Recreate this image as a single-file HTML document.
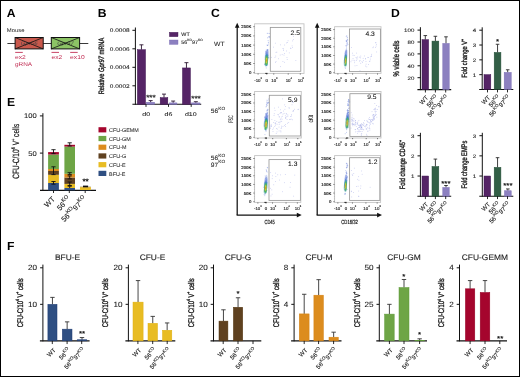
<!DOCTYPE html>
<html><head><meta charset="utf-8"><style>
html,body{margin:0;padding:0;background:#fff;overflow:hidden;}
svg{display:block;opacity:0.999;}
text{font-family:"Liberation Sans", sans-serif;text-rendering:geometricPrecision;}
</style></head><body>
<svg width="520" height="377" viewBox="0 0 520 377" font-family="Liberation Sans, sans-serif">
<rect x="0" y="0" width="520" height="377" fill="#fff"/>
<text transform="translate(6.70 16.70) scale(1.030 1)" font-size="11.8" fill="#000" font-weight="bold">A</text>
<text transform="translate(97.80 16.60) scale(1.030 1)" font-size="11.8" fill="#000" font-weight="bold">B</text>
<text transform="translate(211.00 16.80) scale(1.030 1)" font-size="11.8" fill="#000" font-weight="bold">C</text>
<text transform="translate(391.10 16.60) scale(1.030 1)" font-size="11.8" fill="#000" font-weight="bold">D</text>
<text transform="translate(6.90 105.90) scale(1.030 1)" font-size="11.8" fill="#000" font-weight="bold">E</text>
<text transform="translate(7.00 249.80) scale(1.030 1)" font-size="11.8" fill="#000" font-weight="bold">F</text>
<text transform="translate(6.80 32.30) scale(1.100 1)" font-size="5.4" fill="#222">Mouse</text>
<line x1="7.40" y1="43.50" x2="88.30" y2="43.50" stroke="#222" stroke-width="0.9"/>
<rect x="15.10" y="37.50" width="28.10" height="11.40" fill="#c9584c" stroke="#111" stroke-width="1.0"/>
<text transform="translate(29.15 45.40) scale(1.150 1)" font-size="5.2" fill="#444" text-anchor="middle" font-style="italic">Gpr56</text>
<line x1="15.10" y1="37.50" x2="43.20" y2="48.90" stroke="#111" stroke-width="0.8"/>
<line x1="15.10" y1="48.90" x2="43.20" y2="37.50" stroke="#111" stroke-width="0.8"/>
<rect x="51.30" y="37.50" width="28.30" height="11.40" fill="#8cc465" stroke="#111" stroke-width="1.0"/>
<text transform="translate(65.45 45.40) scale(1.150 1)" font-size="5.2" fill="#444" text-anchor="middle" font-style="italic">Gpr97</text>
<line x1="51.30" y1="37.50" x2="79.60" y2="48.90" stroke="#111" stroke-width="0.8"/>
<line x1="51.30" y1="48.90" x2="79.60" y2="37.50" stroke="#111" stroke-width="0.8"/>
<line x1="15.20" y1="52.40" x2="22.80" y2="52.40" stroke="#c22f55" stroke-width="0.9"/>
<line x1="51.50" y1="52.40" x2="59.00" y2="52.40" stroke="#c22f55" stroke-width="0.9"/>
<line x1="70.20" y1="52.40" x2="77.70" y2="52.40" stroke="#c22f55" stroke-width="0.9"/>
<text transform="translate(15.00 58.50) scale(1.200 1)" font-size="5.6" fill="#c22f55">ex2</text>
<text transform="translate(51.40 58.50) scale(1.200 1)" font-size="5.6" fill="#c22f55">ex2</text>
<text transform="translate(70.10 58.50) scale(1.200 1)" font-size="5.6" fill="#c22f55">ex10</text>
<text transform="translate(15.00 65.60) scale(1.150 1)" font-size="5.6" fill="#c22f55">gRNA</text>
<line x1="135.40" y1="104.80" x2="135.40" y2="27.50" stroke="#111" stroke-width="1.0"/>
<line x1="132.40" y1="85.80" x2="135.40" y2="85.80" stroke="#111" stroke-width="1.0"/>
<text transform="translate(129.60 87.71) scale(1.220 1)" font-size="5.3" fill="#1a1a1a" stroke="#1a1a1a" stroke-width="0.082" text-anchor="end">0.0002</text>
<line x1="132.40" y1="67.30" x2="135.40" y2="67.30" stroke="#111" stroke-width="1.0"/>
<text transform="translate(129.60 69.21) scale(1.220 1)" font-size="5.3" fill="#1a1a1a" stroke="#1a1a1a" stroke-width="0.082" text-anchor="end">0.0004</text>
<line x1="132.40" y1="48.80" x2="135.40" y2="48.80" stroke="#111" stroke-width="1.0"/>
<text transform="translate(129.60 50.71) scale(1.220 1)" font-size="5.3" fill="#1a1a1a" stroke="#1a1a1a" stroke-width="0.082" text-anchor="end">0.0006</text>
<line x1="132.40" y1="30.30" x2="135.40" y2="30.30" stroke="#111" stroke-width="1.0"/>
<text transform="translate(129.60 32.21) scale(1.220 1)" font-size="5.3" fill="#1a1a1a" stroke="#1a1a1a" stroke-width="0.082" text-anchor="end">0.0008</text>
<line x1="132.40" y1="104.30" x2="201.20" y2="104.30" stroke="#111" stroke-width="1.1"/>
<line x1="141.45" y1="49.72" x2="141.45" y2="44.82" stroke="#2a1530" stroke-width="0.9"/>
<line x1="139.45" y1="44.82" x2="143.45" y2="44.82" stroke="#2a1530" stroke-width="0.9"/>
<rect x="137.40" y="49.72" width="8.10" height="54.58" fill="#552466" stroke="#3e1450" stroke-width="0.5"/>
<line x1="150.65" y1="102.27" x2="150.65" y2="100.60" stroke="#2a1530" stroke-width="0.9"/>
<line x1="148.65" y1="100.60" x2="152.65" y2="100.60" stroke="#2a1530" stroke-width="0.9"/>
<rect x="146.70" y="102.27" width="7.90" height="2.03" fill="#8c80c0" stroke="#7a6cb4" stroke-width="0.5"/>
<line x1="164.00" y1="97.64" x2="164.00" y2="94.12" stroke="#2a1530" stroke-width="0.9"/>
<line x1="162.00" y1="94.12" x2="166.00" y2="94.12" stroke="#2a1530" stroke-width="0.9"/>
<rect x="160.20" y="97.64" width="7.60" height="6.66" fill="#552466" stroke="#3e1450" stroke-width="0.5"/>
<line x1="173.15" y1="102.91" x2="173.15" y2="101.06" stroke="#2a1530" stroke-width="0.9"/>
<line x1="171.15" y1="101.06" x2="175.15" y2="101.06" stroke="#2a1530" stroke-width="0.9"/>
<rect x="169.40" y="102.91" width="7.50" height="1.39" fill="#8c80c0" stroke="#7a6cb4" stroke-width="0.5"/>
<line x1="186.45" y1="67.95" x2="186.45" y2="62.67" stroke="#2a1530" stroke-width="0.9"/>
<line x1="184.45" y1="62.67" x2="188.45" y2="62.67" stroke="#2a1530" stroke-width="0.9"/>
<rect x="182.50" y="67.95" width="7.90" height="36.35" fill="#552466" stroke="#3e1450" stroke-width="0.5"/>
<line x1="195.85" y1="102.91" x2="195.85" y2="101.71" stroke="#2a1530" stroke-width="0.9"/>
<line x1="193.85" y1="101.71" x2="197.85" y2="101.71" stroke="#2a1530" stroke-width="0.9"/>
<rect x="191.70" y="102.91" width="8.30" height="1.39" fill="#8c80c0" stroke="#7a6cb4" stroke-width="0.5"/>
<line x1="146.00" y1="104.30" x2="146.00" y2="106.90" stroke="#111" stroke-width="0.9"/>
<line x1="168.50" y1="104.30" x2="168.50" y2="106.90" stroke="#111" stroke-width="0.9"/>
<line x1="191.20" y1="104.30" x2="191.20" y2="106.90" stroke="#111" stroke-width="0.9"/>
<text transform="translate(146.20 115.70) scale(1.300 1)" font-size="5.4" fill="#1a1a1a" stroke="#1a1a1a" stroke-width="0.077" text-anchor="middle">d0</text>
<text transform="translate(168.50 115.70) scale(1.300 1)" font-size="5.4" fill="#1a1a1a" stroke="#1a1a1a" stroke-width="0.077" text-anchor="middle">d6</text>
<text transform="translate(190.80 115.70) scale(1.300 1)" font-size="5.4" fill="#1a1a1a" stroke="#1a1a1a" stroke-width="0.077" text-anchor="middle">d10</text>
<text transform="translate(150.90 99.90) scale(1.100 1)" font-size="7.4" fill="#111" stroke="#111" stroke-width="0.182" text-anchor="middle">***</text>
<text transform="translate(196.00 100.60) scale(1.100 1)" font-size="7.4" fill="#111" stroke="#111" stroke-width="0.182" text-anchor="middle">***</text>
<rect x="169.40" y="32.30" width="8.60" height="4.40" fill="#552466" stroke="#3e1450" stroke-width="0.4"/>
<rect x="169.40" y="40.00" width="8.60" height="4.40" fill="#8c80c0" stroke="#7a6cb4" stroke-width="0.4"/>
<text transform="translate(181.30 36.30) scale(1.040 1)" font-size="5.2" fill="#1a1a1a" stroke="#1a1a1a" stroke-width="0.096">WT</text>
<text transform="translate(181.30 44.30) scale(1.040 1)" font-size="5.2" fill="#1a1a1a" stroke="#1a1a1a" stroke-width="0.096">56<tspan font-size="3.12" dy="-3.12">KO</tspan><tspan dy="3.12">97</tspan><tspan font-size="3.12" dy="-3.12">KO</tspan></text>
<text transform="translate(104.20 66.00) scale(1.250 1) rotate(-90)" font-size="6.2" fill="#1a1a1a" stroke="#1a1a1a" stroke-width="0.288" text-anchor="middle" textLength="56.50" lengthAdjust="spacingAndGlyphs">Relative <tspan font-style="italic">Gpr97</tspan> mRNA</text>
<defs><filter id="bl" x="-50%" y="-20%" width="200%" height="140%"><feGaussianBlur stdDeviation="0.45"/></filter><filter id="bl2" x="-50%" y="-20%" width="200%" height="140%"><feGaussianBlur stdDeviation="0.3"/></filter></defs>
<rect x="254.60" y="23.80" width="49.40" height="49.60" fill="none" stroke="#c4c4c4" stroke-width="0.9"/>
<line x1="253.30" y1="72.70" x2="254.60" y2="72.70" stroke="#444" stroke-width="0.7"/>
<line x1="253.90" y1="70.86" x2="254.60" y2="70.86" stroke="#888" stroke-width="0.4"/>
<line x1="253.90" y1="69.02" x2="254.60" y2="69.02" stroke="#888" stroke-width="0.4"/>
<line x1="253.90" y1="67.18" x2="254.60" y2="67.18" stroke="#888" stroke-width="0.4"/>
<line x1="253.90" y1="65.34" x2="254.60" y2="65.34" stroke="#888" stroke-width="0.4"/>
<text transform="translate(251.30 74.15) scale(1.050 1)" font-size="4.1" fill="#111" stroke="#111" stroke-width="0.143" text-anchor="end">0</text>
<line x1="253.30" y1="63.50" x2="254.60" y2="63.50" stroke="#444" stroke-width="0.7"/>
<line x1="253.90" y1="61.66" x2="254.60" y2="61.66" stroke="#888" stroke-width="0.4"/>
<line x1="253.90" y1="59.82" x2="254.60" y2="59.82" stroke="#888" stroke-width="0.4"/>
<line x1="253.90" y1="57.98" x2="254.60" y2="57.98" stroke="#888" stroke-width="0.4"/>
<line x1="253.90" y1="56.14" x2="254.60" y2="56.14" stroke="#888" stroke-width="0.4"/>
<text transform="translate(251.30 64.95) scale(1.050 1)" font-size="4.1" fill="#111" stroke="#111" stroke-width="0.143" text-anchor="end">50K</text>
<line x1="253.30" y1="54.30" x2="254.60" y2="54.30" stroke="#444" stroke-width="0.7"/>
<line x1="253.90" y1="52.46" x2="254.60" y2="52.46" stroke="#888" stroke-width="0.4"/>
<line x1="253.90" y1="50.62" x2="254.60" y2="50.62" stroke="#888" stroke-width="0.4"/>
<line x1="253.90" y1="48.78" x2="254.60" y2="48.78" stroke="#888" stroke-width="0.4"/>
<line x1="253.90" y1="46.94" x2="254.60" y2="46.94" stroke="#888" stroke-width="0.4"/>
<text transform="translate(251.30 55.75) scale(1.050 1)" font-size="4.1" fill="#111" stroke="#111" stroke-width="0.143" text-anchor="end">100K</text>
<line x1="253.30" y1="45.10" x2="254.60" y2="45.10" stroke="#444" stroke-width="0.7"/>
<line x1="253.90" y1="43.26" x2="254.60" y2="43.26" stroke="#888" stroke-width="0.4"/>
<line x1="253.90" y1="41.42" x2="254.60" y2="41.42" stroke="#888" stroke-width="0.4"/>
<line x1="253.90" y1="39.58" x2="254.60" y2="39.58" stroke="#888" stroke-width="0.4"/>
<line x1="253.90" y1="37.74" x2="254.60" y2="37.74" stroke="#888" stroke-width="0.4"/>
<text transform="translate(251.30 46.55) scale(1.050 1)" font-size="4.1" fill="#111" stroke="#111" stroke-width="0.143" text-anchor="end">150K</text>
<line x1="253.30" y1="35.90" x2="254.60" y2="35.90" stroke="#444" stroke-width="0.7"/>
<line x1="253.90" y1="34.06" x2="254.60" y2="34.06" stroke="#888" stroke-width="0.4"/>
<line x1="253.90" y1="32.22" x2="254.60" y2="32.22" stroke="#888" stroke-width="0.4"/>
<line x1="253.90" y1="30.38" x2="254.60" y2="30.38" stroke="#888" stroke-width="0.4"/>
<line x1="253.90" y1="28.54" x2="254.60" y2="28.54" stroke="#888" stroke-width="0.4"/>
<text transform="translate(251.30 37.35) scale(1.050 1)" font-size="4.1" fill="#111" stroke="#111" stroke-width="0.143" text-anchor="end">200K</text>
<line x1="253.30" y1="26.70" x2="254.60" y2="26.70" stroke="#444" stroke-width="0.7"/>
<text transform="translate(251.30 28.15) scale(1.050 1)" font-size="4.1" fill="#111" stroke="#111" stroke-width="0.143" text-anchor="end">250K</text>
<line x1="258.09" y1="73.40" x2="258.09" y2="74.60" stroke="#444" stroke-width="0.7"/>
<line x1="266.78" y1="73.40" x2="266.78" y2="74.60" stroke="#444" stroke-width="0.7"/>
<line x1="273.76" y1="73.40" x2="273.76" y2="74.60" stroke="#444" stroke-width="0.7"/>
<line x1="288.23" y1="73.40" x2="288.23" y2="74.60" stroke="#444" stroke-width="0.7"/>
<line x1="300.31" y1="73.40" x2="300.31" y2="74.60" stroke="#444" stroke-width="0.7"/>
<text transform="translate(258.09 81.60)" font-size="4.4" fill="#1a1a1a" stroke="#1a1a1a" stroke-width="0.120" text-anchor="middle">-10<tspan font-size="2.64" dy="-2.42">3</tspan></text>
<text transform="translate(266.78 81.60)" font-size="4.4" fill="#1a1a1a" stroke="#1a1a1a" stroke-width="0.120" text-anchor="middle">0</text>
<text transform="translate(274.36 81.60)" font-size="4.4" fill="#1a1a1a" stroke="#1a1a1a" stroke-width="0.120" text-anchor="middle">10<tspan font-size="2.64" dy="-2.42">3</tspan></text>
<text transform="translate(288.83 81.60)" font-size="4.4" fill="#1a1a1a" stroke="#1a1a1a" stroke-width="0.120" text-anchor="middle">10<tspan font-size="2.64" dy="-2.42">4</tspan></text>
<text transform="translate(300.91 81.60)" font-size="4.4" fill="#1a1a1a" stroke="#1a1a1a" stroke-width="0.120" text-anchor="middle">10<tspan font-size="2.64" dy="-2.42">5</tspan></text>
<rect x="273.03" y="46.75" width="0.75" height="0.75" fill="#959ce2" opacity="0.62"/>
<rect x="276.46" y="51.78" width="0.75" height="0.75" fill="#959ce2" opacity="0.62"/>
<rect x="291.97" y="47.08" width="0.75" height="0.75" fill="#959ce2" opacity="0.62"/>
<rect x="275.59" y="51.93" width="0.75" height="0.75" fill="#959ce2" opacity="0.62"/>
<rect x="282.52" y="61.19" width="0.75" height="0.75" fill="#959ce2" opacity="0.62"/>
<rect x="284.26" y="44.64" width="0.75" height="0.75" fill="#959ce2" opacity="0.62"/>
<rect x="275.63" y="61.10" width="0.75" height="0.75" fill="#959ce2" opacity="0.62"/>
<rect x="274.58" y="57.20" width="0.75" height="0.75" fill="#959ce2" opacity="0.62"/>
<rect x="279.99" y="44.50" width="0.75" height="0.75" fill="#959ce2" opacity="0.62"/>
<rect x="283.09" y="48.64" width="0.75" height="0.75" fill="#959ce2" opacity="0.62"/>
<rect x="286.07" y="50.61" width="0.75" height="0.75" fill="#959ce2" opacity="0.62"/>
<rect x="283.97" y="61.91" width="0.75" height="0.75" fill="#959ce2" opacity="0.62"/>
<rect x="282.56" y="48.25" width="0.75" height="0.75" fill="#959ce2" opacity="0.62"/>
<rect x="292.93" y="39.30" width="0.75" height="0.75" fill="#959ce2" opacity="0.62"/>
<rect x="279.83" y="54.65" width="0.75" height="0.75" fill="#959ce2" opacity="0.62"/>
<rect x="292.11" y="40.55" width="0.75" height="0.75" fill="#959ce2" opacity="0.62"/>
<rect x="286.03" y="42.54" width="0.75" height="0.75" fill="#959ce2" opacity="0.62"/>
<rect x="290.57" y="48.22" width="0.75" height="0.75" fill="#959ce2" opacity="0.62"/>
<rect x="280.22" y="66.28" width="0.75" height="0.75" fill="#959ce2" opacity="0.62"/>
<rect x="271.24" y="56.92" width="0.75" height="0.75" fill="#959ce2" opacity="0.62"/>
<rect x="275.35" y="55.68" width="0.75" height="0.75" fill="#959ce2" opacity="0.62"/>
<rect x="288.89" y="52.52" width="0.75" height="0.75" fill="#959ce2" opacity="0.62"/>
<rect x="286.60" y="57.21" width="0.75" height="0.75" fill="#959ce2" opacity="0.62"/>
<rect x="295.48" y="60.11" width="0.75" height="0.75" fill="#959ce2" opacity="0.62"/>
<rect x="278.25" y="58.40" width="0.75" height="0.75" fill="#959ce2" opacity="0.62"/>
<rect x="281.79" y="54.28" width="0.75" height="0.75" fill="#959ce2" opacity="0.62"/>
<rect x="287.68" y="40.39" width="0.75" height="0.75" fill="#959ce2" opacity="0.62"/>
<rect x="291.74" y="45.55" width="0.75" height="0.75" fill="#959ce2" opacity="0.62"/>
<rect x="292.99" y="35.94" width="0.75" height="0.75" fill="#959ce2" opacity="0.62"/>
<rect x="274.94" y="42.80" width="0.75" height="0.75" fill="#959ce2" opacity="0.62"/>
<rect x="283.59" y="54.75" width="0.75" height="0.75" fill="#959ce2" opacity="0.62"/>
<rect x="283.23" y="50.22" width="0.75" height="0.75" fill="#959ce2" opacity="0.62"/>
<rect x="275.04" y="62.10" width="0.75" height="0.75" fill="#959ce2" opacity="0.62"/>
<rect x="286.83" y="59.08" width="0.75" height="0.75" fill="#959ce2" opacity="0.62"/>
<rect x="284.05" y="53.04" width="0.75" height="0.75" fill="#959ce2" opacity="0.62"/>
<rect x="290.12" y="47.75" width="0.75" height="0.75" fill="#959ce2" opacity="0.62"/>
<rect x="287.20" y="42.08" width="0.75" height="0.75" fill="#959ce2" opacity="0.62"/>
<rect x="266.30" y="57.83" width="0.8" height="0.8" fill="#8094e0" opacity="0.7"/>
<rect x="267.30" y="44.86" width="0.8" height="0.8" fill="#8094e0" opacity="0.7"/>
<rect x="267.02" y="37.45" width="0.8" height="0.8" fill="#8094e0" opacity="0.7"/>
<rect x="268.05" y="42.56" width="0.8" height="0.8" fill="#8094e0" opacity="0.7"/>
<rect x="265.56" y="65.91" width="0.8" height="0.8" fill="#8094e0" opacity="0.7"/>
<rect x="266.02" y="58.20" width="0.8" height="0.8" fill="#8094e0" opacity="0.7"/>
<rect x="268.98" y="33.09" width="0.8" height="0.8" fill="#8094e0" opacity="0.7"/>
<rect x="267.39" y="56.78" width="0.8" height="0.8" fill="#8094e0" opacity="0.7"/>
<rect x="265.97" y="60.86" width="0.8" height="0.8" fill="#8094e0" opacity="0.7"/>
<rect x="267.18" y="56.62" width="0.8" height="0.8" fill="#8094e0" opacity="0.7"/>
<rect x="266.93" y="62.39" width="0.8" height="0.8" fill="#8094e0" opacity="0.7"/>
<rect x="266.82" y="56.26" width="0.8" height="0.8" fill="#8094e0" opacity="0.7"/>
<rect x="265.10" y="51.44" width="0.8" height="0.8" fill="#8094e0" opacity="0.7"/>
<rect x="265.33" y="62.97" width="0.8" height="0.8" fill="#8094e0" opacity="0.7"/>
<rect x="265.12" y="63.51" width="0.8" height="0.8" fill="#8094e0" opacity="0.7"/>
<rect x="267.04" y="56.19" width="0.8" height="0.8" fill="#8094e0" opacity="0.7"/>
<rect x="266.27" y="65.10" width="0.8" height="0.8" fill="#8094e0" opacity="0.7"/>
<rect x="264.94" y="64.80" width="0.8" height="0.8" fill="#8094e0" opacity="0.7"/>
<rect x="265.90" y="52.81" width="0.8" height="0.8" fill="#8094e0" opacity="0.7"/>
<rect x="267.33" y="58.00" width="0.8" height="0.8" fill="#8094e0" opacity="0.7"/>
<rect x="267.50" y="49.14" width="0.8" height="0.8" fill="#8094e0" opacity="0.7"/>
<rect x="267.20" y="60.87" width="0.8" height="0.8" fill="#8094e0" opacity="0.7"/>
<rect x="265.46" y="53.33" width="0.8" height="0.8" fill="#8094e0" opacity="0.7"/>
<rect x="267.65" y="32.91" width="0.8" height="0.8" fill="#8094e0" opacity="0.7"/>
<rect x="268.77" y="37.26" width="0.8" height="0.8" fill="#8094e0" opacity="0.7"/>
<rect x="265.58" y="57.78" width="0.8" height="0.8" fill="#8094e0" opacity="0.7"/>
<rect x="267.28" y="57.35" width="0.8" height="0.8" fill="#8094e0" opacity="0.7"/>
<rect x="267.77" y="44.45" width="0.8" height="0.8" fill="#8094e0" opacity="0.7"/>
<rect x="265.94" y="51.78" width="0.8" height="0.8" fill="#8094e0" opacity="0.7"/>
<rect x="268.42" y="36.34" width="0.8" height="0.8" fill="#8094e0" opacity="0.7"/>
<rect x="264.57" y="64.15" width="0.8" height="0.8" fill="#8094e0" opacity="0.7"/>
<rect x="265.70" y="63.16" width="0.8" height="0.8" fill="#8094e0" opacity="0.7"/>
<rect x="267.08" y="44.99" width="0.8" height="0.8" fill="#8094e0" opacity="0.7"/>
<rect x="267.33" y="49.81" width="0.8" height="0.8" fill="#8094e0" opacity="0.7"/>
<rect x="267.63" y="57.05" width="0.8" height="0.8" fill="#8094e0" opacity="0.7"/>
<rect x="266.29" y="58.59" width="0.8" height="0.8" fill="#8094e0" opacity="0.7"/>
<rect x="267.48" y="56.60" width="0.8" height="0.8" fill="#8094e0" opacity="0.7"/>
<rect x="265.51" y="61.72" width="0.8" height="0.8" fill="#8094e0" opacity="0.7"/>
<rect x="269.00" y="36.34" width="0.8" height="0.8" fill="#8094e0" opacity="0.7"/>
<rect x="265.80" y="67.54" width="0.8" height="0.8" fill="#8094e0" opacity="0.7"/>
<rect x="268.76" y="36.47" width="0.8" height="0.8" fill="#8094e0" opacity="0.7"/>
<rect x="267.12" y="49.92" width="0.8" height="0.8" fill="#8094e0" opacity="0.7"/>
<rect x="264.08" y="63.66" width="0.8" height="0.8" fill="#8094e0" opacity="0.7"/>
<rect x="266.81" y="61.52" width="0.8" height="0.8" fill="#8094e0" opacity="0.7"/>
<rect x="266.84" y="32.90" width="0.8" height="0.8" fill="#8094e0" opacity="0.7"/>
<rect x="267.71" y="40.09" width="0.8" height="0.8" fill="#8094e0" opacity="0.7"/>
<rect x="265.66" y="51.78" width="0.8" height="0.8" fill="#8094e0" opacity="0.7"/>
<rect x="265.11" y="59.39" width="0.8" height="0.8" fill="#8094e0" opacity="0.7"/>
<rect x="267.28" y="64.50" width="0.8" height="0.8" fill="#8094e0" opacity="0.7"/>
<rect x="266.33" y="64.94" width="0.8" height="0.8" fill="#8094e0" opacity="0.7"/>
<rect x="266.49" y="63.30" width="0.8" height="0.8" fill="#8094e0" opacity="0.7"/>
<rect x="267.22" y="58.01" width="0.8" height="0.8" fill="#8094e0" opacity="0.7"/>
<rect x="265.38" y="55.19" width="0.8" height="0.8" fill="#8094e0" opacity="0.7"/>
<rect x="266.88" y="52.45" width="0.8" height="0.8" fill="#8094e0" opacity="0.7"/>
<rect x="265.45" y="56.10" width="0.8" height="0.8" fill="#8094e0" opacity="0.7"/>
<rect x="268.34" y="57.35" width="0.8" height="0.8" fill="#8094e0" opacity="0.7"/>
<rect x="266.36" y="58.75" width="0.8" height="0.8" fill="#8094e0" opacity="0.7"/>
<rect x="266.77" y="56.70" width="0.8" height="0.8" fill="#8094e0" opacity="0.7"/>
<rect x="266.63" y="44.72" width="0.8" height="0.8" fill="#8094e0" opacity="0.7"/>
<rect x="265.20" y="60.63" width="0.8" height="0.8" fill="#8094e0" opacity="0.7"/>
<rect x="267.71" y="54.85" width="0.8" height="0.8" fill="#8094e0" opacity="0.7"/>
<rect x="267.91" y="41.81" width="0.8" height="0.8" fill="#8094e0" opacity="0.7"/>
<rect x="266.33" y="61.54" width="0.8" height="0.8" fill="#8094e0" opacity="0.7"/>
<rect x="264.77" y="58.83" width="0.8" height="0.8" fill="#8094e0" opacity="0.7"/>
<rect x="265.50" y="64.49" width="0.8" height="0.8" fill="#8094e0" opacity="0.7"/>
<rect x="266.20" y="62.53" width="0.8" height="0.8" fill="#8094e0" opacity="0.7"/>
<rect x="267.39" y="58.49" width="0.8" height="0.8" fill="#8094e0" opacity="0.7"/>
<rect x="266.43" y="52.47" width="0.8" height="0.8" fill="#8094e0" opacity="0.7"/>
<rect x="266.88" y="58.62" width="0.8" height="0.8" fill="#8094e0" opacity="0.7"/>
<rect x="265.64" y="62.32" width="0.8" height="0.8" fill="#8094e0" opacity="0.7"/>
<g filter="url(#bl)" transform="translate(266.50 60.50) scale(1.0 1) rotate(4) translate(-266.50 -60.50)"><ellipse cx="266.50" cy="57.50" rx="1.7" ry="8.5" fill="#7088dc" opacity="0.85"/><ellipse cx="266.50" cy="59.50" rx="1.5" ry="6.0" fill="#3a80c8"/><ellipse cx="266.50" cy="60.50" rx="1.45" ry="5.6" fill="#2fa58a"/><ellipse cx="266.50" cy="60.50" rx="1.25" ry="4.6" fill="#5db84a"/><ellipse cx="266.50" cy="60.50" rx="0.85" ry="3.0" fill="#d7cd34"/><ellipse cx="266.50" cy="60.50" rx="0.45" ry="1.3" fill="#e58a2c"/></g>
<line x1="265.30" y1="73.40" x2="267.50" y2="73.40" stroke="#222" stroke-width="1.0"/>
<rect x="270.30" y="27.40" width="30.50" height="43.90" fill="none" stroke="#999" stroke-width="0.85"/>
<text transform="translate(299.90 34.80) scale(1.050 1)" font-size="6.4" fill="#111" stroke="#111" stroke-width="0.057" text-anchor="end">2.5</text>
<rect x="334.60" y="26.70" width="46.40" height="46.70" fill="none" stroke="#c4c4c4" stroke-width="0.9"/>
<line x1="333.30" y1="72.70" x2="334.60" y2="72.70" stroke="#444" stroke-width="0.7"/>
<line x1="333.90" y1="70.98" x2="334.60" y2="70.98" stroke="#888" stroke-width="0.4"/>
<line x1="333.90" y1="69.25" x2="334.60" y2="69.25" stroke="#888" stroke-width="0.4"/>
<line x1="333.90" y1="67.53" x2="334.60" y2="67.53" stroke="#888" stroke-width="0.4"/>
<line x1="333.90" y1="65.80" x2="334.60" y2="65.80" stroke="#888" stroke-width="0.4"/>
<text transform="translate(331.30 74.15) scale(1.050 1)" font-size="4.1" fill="#111" stroke="#111" stroke-width="0.143" text-anchor="end">0</text>
<line x1="333.30" y1="64.08" x2="334.60" y2="64.08" stroke="#444" stroke-width="0.7"/>
<line x1="333.90" y1="62.36" x2="334.60" y2="62.36" stroke="#888" stroke-width="0.4"/>
<line x1="333.90" y1="60.63" x2="334.60" y2="60.63" stroke="#888" stroke-width="0.4"/>
<line x1="333.90" y1="58.91" x2="334.60" y2="58.91" stroke="#888" stroke-width="0.4"/>
<line x1="333.90" y1="57.18" x2="334.60" y2="57.18" stroke="#888" stroke-width="0.4"/>
<text transform="translate(331.30 65.53) scale(1.050 1)" font-size="4.1" fill="#111" stroke="#111" stroke-width="0.143" text-anchor="end">50K</text>
<line x1="333.30" y1="55.46" x2="334.60" y2="55.46" stroke="#444" stroke-width="0.7"/>
<line x1="333.90" y1="53.74" x2="334.60" y2="53.74" stroke="#888" stroke-width="0.4"/>
<line x1="333.90" y1="52.01" x2="334.60" y2="52.01" stroke="#888" stroke-width="0.4"/>
<line x1="333.90" y1="50.29" x2="334.60" y2="50.29" stroke="#888" stroke-width="0.4"/>
<line x1="333.90" y1="48.56" x2="334.60" y2="48.56" stroke="#888" stroke-width="0.4"/>
<text transform="translate(331.30 56.91) scale(1.050 1)" font-size="4.1" fill="#111" stroke="#111" stroke-width="0.143" text-anchor="end">100K</text>
<line x1="333.30" y1="46.84" x2="334.60" y2="46.84" stroke="#444" stroke-width="0.7"/>
<line x1="333.90" y1="45.12" x2="334.60" y2="45.12" stroke="#888" stroke-width="0.4"/>
<line x1="333.90" y1="43.39" x2="334.60" y2="43.39" stroke="#888" stroke-width="0.4"/>
<line x1="333.90" y1="41.67" x2="334.60" y2="41.67" stroke="#888" stroke-width="0.4"/>
<line x1="333.90" y1="39.94" x2="334.60" y2="39.94" stroke="#888" stroke-width="0.4"/>
<text transform="translate(331.30 48.29) scale(1.050 1)" font-size="4.1" fill="#111" stroke="#111" stroke-width="0.143" text-anchor="end">150K</text>
<line x1="333.30" y1="38.22" x2="334.60" y2="38.22" stroke="#444" stroke-width="0.7"/>
<line x1="333.90" y1="36.50" x2="334.60" y2="36.50" stroke="#888" stroke-width="0.4"/>
<line x1="333.90" y1="34.77" x2="334.60" y2="34.77" stroke="#888" stroke-width="0.4"/>
<line x1="333.90" y1="33.05" x2="334.60" y2="33.05" stroke="#888" stroke-width="0.4"/>
<line x1="333.90" y1="31.32" x2="334.60" y2="31.32" stroke="#888" stroke-width="0.4"/>
<text transform="translate(331.30 39.67) scale(1.050 1)" font-size="4.1" fill="#111" stroke="#111" stroke-width="0.143" text-anchor="end">200K</text>
<line x1="333.30" y1="29.60" x2="334.60" y2="29.60" stroke="#444" stroke-width="0.7"/>
<text transform="translate(331.30 31.05) scale(1.050 1)" font-size="4.1" fill="#111" stroke="#111" stroke-width="0.143" text-anchor="end">250K</text>
<line x1="337.88" y1="73.40" x2="337.88" y2="74.60" stroke="#444" stroke-width="0.7"/>
<line x1="346.04" y1="73.40" x2="346.04" y2="74.60" stroke="#444" stroke-width="0.7"/>
<line x1="352.60" y1="73.40" x2="352.60" y2="74.60" stroke="#444" stroke-width="0.7"/>
<line x1="366.19" y1="73.40" x2="366.19" y2="74.60" stroke="#444" stroke-width="0.7"/>
<line x1="377.53" y1="73.40" x2="377.53" y2="74.60" stroke="#444" stroke-width="0.7"/>
<text transform="translate(337.88 81.60)" font-size="4.4" fill="#1a1a1a" stroke="#1a1a1a" stroke-width="0.120" text-anchor="middle">-10<tspan font-size="2.64" dy="-2.42">3</tspan></text>
<text transform="translate(346.04 81.60)" font-size="4.4" fill="#1a1a1a" stroke="#1a1a1a" stroke-width="0.120" text-anchor="middle">0</text>
<text transform="translate(353.20 81.60)" font-size="4.4" fill="#1a1a1a" stroke="#1a1a1a" stroke-width="0.120" text-anchor="middle">10<tspan font-size="2.64" dy="-2.42">3</tspan></text>
<text transform="translate(366.79 81.60)" font-size="4.4" fill="#1a1a1a" stroke="#1a1a1a" stroke-width="0.120" text-anchor="middle">10<tspan font-size="2.64" dy="-2.42">4</tspan></text>
<text transform="translate(378.13 81.60)" font-size="4.4" fill="#1a1a1a" stroke="#1a1a1a" stroke-width="0.120" text-anchor="middle">10<tspan font-size="2.64" dy="-2.42">5</tspan></text>
<rect x="362.77" y="57.91" width="0.75" height="0.75" fill="#959ce2" opacity="0.62"/>
<rect x="356.15" y="59.93" width="0.75" height="0.75" fill="#959ce2" opacity="0.62"/>
<rect x="359.26" y="56.75" width="0.75" height="0.75" fill="#959ce2" opacity="0.62"/>
<rect x="365.24" y="58.63" width="0.75" height="0.75" fill="#959ce2" opacity="0.62"/>
<rect x="354.40" y="60.54" width="0.75" height="0.75" fill="#959ce2" opacity="0.62"/>
<rect x="376.27" y="51.60" width="0.75" height="0.75" fill="#959ce2" opacity="0.62"/>
<rect x="352.59" y="54.85" width="0.75" height="0.75" fill="#959ce2" opacity="0.62"/>
<rect x="362.10" y="62.01" width="0.75" height="0.75" fill="#959ce2" opacity="0.62"/>
<rect x="353.82" y="55.23" width="0.75" height="0.75" fill="#959ce2" opacity="0.62"/>
<rect x="356.39" y="57.65" width="0.75" height="0.75" fill="#959ce2" opacity="0.62"/>
<rect x="353.55" y="59.85" width="0.75" height="0.75" fill="#959ce2" opacity="0.62"/>
<rect x="359.07" y="60.74" width="0.75" height="0.75" fill="#959ce2" opacity="0.62"/>
<rect x="369.91" y="58.70" width="0.75" height="0.75" fill="#959ce2" opacity="0.62"/>
<rect x="371.05" y="55.72" width="0.75" height="0.75" fill="#959ce2" opacity="0.62"/>
<rect x="365.59" y="61.16" width="0.75" height="0.75" fill="#959ce2" opacity="0.62"/>
<rect x="351.15" y="46.99" width="0.75" height="0.75" fill="#959ce2" opacity="0.62"/>
<rect x="375.27" y="42.38" width="0.75" height="0.75" fill="#959ce2" opacity="0.62"/>
<rect x="360.25" y="57.50" width="0.75" height="0.75" fill="#959ce2" opacity="0.62"/>
<rect x="354.27" y="62.39" width="0.75" height="0.75" fill="#959ce2" opacity="0.62"/>
<rect x="365.18" y="58.08" width="0.75" height="0.75" fill="#959ce2" opacity="0.62"/>
<rect x="352.10" y="52.79" width="0.75" height="0.75" fill="#959ce2" opacity="0.62"/>
<rect x="365.07" y="65.67" width="0.75" height="0.75" fill="#959ce2" opacity="0.62"/>
<rect x="361.63" y="60.92" width="0.75" height="0.75" fill="#959ce2" opacity="0.62"/>
<rect x="366.43" y="66.49" width="0.75" height="0.75" fill="#959ce2" opacity="0.62"/>
<rect x="351.64" y="59.82" width="0.75" height="0.75" fill="#959ce2" opacity="0.62"/>
<rect x="369.02" y="60.98" width="0.75" height="0.75" fill="#959ce2" opacity="0.62"/>
<rect x="356.55" y="65.00" width="0.75" height="0.75" fill="#959ce2" opacity="0.62"/>
<rect x="372.46" y="47.37" width="0.75" height="0.75" fill="#959ce2" opacity="0.62"/>
<rect x="356.70" y="58.66" width="0.75" height="0.75" fill="#959ce2" opacity="0.62"/>
<rect x="356.26" y="52.71" width="0.75" height="0.75" fill="#959ce2" opacity="0.62"/>
<rect x="350.55" y="61.41" width="0.75" height="0.75" fill="#959ce2" opacity="0.62"/>
<rect x="360.36" y="62.89" width="0.75" height="0.75" fill="#959ce2" opacity="0.62"/>
<rect x="376.10" y="43.92" width="0.75" height="0.75" fill="#959ce2" opacity="0.62"/>
<rect x="360.38" y="55.69" width="0.75" height="0.75" fill="#959ce2" opacity="0.62"/>
<rect x="368.01" y="64.01" width="0.75" height="0.75" fill="#959ce2" opacity="0.62"/>
<rect x="363.16" y="60.33" width="0.75" height="0.75" fill="#959ce2" opacity="0.62"/>
<rect x="375.72" y="45.66" width="0.75" height="0.75" fill="#959ce2" opacity="0.62"/>
<rect x="359.71" y="59.97" width="0.75" height="0.75" fill="#959ce2" opacity="0.62"/>
<rect x="373.25" y="46.61" width="0.75" height="0.75" fill="#959ce2" opacity="0.62"/>
<rect x="369.62" y="60.62" width="0.75" height="0.75" fill="#959ce2" opacity="0.62"/>
<rect x="357.32" y="56.59" width="0.75" height="0.75" fill="#959ce2" opacity="0.62"/>
<rect x="355.63" y="56.97" width="0.75" height="0.75" fill="#959ce2" opacity="0.62"/>
<rect x="354.63" y="65.45" width="0.75" height="0.75" fill="#959ce2" opacity="0.62"/>
<rect x="363.96" y="55.61" width="0.75" height="0.75" fill="#959ce2" opacity="0.62"/>
<rect x="375.59" y="42.37" width="0.75" height="0.75" fill="#959ce2" opacity="0.62"/>
<rect x="368.29" y="57.10" width="0.75" height="0.75" fill="#959ce2" opacity="0.62"/>
<rect x="365.71" y="63.78" width="0.75" height="0.75" fill="#959ce2" opacity="0.62"/>
<rect x="369.95" y="56.43" width="0.75" height="0.75" fill="#959ce2" opacity="0.62"/>
<rect x="371.30" y="53.91" width="0.75" height="0.75" fill="#959ce2" opacity="0.62"/>
<rect x="375.25" y="47.26" width="0.75" height="0.75" fill="#959ce2" opacity="0.62"/>
<rect x="371.03" y="55.78" width="0.75" height="0.75" fill="#959ce2" opacity="0.62"/>
<rect x="359.59" y="70.23" width="0.75" height="0.75" fill="#959ce2" opacity="0.62"/>
<rect x="367.41" y="56.94" width="0.75" height="0.75" fill="#959ce2" opacity="0.62"/>
<rect x="352.66" y="58.07" width="0.75" height="0.75" fill="#959ce2" opacity="0.62"/>
<rect x="346.16" y="40.99" width="0.8" height="0.8" fill="#8094e0" opacity="0.7"/>
<rect x="345.22" y="62.55" width="0.8" height="0.8" fill="#8094e0" opacity="0.7"/>
<rect x="345.94" y="52.69" width="0.8" height="0.8" fill="#8094e0" opacity="0.7"/>
<rect x="344.45" y="55.56" width="0.8" height="0.8" fill="#8094e0" opacity="0.7"/>
<rect x="346.36" y="35.37" width="0.8" height="0.8" fill="#8094e0" opacity="0.7"/>
<rect x="345.85" y="51.95" width="0.8" height="0.8" fill="#8094e0" opacity="0.7"/>
<rect x="345.96" y="40.80" width="0.8" height="0.8" fill="#8094e0" opacity="0.7"/>
<rect x="347.56" y="43.97" width="0.8" height="0.8" fill="#8094e0" opacity="0.7"/>
<rect x="346.29" y="39.83" width="0.8" height="0.8" fill="#8094e0" opacity="0.7"/>
<rect x="344.25" y="61.76" width="0.8" height="0.8" fill="#8094e0" opacity="0.7"/>
<rect x="346.17" y="46.68" width="0.8" height="0.8" fill="#8094e0" opacity="0.7"/>
<rect x="344.73" y="62.27" width="0.8" height="0.8" fill="#8094e0" opacity="0.7"/>
<rect x="344.04" y="65.22" width="0.8" height="0.8" fill="#8094e0" opacity="0.7"/>
<rect x="346.08" y="48.59" width="0.8" height="0.8" fill="#8094e0" opacity="0.7"/>
<rect x="344.70" y="56.60" width="0.8" height="0.8" fill="#8094e0" opacity="0.7"/>
<rect x="345.62" y="51.43" width="0.8" height="0.8" fill="#8094e0" opacity="0.7"/>
<rect x="345.15" y="57.23" width="0.8" height="0.8" fill="#8094e0" opacity="0.7"/>
<rect x="347.06" y="42.59" width="0.8" height="0.8" fill="#8094e0" opacity="0.7"/>
<rect x="346.20" y="40.47" width="0.8" height="0.8" fill="#8094e0" opacity="0.7"/>
<rect x="345.44" y="55.49" width="0.8" height="0.8" fill="#8094e0" opacity="0.7"/>
<rect x="344.86" y="58.94" width="0.8" height="0.8" fill="#8094e0" opacity="0.7"/>
<rect x="345.76" y="58.29" width="0.8" height="0.8" fill="#8094e0" opacity="0.7"/>
<rect x="345.56" y="51.26" width="0.8" height="0.8" fill="#8094e0" opacity="0.7"/>
<rect x="344.96" y="55.16" width="0.8" height="0.8" fill="#8094e0" opacity="0.7"/>
<rect x="345.85" y="50.66" width="0.8" height="0.8" fill="#8094e0" opacity="0.7"/>
<rect x="346.89" y="44.60" width="0.8" height="0.8" fill="#8094e0" opacity="0.7"/>
<rect x="345.73" y="55.59" width="0.8" height="0.8" fill="#8094e0" opacity="0.7"/>
<rect x="345.59" y="59.85" width="0.8" height="0.8" fill="#8094e0" opacity="0.7"/>
<rect x="345.05" y="67.78" width="0.8" height="0.8" fill="#8094e0" opacity="0.7"/>
<rect x="344.61" y="62.23" width="0.8" height="0.8" fill="#8094e0" opacity="0.7"/>
<rect x="345.54" y="59.86" width="0.8" height="0.8" fill="#8094e0" opacity="0.7"/>
<rect x="344.77" y="61.97" width="0.8" height="0.8" fill="#8094e0" opacity="0.7"/>
<rect x="345.04" y="63.99" width="0.8" height="0.8" fill="#8094e0" opacity="0.7"/>
<rect x="347.17" y="39.05" width="0.8" height="0.8" fill="#8094e0" opacity="0.7"/>
<rect x="347.44" y="39.54" width="0.8" height="0.8" fill="#8094e0" opacity="0.7"/>
<rect x="346.95" y="42.71" width="0.8" height="0.8" fill="#8094e0" opacity="0.7"/>
<rect x="345.19" y="52.41" width="0.8" height="0.8" fill="#8094e0" opacity="0.7"/>
<rect x="345.74" y="55.96" width="0.8" height="0.8" fill="#8094e0" opacity="0.7"/>
<rect x="344.46" y="62.09" width="0.8" height="0.8" fill="#8094e0" opacity="0.7"/>
<rect x="345.75" y="55.05" width="0.8" height="0.8" fill="#8094e0" opacity="0.7"/>
<rect x="345.38" y="45.39" width="0.8" height="0.8" fill="#8094e0" opacity="0.7"/>
<rect x="345.24" y="58.65" width="0.8" height="0.8" fill="#8094e0" opacity="0.7"/>
<rect x="344.26" y="64.37" width="0.8" height="0.8" fill="#8094e0" opacity="0.7"/>
<rect x="344.78" y="58.86" width="0.8" height="0.8" fill="#8094e0" opacity="0.7"/>
<rect x="345.94" y="50.40" width="0.8" height="0.8" fill="#8094e0" opacity="0.7"/>
<rect x="345.83" y="36.22" width="0.8" height="0.8" fill="#8094e0" opacity="0.7"/>
<rect x="346.94" y="36.79" width="0.8" height="0.8" fill="#8094e0" opacity="0.7"/>
<rect x="346.84" y="37.54" width="0.8" height="0.8" fill="#8094e0" opacity="0.7"/>
<rect x="344.77" y="52.84" width="0.8" height="0.8" fill="#8094e0" opacity="0.7"/>
<rect x="343.84" y="60.40" width="0.8" height="0.8" fill="#8094e0" opacity="0.7"/>
<rect x="347.18" y="40.53" width="0.8" height="0.8" fill="#8094e0" opacity="0.7"/>
<rect x="345.36" y="54.28" width="0.8" height="0.8" fill="#8094e0" opacity="0.7"/>
<rect x="345.86" y="48.72" width="0.8" height="0.8" fill="#8094e0" opacity="0.7"/>
<rect x="346.30" y="50.38" width="0.8" height="0.8" fill="#8094e0" opacity="0.7"/>
<rect x="344.65" y="67.39" width="0.8" height="0.8" fill="#8094e0" opacity="0.7"/>
<rect x="345.71" y="58.42" width="0.8" height="0.8" fill="#8094e0" opacity="0.7"/>
<rect x="345.04" y="55.79" width="0.8" height="0.8" fill="#8094e0" opacity="0.7"/>
<rect x="345.70" y="40.54" width="0.8" height="0.8" fill="#8094e0" opacity="0.7"/>
<rect x="345.17" y="61.31" width="0.8" height="0.8" fill="#8094e0" opacity="0.7"/>
<rect x="344.94" y="57.02" width="0.8" height="0.8" fill="#8094e0" opacity="0.7"/>
<rect x="345.42" y="57.98" width="0.8" height="0.8" fill="#8094e0" opacity="0.7"/>
<rect x="345.34" y="56.91" width="0.8" height="0.8" fill="#8094e0" opacity="0.7"/>
<rect x="346.10" y="44.62" width="0.8" height="0.8" fill="#8094e0" opacity="0.7"/>
<rect x="346.18" y="59.25" width="0.8" height="0.8" fill="#8094e0" opacity="0.7"/>
<rect x="345.98" y="45.48" width="0.8" height="0.8" fill="#8094e0" opacity="0.7"/>
<rect x="345.44" y="53.76" width="0.8" height="0.8" fill="#8094e0" opacity="0.7"/>
<rect x="344.72" y="58.78" width="0.8" height="0.8" fill="#8094e0" opacity="0.7"/>
<rect x="346.04" y="42.66" width="0.8" height="0.8" fill="#8094e0" opacity="0.7"/>
<rect x="344.88" y="60.54" width="0.8" height="0.8" fill="#8094e0" opacity="0.7"/>
<rect x="345.17" y="64.74" width="0.8" height="0.8" fill="#8094e0" opacity="0.7"/>
<g filter="url(#bl)" transform="translate(345.60 61.00) scale(0.75 1) rotate(4) translate(-345.60 -61.00)"><ellipse cx="345.60" cy="58.00" rx="1.7" ry="8.5" fill="#7088dc" opacity="0.85"/><ellipse cx="345.60" cy="60.00" rx="1.5" ry="6.0" fill="#3a80c8"/><ellipse cx="345.60" cy="61.00" rx="1.45" ry="5.6" fill="#2fa58a"/><ellipse cx="345.60" cy="61.00" rx="1.25" ry="4.6" fill="#5db84a"/><ellipse cx="345.60" cy="61.00" rx="0.85" ry="3.0" fill="#d7cd34"/><ellipse cx="345.60" cy="61.00" rx="0.45" ry="1.3" fill="#e58a2c"/></g>
<line x1="344.40" y1="73.40" x2="346.60" y2="73.40" stroke="#222" stroke-width="1.0"/>
<rect x="349.50" y="29.00" width="30.90" height="42.60" fill="none" stroke="#999" stroke-width="0.85"/>
<text transform="translate(374.80 36.40) scale(1.050 1)" font-size="6.4" fill="#111" stroke="#111" stroke-width="0.057" text-anchor="end">4.3</text>
<rect x="254.60" y="91.50" width="46.70" height="46.50" fill="none" stroke="#c4c4c4" stroke-width="0.9"/>
<line x1="253.30" y1="137.30" x2="254.60" y2="137.30" stroke="#444" stroke-width="0.7"/>
<line x1="253.90" y1="135.58" x2="254.60" y2="135.58" stroke="#888" stroke-width="0.4"/>
<line x1="253.90" y1="133.87" x2="254.60" y2="133.87" stroke="#888" stroke-width="0.4"/>
<line x1="253.90" y1="132.15" x2="254.60" y2="132.15" stroke="#888" stroke-width="0.4"/>
<line x1="253.90" y1="130.44" x2="254.60" y2="130.44" stroke="#888" stroke-width="0.4"/>
<text transform="translate(251.30 138.75) scale(1.050 1)" font-size="4.1" fill="#111" stroke="#111" stroke-width="0.143" text-anchor="end">0</text>
<line x1="253.30" y1="128.72" x2="254.60" y2="128.72" stroke="#444" stroke-width="0.7"/>
<line x1="253.90" y1="127.00" x2="254.60" y2="127.00" stroke="#888" stroke-width="0.4"/>
<line x1="253.90" y1="125.29" x2="254.60" y2="125.29" stroke="#888" stroke-width="0.4"/>
<line x1="253.90" y1="123.57" x2="254.60" y2="123.57" stroke="#888" stroke-width="0.4"/>
<line x1="253.90" y1="121.86" x2="254.60" y2="121.86" stroke="#888" stroke-width="0.4"/>
<text transform="translate(251.30 130.17) scale(1.050 1)" font-size="4.1" fill="#111" stroke="#111" stroke-width="0.143" text-anchor="end">50K</text>
<line x1="253.30" y1="120.14" x2="254.60" y2="120.14" stroke="#444" stroke-width="0.7"/>
<line x1="253.90" y1="118.42" x2="254.60" y2="118.42" stroke="#888" stroke-width="0.4"/>
<line x1="253.90" y1="116.71" x2="254.60" y2="116.71" stroke="#888" stroke-width="0.4"/>
<line x1="253.90" y1="114.99" x2="254.60" y2="114.99" stroke="#888" stroke-width="0.4"/>
<line x1="253.90" y1="113.28" x2="254.60" y2="113.28" stroke="#888" stroke-width="0.4"/>
<text transform="translate(251.30 121.59) scale(1.050 1)" font-size="4.1" fill="#111" stroke="#111" stroke-width="0.143" text-anchor="end">100K</text>
<line x1="253.30" y1="111.56" x2="254.60" y2="111.56" stroke="#444" stroke-width="0.7"/>
<line x1="253.90" y1="109.84" x2="254.60" y2="109.84" stroke="#888" stroke-width="0.4"/>
<line x1="253.90" y1="108.13" x2="254.60" y2="108.13" stroke="#888" stroke-width="0.4"/>
<line x1="253.90" y1="106.41" x2="254.60" y2="106.41" stroke="#888" stroke-width="0.4"/>
<line x1="253.90" y1="104.70" x2="254.60" y2="104.70" stroke="#888" stroke-width="0.4"/>
<text transform="translate(251.30 113.01) scale(1.050 1)" font-size="4.1" fill="#111" stroke="#111" stroke-width="0.143" text-anchor="end">150K</text>
<line x1="253.30" y1="102.98" x2="254.60" y2="102.98" stroke="#444" stroke-width="0.7"/>
<line x1="253.90" y1="101.26" x2="254.60" y2="101.26" stroke="#888" stroke-width="0.4"/>
<line x1="253.90" y1="99.55" x2="254.60" y2="99.55" stroke="#888" stroke-width="0.4"/>
<line x1="253.90" y1="97.83" x2="254.60" y2="97.83" stroke="#888" stroke-width="0.4"/>
<line x1="253.90" y1="96.12" x2="254.60" y2="96.12" stroke="#888" stroke-width="0.4"/>
<text transform="translate(251.30 104.43) scale(1.050 1)" font-size="4.1" fill="#111" stroke="#111" stroke-width="0.143" text-anchor="end">200K</text>
<line x1="253.30" y1="94.40" x2="254.60" y2="94.40" stroke="#444" stroke-width="0.7"/>
<text transform="translate(251.30 95.85) scale(1.050 1)" font-size="4.1" fill="#111" stroke="#111" stroke-width="0.143" text-anchor="end">250K</text>
<line x1="257.90" y1="138.00" x2="257.90" y2="139.20" stroke="#444" stroke-width="0.7"/>
<line x1="266.11" y1="138.00" x2="266.11" y2="139.20" stroke="#444" stroke-width="0.7"/>
<line x1="272.71" y1="138.00" x2="272.71" y2="139.20" stroke="#444" stroke-width="0.7"/>
<line x1="286.39" y1="138.00" x2="286.39" y2="139.20" stroke="#444" stroke-width="0.7"/>
<line x1="297.81" y1="138.00" x2="297.81" y2="139.20" stroke="#444" stroke-width="0.7"/>
<text transform="translate(257.90 145.80)" font-size="4.4" fill="#1a1a1a" stroke="#1a1a1a" stroke-width="0.120" text-anchor="middle">-10<tspan font-size="2.64" dy="-2.42">3</tspan></text>
<text transform="translate(266.11 145.80)" font-size="4.4" fill="#1a1a1a" stroke="#1a1a1a" stroke-width="0.120" text-anchor="middle">0</text>
<text transform="translate(273.31 145.80)" font-size="4.4" fill="#1a1a1a" stroke="#1a1a1a" stroke-width="0.120" text-anchor="middle">10<tspan font-size="2.64" dy="-2.42">3</tspan></text>
<text transform="translate(286.99 145.80)" font-size="4.4" fill="#1a1a1a" stroke="#1a1a1a" stroke-width="0.120" text-anchor="middle">10<tspan font-size="2.64" dy="-2.42">4</tspan></text>
<text transform="translate(298.41 145.80)" font-size="4.4" fill="#1a1a1a" stroke="#1a1a1a" stroke-width="0.120" text-anchor="middle">10<tspan font-size="2.64" dy="-2.42">5</tspan></text>
<rect x="273.88" y="113.36" width="0.75" height="0.75" fill="#959ce2" opacity="0.62"/>
<rect x="291.06" y="114.38" width="0.75" height="0.75" fill="#959ce2" opacity="0.62"/>
<rect x="270.59" y="125.09" width="0.75" height="0.75" fill="#959ce2" opacity="0.62"/>
<rect x="270.17" y="127.87" width="0.75" height="0.75" fill="#959ce2" opacity="0.62"/>
<rect x="287.55" y="115.70" width="0.75" height="0.75" fill="#959ce2" opacity="0.62"/>
<rect x="278.72" y="116.44" width="0.75" height="0.75" fill="#959ce2" opacity="0.62"/>
<rect x="291.97" y="100.44" width="0.75" height="0.75" fill="#959ce2" opacity="0.62"/>
<rect x="293.07" y="102.26" width="0.75" height="0.75" fill="#959ce2" opacity="0.62"/>
<rect x="283.25" y="110.68" width="0.75" height="0.75" fill="#959ce2" opacity="0.62"/>
<rect x="279.89" y="119.05" width="0.75" height="0.75" fill="#959ce2" opacity="0.62"/>
<rect x="279.45" y="122.46" width="0.75" height="0.75" fill="#959ce2" opacity="0.62"/>
<rect x="280.00" y="109.43" width="0.75" height="0.75" fill="#959ce2" opacity="0.62"/>
<rect x="271.49" y="119.15" width="0.75" height="0.75" fill="#959ce2" opacity="0.62"/>
<rect x="275.81" y="133.13" width="0.75" height="0.75" fill="#959ce2" opacity="0.62"/>
<rect x="270.87" y="125.66" width="0.75" height="0.75" fill="#959ce2" opacity="0.62"/>
<rect x="282.61" y="125.97" width="0.75" height="0.75" fill="#959ce2" opacity="0.62"/>
<rect x="275.98" y="128.24" width="0.75" height="0.75" fill="#959ce2" opacity="0.62"/>
<rect x="283.97" y="125.20" width="0.75" height="0.75" fill="#959ce2" opacity="0.62"/>
<rect x="287.43" y="114.48" width="0.75" height="0.75" fill="#959ce2" opacity="0.62"/>
<rect x="293.98" y="108.86" width="0.75" height="0.75" fill="#959ce2" opacity="0.62"/>
<rect x="291.92" y="102.20" width="0.75" height="0.75" fill="#959ce2" opacity="0.62"/>
<rect x="291.65" y="104.43" width="0.75" height="0.75" fill="#959ce2" opacity="0.62"/>
<rect x="285.54" y="117.49" width="0.75" height="0.75" fill="#959ce2" opacity="0.62"/>
<rect x="278.82" y="124.18" width="0.75" height="0.75" fill="#959ce2" opacity="0.62"/>
<rect x="288.32" y="122.02" width="0.75" height="0.75" fill="#959ce2" opacity="0.62"/>
<rect x="280.55" y="112.23" width="0.75" height="0.75" fill="#959ce2" opacity="0.62"/>
<rect x="285.29" y="117.40" width="0.75" height="0.75" fill="#959ce2" opacity="0.62"/>
<rect x="273.31" y="122.14" width="0.75" height="0.75" fill="#959ce2" opacity="0.62"/>
<rect x="280.72" y="128.11" width="0.75" height="0.75" fill="#959ce2" opacity="0.62"/>
<rect x="282.06" y="115.85" width="0.75" height="0.75" fill="#959ce2" opacity="0.62"/>
<rect x="279.48" y="121.60" width="0.75" height="0.75" fill="#959ce2" opacity="0.62"/>
<rect x="272.40" y="128.89" width="0.75" height="0.75" fill="#959ce2" opacity="0.62"/>
<rect x="276.62" y="131.53" width="0.75" height="0.75" fill="#959ce2" opacity="0.62"/>
<rect x="293.19" y="110.28" width="0.75" height="0.75" fill="#959ce2" opacity="0.62"/>
<rect x="286.51" y="116.14" width="0.75" height="0.75" fill="#959ce2" opacity="0.62"/>
<rect x="279.63" y="113.10" width="0.75" height="0.75" fill="#959ce2" opacity="0.62"/>
<rect x="287.04" y="122.85" width="0.75" height="0.75" fill="#959ce2" opacity="0.62"/>
<rect x="289.63" y="119.03" width="0.75" height="0.75" fill="#959ce2" opacity="0.62"/>
<rect x="278.63" y="126.69" width="0.75" height="0.75" fill="#959ce2" opacity="0.62"/>
<rect x="274.35" y="125.95" width="0.75" height="0.75" fill="#959ce2" opacity="0.62"/>
<rect x="285.25" y="126.09" width="0.75" height="0.75" fill="#959ce2" opacity="0.62"/>
<rect x="291.05" y="115.69" width="0.75" height="0.75" fill="#959ce2" opacity="0.62"/>
<rect x="276.94" y="128.70" width="0.75" height="0.75" fill="#959ce2" opacity="0.62"/>
<rect x="274.74" y="123.31" width="0.75" height="0.75" fill="#959ce2" opacity="0.62"/>
<rect x="290.00" y="116.14" width="0.75" height="0.75" fill="#959ce2" opacity="0.62"/>
<rect x="281.32" y="120.95" width="0.75" height="0.75" fill="#959ce2" opacity="0.62"/>
<rect x="271.00" y="125.92" width="0.75" height="0.75" fill="#959ce2" opacity="0.62"/>
<rect x="297.93" y="108.87" width="0.75" height="0.75" fill="#959ce2" opacity="0.62"/>
<rect x="274.46" y="120.23" width="0.75" height="0.75" fill="#959ce2" opacity="0.62"/>
<rect x="288.94" y="107.71" width="0.75" height="0.75" fill="#959ce2" opacity="0.62"/>
<rect x="269.94" y="126.49" width="0.75" height="0.75" fill="#959ce2" opacity="0.62"/>
<rect x="279.16" y="116.57" width="0.75" height="0.75" fill="#959ce2" opacity="0.62"/>
<rect x="282.21" y="98.51" width="0.75" height="0.75" fill="#959ce2" opacity="0.62"/>
<rect x="286.09" y="113.58" width="0.75" height="0.75" fill="#959ce2" opacity="0.62"/>
<rect x="277.98" y="106.78" width="0.75" height="0.75" fill="#959ce2" opacity="0.62"/>
<rect x="292.66" y="111.15" width="0.75" height="0.75" fill="#959ce2" opacity="0.62"/>
<rect x="284.52" y="108.89" width="0.75" height="0.75" fill="#959ce2" opacity="0.62"/>
<rect x="280.49" y="120.80" width="0.75" height="0.75" fill="#959ce2" opacity="0.62"/>
<rect x="273.25" y="127.59" width="0.75" height="0.75" fill="#959ce2" opacity="0.62"/>
<rect x="292.05" y="119.43" width="0.75" height="0.75" fill="#959ce2" opacity="0.62"/>
<rect x="297.59" y="109.30" width="0.75" height="0.75" fill="#959ce2" opacity="0.62"/>
<rect x="274.65" y="110.17" width="0.75" height="0.75" fill="#959ce2" opacity="0.62"/>
<rect x="285.14" y="124.23" width="0.75" height="0.75" fill="#959ce2" opacity="0.62"/>
<rect x="280.40" y="130.50" width="0.75" height="0.75" fill="#959ce2" opacity="0.62"/>
<rect x="281.67" y="118.82" width="0.75" height="0.75" fill="#959ce2" opacity="0.62"/>
<rect x="280.62" y="112.29" width="0.75" height="0.75" fill="#959ce2" opacity="0.62"/>
<rect x="286.68" y="119.05" width="0.75" height="0.75" fill="#959ce2" opacity="0.62"/>
<rect x="281.16" y="125.78" width="0.75" height="0.75" fill="#959ce2" opacity="0.62"/>
<rect x="288.58" y="107.47" width="0.75" height="0.75" fill="#959ce2" opacity="0.62"/>
<rect x="276.40" y="121.16" width="0.75" height="0.75" fill="#959ce2" opacity="0.62"/>
<rect x="290.79" y="118.76" width="0.75" height="0.75" fill="#959ce2" opacity="0.62"/>
<rect x="278.69" y="130.56" width="0.75" height="0.75" fill="#959ce2" opacity="0.62"/>
<rect x="280.92" y="116.61" width="0.75" height="0.75" fill="#959ce2" opacity="0.62"/>
<rect x="283.75" y="112.97" width="0.75" height="0.75" fill="#959ce2" opacity="0.62"/>
<rect x="285.01" y="106.12" width="0.75" height="0.75" fill="#959ce2" opacity="0.62"/>
<rect x="274.85" y="122.33" width="0.75" height="0.75" fill="#959ce2" opacity="0.62"/>
<rect x="270.79" y="123.97" width="0.75" height="0.75" fill="#959ce2" opacity="0.62"/>
<rect x="275.38" y="123.28" width="0.75" height="0.75" fill="#959ce2" opacity="0.62"/>
<rect x="280.90" y="112.43" width="0.75" height="0.75" fill="#959ce2" opacity="0.62"/>
<rect x="281.29" y="127.41" width="0.75" height="0.75" fill="#959ce2" opacity="0.62"/>
<rect x="285.80" y="113.39" width="0.75" height="0.75" fill="#959ce2" opacity="0.62"/>
<rect x="280.57" y="118.39" width="0.75" height="0.75" fill="#959ce2" opacity="0.62"/>
<rect x="292.13" y="101.22" width="0.75" height="0.75" fill="#959ce2" opacity="0.62"/>
<rect x="284.29" y="104.52" width="0.75" height="0.75" fill="#959ce2" opacity="0.62"/>
<rect x="280.54" y="131.54" width="0.75" height="0.75" fill="#959ce2" opacity="0.62"/>
<rect x="289.45" y="118.94" width="0.75" height="0.75" fill="#959ce2" opacity="0.62"/>
<rect x="277.50" y="114.27" width="0.75" height="0.75" fill="#959ce2" opacity="0.62"/>
<rect x="285.15" y="117.84" width="0.75" height="0.75" fill="#959ce2" opacity="0.62"/>
<rect x="278.11" y="114.51" width="0.75" height="0.75" fill="#959ce2" opacity="0.62"/>
<rect x="282.58" y="113.73" width="0.75" height="0.75" fill="#959ce2" opacity="0.62"/>
<rect x="273.97" y="107.67" width="0.75" height="0.75" fill="#959ce2" opacity="0.62"/>
<rect x="284.95" y="115.47" width="0.75" height="0.75" fill="#959ce2" opacity="0.62"/>
<rect x="275.05" y="124.73" width="0.75" height="0.75" fill="#959ce2" opacity="0.62"/>
<rect x="292.76" y="110.53" width="0.75" height="0.75" fill="#959ce2" opacity="0.62"/>
<rect x="273.66" y="115.11" width="0.75" height="0.75" fill="#959ce2" opacity="0.62"/>
<rect x="272.63" y="131.02" width="0.75" height="0.75" fill="#959ce2" opacity="0.62"/>
<rect x="278.15" y="121.91" width="0.75" height="0.75" fill="#959ce2" opacity="0.62"/>
<rect x="276.71" y="123.89" width="0.75" height="0.75" fill="#959ce2" opacity="0.62"/>
<rect x="267.87" y="101.88" width="0.8" height="0.8" fill="#8094e0" opacity="0.7"/>
<rect x="267.42" y="102.66" width="0.8" height="0.8" fill="#8094e0" opacity="0.7"/>
<rect x="266.68" y="116.40" width="0.8" height="0.8" fill="#8094e0" opacity="0.7"/>
<rect x="266.40" y="124.98" width="0.8" height="0.8" fill="#8094e0" opacity="0.7"/>
<rect x="265.44" y="120.18" width="0.8" height="0.8" fill="#8094e0" opacity="0.7"/>
<rect x="266.22" y="117.30" width="0.8" height="0.8" fill="#8094e0" opacity="0.7"/>
<rect x="264.57" y="125.20" width="0.8" height="0.8" fill="#8094e0" opacity="0.7"/>
<rect x="266.20" y="123.53" width="0.8" height="0.8" fill="#8094e0" opacity="0.7"/>
<rect x="267.73" y="109.35" width="0.8" height="0.8" fill="#8094e0" opacity="0.7"/>
<rect x="266.00" y="105.78" width="0.8" height="0.8" fill="#8094e0" opacity="0.7"/>
<rect x="265.53" y="121.68" width="0.8" height="0.8" fill="#8094e0" opacity="0.7"/>
<rect x="267.45" y="115.23" width="0.8" height="0.8" fill="#8094e0" opacity="0.7"/>
<rect x="266.44" y="120.47" width="0.8" height="0.8" fill="#8094e0" opacity="0.7"/>
<rect x="265.77" y="123.44" width="0.8" height="0.8" fill="#8094e0" opacity="0.7"/>
<rect x="267.26" y="109.86" width="0.8" height="0.8" fill="#8094e0" opacity="0.7"/>
<rect x="265.40" y="116.56" width="0.8" height="0.8" fill="#8094e0" opacity="0.7"/>
<rect x="265.81" y="122.19" width="0.8" height="0.8" fill="#8094e0" opacity="0.7"/>
<rect x="268.08" y="98.65" width="0.8" height="0.8" fill="#8094e0" opacity="0.7"/>
<rect x="265.68" y="125.67" width="0.8" height="0.8" fill="#8094e0" opacity="0.7"/>
<rect x="264.69" y="125.92" width="0.8" height="0.8" fill="#8094e0" opacity="0.7"/>
<rect x="268.09" y="102.15" width="0.8" height="0.8" fill="#8094e0" opacity="0.7"/>
<rect x="267.12" y="102.45" width="0.8" height="0.8" fill="#8094e0" opacity="0.7"/>
<rect x="265.43" y="127.87" width="0.8" height="0.8" fill="#8094e0" opacity="0.7"/>
<rect x="265.23" y="124.06" width="0.8" height="0.8" fill="#8094e0" opacity="0.7"/>
<rect x="265.53" y="118.90" width="0.8" height="0.8" fill="#8094e0" opacity="0.7"/>
<rect x="264.47" y="125.73" width="0.8" height="0.8" fill="#8094e0" opacity="0.7"/>
<rect x="266.01" y="119.04" width="0.8" height="0.8" fill="#8094e0" opacity="0.7"/>
<rect x="265.28" y="121.26" width="0.8" height="0.8" fill="#8094e0" opacity="0.7"/>
<rect x="265.53" y="118.74" width="0.8" height="0.8" fill="#8094e0" opacity="0.7"/>
<rect x="267.10" y="112.76" width="0.8" height="0.8" fill="#8094e0" opacity="0.7"/>
<rect x="265.06" y="119.87" width="0.8" height="0.8" fill="#8094e0" opacity="0.7"/>
<rect x="264.89" y="121.25" width="0.8" height="0.8" fill="#8094e0" opacity="0.7"/>
<rect x="265.25" y="125.91" width="0.8" height="0.8" fill="#8094e0" opacity="0.7"/>
<rect x="265.12" y="117.60" width="0.8" height="0.8" fill="#8094e0" opacity="0.7"/>
<rect x="266.60" y="104.75" width="0.8" height="0.8" fill="#8094e0" opacity="0.7"/>
<rect x="266.68" y="111.32" width="0.8" height="0.8" fill="#8094e0" opacity="0.7"/>
<rect x="265.93" y="117.47" width="0.8" height="0.8" fill="#8094e0" opacity="0.7"/>
<rect x="265.13" y="125.47" width="0.8" height="0.8" fill="#8094e0" opacity="0.7"/>
<rect x="266.36" y="119.40" width="0.8" height="0.8" fill="#8094e0" opacity="0.7"/>
<rect x="267.08" y="108.87" width="0.8" height="0.8" fill="#8094e0" opacity="0.7"/>
<rect x="265.83" y="117.94" width="0.8" height="0.8" fill="#8094e0" opacity="0.7"/>
<rect x="264.37" y="124.63" width="0.8" height="0.8" fill="#8094e0" opacity="0.7"/>
<rect x="264.14" y="126.22" width="0.8" height="0.8" fill="#8094e0" opacity="0.7"/>
<rect x="266.60" y="123.06" width="0.8" height="0.8" fill="#8094e0" opacity="0.7"/>
<rect x="264.92" y="123.31" width="0.8" height="0.8" fill="#8094e0" opacity="0.7"/>
<rect x="264.82" y="121.84" width="0.8" height="0.8" fill="#8094e0" opacity="0.7"/>
<rect x="265.89" y="118.94" width="0.8" height="0.8" fill="#8094e0" opacity="0.7"/>
<rect x="265.98" y="124.23" width="0.8" height="0.8" fill="#8094e0" opacity="0.7"/>
<rect x="266.32" y="122.45" width="0.8" height="0.8" fill="#8094e0" opacity="0.7"/>
<rect x="265.26" y="119.74" width="0.8" height="0.8" fill="#8094e0" opacity="0.7"/>
<rect x="264.05" y="117.24" width="0.8" height="0.8" fill="#8094e0" opacity="0.7"/>
<rect x="265.98" y="118.84" width="0.8" height="0.8" fill="#8094e0" opacity="0.7"/>
<rect x="265.35" y="129.23" width="0.8" height="0.8" fill="#8094e0" opacity="0.7"/>
<rect x="267.28" y="116.33" width="0.8" height="0.8" fill="#8094e0" opacity="0.7"/>
<rect x="265.23" y="122.68" width="0.8" height="0.8" fill="#8094e0" opacity="0.7"/>
<rect x="266.66" y="122.27" width="0.8" height="0.8" fill="#8094e0" opacity="0.7"/>
<rect x="267.28" y="112.04" width="0.8" height="0.8" fill="#8094e0" opacity="0.7"/>
<rect x="266.55" y="112.96" width="0.8" height="0.8" fill="#8094e0" opacity="0.7"/>
<rect x="265.26" y="124.43" width="0.8" height="0.8" fill="#8094e0" opacity="0.7"/>
<rect x="266.61" y="115.88" width="0.8" height="0.8" fill="#8094e0" opacity="0.7"/>
<rect x="265.28" y="124.04" width="0.8" height="0.8" fill="#8094e0" opacity="0.7"/>
<rect x="266.59" y="104.73" width="0.8" height="0.8" fill="#8094e0" opacity="0.7"/>
<rect x="264.29" y="125.56" width="0.8" height="0.8" fill="#8094e0" opacity="0.7"/>
<rect x="265.79" y="129.76" width="0.8" height="0.8" fill="#8094e0" opacity="0.7"/>
<rect x="266.37" y="126.79" width="0.8" height="0.8" fill="#8094e0" opacity="0.7"/>
<rect x="265.58" y="106.47" width="0.8" height="0.8" fill="#8094e0" opacity="0.7"/>
<rect x="266.99" y="109.88" width="0.8" height="0.8" fill="#8094e0" opacity="0.7"/>
<rect x="266.44" y="115.71" width="0.8" height="0.8" fill="#8094e0" opacity="0.7"/>
<rect x="265.26" y="121.23" width="0.8" height="0.8" fill="#8094e0" opacity="0.7"/>
<rect x="266.55" y="112.32" width="0.8" height="0.8" fill="#8094e0" opacity="0.7"/>
<rect x="265.59" y="124.00" width="0.8" height="0.8" fill="#8094e0" opacity="0.7"/>
<rect x="265.46" y="120.43" width="0.8" height="0.8" fill="#8094e0" opacity="0.7"/>
<rect x="266.38" y="109.84" width="0.8" height="0.8" fill="#8094e0" opacity="0.7"/>
<rect x="265.23" y="121.01" width="0.8" height="0.8" fill="#8094e0" opacity="0.7"/>
<rect x="267.55" y="100.40" width="0.8" height="0.8" fill="#8094e0" opacity="0.7"/>
<rect x="266.04" y="114.39" width="0.8" height="0.8" fill="#8094e0" opacity="0.7"/>
<rect x="265.17" y="126.10" width="0.8" height="0.8" fill="#8094e0" opacity="0.7"/>
<rect x="264.76" y="127.36" width="0.8" height="0.8" fill="#8094e0" opacity="0.7"/>
<rect x="266.30" y="117.89" width="0.8" height="0.8" fill="#8094e0" opacity="0.7"/>
<rect x="266.93" y="120.60" width="0.8" height="0.8" fill="#8094e0" opacity="0.7"/>
<rect x="265.94" y="121.23" width="0.8" height="0.8" fill="#8094e0" opacity="0.7"/>
<rect x="264.56" y="116.23" width="0.8" height="0.8" fill="#8094e0" opacity="0.7"/>
<rect x="265.27" y="113.23" width="0.8" height="0.8" fill="#8094e0" opacity="0.7"/>
<rect x="266.10" y="113.47" width="0.8" height="0.8" fill="#8094e0" opacity="0.7"/>
<rect x="265.36" y="121.08" width="0.8" height="0.8" fill="#8094e0" opacity="0.7"/>
<rect x="266.61" y="113.34" width="0.8" height="0.8" fill="#8094e0" opacity="0.7"/>
<rect x="266.57" y="99.79" width="0.8" height="0.8" fill="#8094e0" opacity="0.7"/>
<rect x="264.55" y="134.28" width="0.8" height="0.8" fill="#8094e0" opacity="0.7"/>
<rect x="265.53" y="114.21" width="0.8" height="0.8" fill="#8094e0" opacity="0.7"/>
<rect x="266.29" y="101.71" width="0.8" height="0.8" fill="#8094e0" opacity="0.7"/>
<rect x="264.90" y="122.73" width="0.8" height="0.8" fill="#8094e0" opacity="0.7"/>
<rect x="266.42" y="102.83" width="0.8" height="0.8" fill="#8094e0" opacity="0.7"/>
<rect x="265.12" y="130.39" width="0.8" height="0.8" fill="#8094e0" opacity="0.7"/>
<rect x="267.24" y="119.86" width="0.8" height="0.8" fill="#8094e0" opacity="0.7"/>
<rect x="268.60" y="102.52" width="0.8" height="0.8" fill="#8094e0" opacity="0.7"/>
<rect x="264.38" y="124.84" width="0.8" height="0.8" fill="#8094e0" opacity="0.7"/>
<rect x="265.30" y="120.70" width="0.8" height="0.8" fill="#8094e0" opacity="0.7"/>
<rect x="265.57" y="123.82" width="0.8" height="0.8" fill="#8094e0" opacity="0.7"/>
<rect x="265.96" y="104.20" width="0.8" height="0.8" fill="#8094e0" opacity="0.7"/>
<rect x="265.74" y="130.74" width="0.8" height="0.8" fill="#8094e0" opacity="0.7"/>
<rect x="265.14" y="117.42" width="0.8" height="0.8" fill="#8094e0" opacity="0.7"/>
<rect x="265.98" y="122.76" width="0.8" height="0.8" fill="#8094e0" opacity="0.7"/>
<rect x="265.64" y="123.83" width="0.8" height="0.8" fill="#8094e0" opacity="0.7"/>
<rect x="264.85" y="125.98" width="0.8" height="0.8" fill="#8094e0" opacity="0.7"/>
<rect x="266.28" y="125.28" width="0.8" height="0.8" fill="#8094e0" opacity="0.7"/>
<rect x="265.75" y="125.76" width="0.8" height="0.8" fill="#8094e0" opacity="0.7"/>
<rect x="266.13" y="122.56" width="0.8" height="0.8" fill="#8094e0" opacity="0.7"/>
<rect x="267.41" y="102.91" width="0.8" height="0.8" fill="#8094e0" opacity="0.7"/>
<rect x="265.80" y="115.31" width="0.8" height="0.8" fill="#8094e0" opacity="0.7"/>
<rect x="266.34" y="125.64" width="0.8" height="0.8" fill="#8094e0" opacity="0.7"/>
<g filter="url(#bl)" transform="translate(266.00 124.50) scale(1.05 1) rotate(4) translate(-266.00 -124.50)"><ellipse cx="266.00" cy="121.50" rx="1.7" ry="8.5" fill="#7088dc" opacity="0.85"/><ellipse cx="266.00" cy="123.50" rx="1.5" ry="6.0" fill="#3a80c8"/><ellipse cx="266.00" cy="124.50" rx="1.45" ry="5.6" fill="#2fa58a"/><ellipse cx="266.00" cy="124.50" rx="1.25" ry="4.6" fill="#5db84a"/><ellipse cx="266.00" cy="124.50" rx="0.85" ry="3.0" fill="#d7cd34"/><ellipse cx="266.00" cy="124.50" rx="0.45" ry="1.3" fill="#e58a2c"/></g>
<line x1="264.80" y1="138.00" x2="267.00" y2="138.00" stroke="#222" stroke-width="1.0"/>
<rect x="269.30" y="95.30" width="31.10" height="40.70" fill="none" stroke="#999" stroke-width="0.85"/>
<text transform="translate(297.40 101.60) scale(1.050 1)" font-size="6.4" fill="#111" stroke="#111" stroke-width="0.057" text-anchor="end">5.9</text>
<rect x="334.60" y="91.50" width="46.40" height="46.50" fill="none" stroke="#c4c4c4" stroke-width="0.9"/>
<line x1="333.30" y1="137.30" x2="334.60" y2="137.30" stroke="#444" stroke-width="0.7"/>
<line x1="333.90" y1="135.58" x2="334.60" y2="135.58" stroke="#888" stroke-width="0.4"/>
<line x1="333.90" y1="133.87" x2="334.60" y2="133.87" stroke="#888" stroke-width="0.4"/>
<line x1="333.90" y1="132.15" x2="334.60" y2="132.15" stroke="#888" stroke-width="0.4"/>
<line x1="333.90" y1="130.44" x2="334.60" y2="130.44" stroke="#888" stroke-width="0.4"/>
<text transform="translate(331.30 138.75) scale(1.050 1)" font-size="4.1" fill="#111" stroke="#111" stroke-width="0.143" text-anchor="end">0</text>
<line x1="333.30" y1="128.72" x2="334.60" y2="128.72" stroke="#444" stroke-width="0.7"/>
<line x1="333.90" y1="127.00" x2="334.60" y2="127.00" stroke="#888" stroke-width="0.4"/>
<line x1="333.90" y1="125.29" x2="334.60" y2="125.29" stroke="#888" stroke-width="0.4"/>
<line x1="333.90" y1="123.57" x2="334.60" y2="123.57" stroke="#888" stroke-width="0.4"/>
<line x1="333.90" y1="121.86" x2="334.60" y2="121.86" stroke="#888" stroke-width="0.4"/>
<text transform="translate(331.30 130.17) scale(1.050 1)" font-size="4.1" fill="#111" stroke="#111" stroke-width="0.143" text-anchor="end">50K</text>
<line x1="333.30" y1="120.14" x2="334.60" y2="120.14" stroke="#444" stroke-width="0.7"/>
<line x1="333.90" y1="118.42" x2="334.60" y2="118.42" stroke="#888" stroke-width="0.4"/>
<line x1="333.90" y1="116.71" x2="334.60" y2="116.71" stroke="#888" stroke-width="0.4"/>
<line x1="333.90" y1="114.99" x2="334.60" y2="114.99" stroke="#888" stroke-width="0.4"/>
<line x1="333.90" y1="113.28" x2="334.60" y2="113.28" stroke="#888" stroke-width="0.4"/>
<text transform="translate(331.30 121.59) scale(1.050 1)" font-size="4.1" fill="#111" stroke="#111" stroke-width="0.143" text-anchor="end">100K</text>
<line x1="333.30" y1="111.56" x2="334.60" y2="111.56" stroke="#444" stroke-width="0.7"/>
<line x1="333.90" y1="109.84" x2="334.60" y2="109.84" stroke="#888" stroke-width="0.4"/>
<line x1="333.90" y1="108.13" x2="334.60" y2="108.13" stroke="#888" stroke-width="0.4"/>
<line x1="333.90" y1="106.41" x2="334.60" y2="106.41" stroke="#888" stroke-width="0.4"/>
<line x1="333.90" y1="104.70" x2="334.60" y2="104.70" stroke="#888" stroke-width="0.4"/>
<text transform="translate(331.30 113.01) scale(1.050 1)" font-size="4.1" fill="#111" stroke="#111" stroke-width="0.143" text-anchor="end">150K</text>
<line x1="333.30" y1="102.98" x2="334.60" y2="102.98" stroke="#444" stroke-width="0.7"/>
<line x1="333.90" y1="101.26" x2="334.60" y2="101.26" stroke="#888" stroke-width="0.4"/>
<line x1="333.90" y1="99.55" x2="334.60" y2="99.55" stroke="#888" stroke-width="0.4"/>
<line x1="333.90" y1="97.83" x2="334.60" y2="97.83" stroke="#888" stroke-width="0.4"/>
<line x1="333.90" y1="96.12" x2="334.60" y2="96.12" stroke="#888" stroke-width="0.4"/>
<text transform="translate(331.30 104.43) scale(1.050 1)" font-size="4.1" fill="#111" stroke="#111" stroke-width="0.143" text-anchor="end">200K</text>
<line x1="333.30" y1="94.40" x2="334.60" y2="94.40" stroke="#444" stroke-width="0.7"/>
<text transform="translate(331.30 95.85) scale(1.050 1)" font-size="4.1" fill="#111" stroke="#111" stroke-width="0.143" text-anchor="end">250K</text>
<line x1="337.88" y1="138.00" x2="337.88" y2="139.20" stroke="#444" stroke-width="0.7"/>
<line x1="346.04" y1="138.00" x2="346.04" y2="139.20" stroke="#444" stroke-width="0.7"/>
<line x1="352.60" y1="138.00" x2="352.60" y2="139.20" stroke="#444" stroke-width="0.7"/>
<line x1="366.19" y1="138.00" x2="366.19" y2="139.20" stroke="#444" stroke-width="0.7"/>
<line x1="377.53" y1="138.00" x2="377.53" y2="139.20" stroke="#444" stroke-width="0.7"/>
<text transform="translate(337.88 145.80)" font-size="4.4" fill="#1a1a1a" stroke="#1a1a1a" stroke-width="0.120" text-anchor="middle">-10<tspan font-size="2.64" dy="-2.42">3</tspan></text>
<text transform="translate(346.04 145.80)" font-size="4.4" fill="#1a1a1a" stroke="#1a1a1a" stroke-width="0.120" text-anchor="middle">0</text>
<text transform="translate(353.20 145.80)" font-size="4.4" fill="#1a1a1a" stroke="#1a1a1a" stroke-width="0.120" text-anchor="middle">10<tspan font-size="2.64" dy="-2.42">3</tspan></text>
<text transform="translate(366.79 145.80)" font-size="4.4" fill="#1a1a1a" stroke="#1a1a1a" stroke-width="0.120" text-anchor="middle">10<tspan font-size="2.64" dy="-2.42">4</tspan></text>
<text transform="translate(378.13 145.80)" font-size="4.4" fill="#1a1a1a" stroke="#1a1a1a" stroke-width="0.120" text-anchor="middle">10<tspan font-size="2.64" dy="-2.42">5</tspan></text>
<rect x="353.80" y="118.60" width="0.75" height="0.75" fill="#959ce2" opacity="0.62"/>
<rect x="374.90" y="114.88" width="0.75" height="0.75" fill="#959ce2" opacity="0.62"/>
<rect x="369.65" y="118.99" width="0.75" height="0.75" fill="#959ce2" opacity="0.62"/>
<rect x="367.37" y="126.96" width="0.75" height="0.75" fill="#959ce2" opacity="0.62"/>
<rect x="355.07" y="131.54" width="0.75" height="0.75" fill="#959ce2" opacity="0.62"/>
<rect x="360.88" y="133.78" width="0.75" height="0.75" fill="#959ce2" opacity="0.62"/>
<rect x="368.66" y="128.31" width="0.75" height="0.75" fill="#959ce2" opacity="0.62"/>
<rect x="369.43" y="128.28" width="0.75" height="0.75" fill="#959ce2" opacity="0.62"/>
<rect x="354.51" y="125.30" width="0.75" height="0.75" fill="#959ce2" opacity="0.62"/>
<rect x="358.22" y="125.21" width="0.75" height="0.75" fill="#959ce2" opacity="0.62"/>
<rect x="374.66" y="111.08" width="0.75" height="0.75" fill="#959ce2" opacity="0.62"/>
<rect x="373.23" y="114.08" width="0.75" height="0.75" fill="#959ce2" opacity="0.62"/>
<rect x="366.23" y="123.89" width="0.75" height="0.75" fill="#959ce2" opacity="0.62"/>
<rect x="354.97" y="120.20" width="0.75" height="0.75" fill="#959ce2" opacity="0.62"/>
<rect x="355.92" y="126.28" width="0.75" height="0.75" fill="#959ce2" opacity="0.62"/>
<rect x="371.16" y="119.07" width="0.75" height="0.75" fill="#959ce2" opacity="0.62"/>
<rect x="373.01" y="119.78" width="0.75" height="0.75" fill="#959ce2" opacity="0.62"/>
<rect x="351.89" y="119.25" width="0.75" height="0.75" fill="#959ce2" opacity="0.62"/>
<rect x="366.34" y="128.91" width="0.75" height="0.75" fill="#959ce2" opacity="0.62"/>
<rect x="367.76" y="122.29" width="0.75" height="0.75" fill="#959ce2" opacity="0.62"/>
<rect x="362.70" y="128.95" width="0.75" height="0.75" fill="#959ce2" opacity="0.62"/>
<rect x="353.09" y="123.68" width="0.75" height="0.75" fill="#959ce2" opacity="0.62"/>
<rect x="373.70" y="115.54" width="0.75" height="0.75" fill="#959ce2" opacity="0.62"/>
<rect x="354.89" y="120.02" width="0.75" height="0.75" fill="#959ce2" opacity="0.62"/>
<rect x="350.82" y="112.35" width="0.75" height="0.75" fill="#959ce2" opacity="0.62"/>
<rect x="361.76" y="131.22" width="0.75" height="0.75" fill="#959ce2" opacity="0.62"/>
<rect x="374.91" y="115.25" width="0.75" height="0.75" fill="#959ce2" opacity="0.62"/>
<rect x="355.65" y="122.51" width="0.75" height="0.75" fill="#959ce2" opacity="0.62"/>
<rect x="358.14" y="127.09" width="0.75" height="0.75" fill="#959ce2" opacity="0.62"/>
<rect x="361.43" y="126.51" width="0.75" height="0.75" fill="#959ce2" opacity="0.62"/>
<rect x="360.12" y="125.44" width="0.75" height="0.75" fill="#959ce2" opacity="0.62"/>
<rect x="358.92" y="126.86" width="0.75" height="0.75" fill="#959ce2" opacity="0.62"/>
<rect x="357.17" y="132.88" width="0.75" height="0.75" fill="#959ce2" opacity="0.62"/>
<rect x="358.62" y="131.47" width="0.75" height="0.75" fill="#959ce2" opacity="0.62"/>
<rect x="373.97" y="119.30" width="0.75" height="0.75" fill="#959ce2" opacity="0.62"/>
<rect x="359.79" y="125.52" width="0.75" height="0.75" fill="#959ce2" opacity="0.62"/>
<rect x="375.14" y="107.74" width="0.75" height="0.75" fill="#959ce2" opacity="0.62"/>
<rect x="371.94" y="119.81" width="0.75" height="0.75" fill="#959ce2" opacity="0.62"/>
<rect x="373.50" y="109.26" width="0.75" height="0.75" fill="#959ce2" opacity="0.62"/>
<rect x="361.33" y="124.53" width="0.75" height="0.75" fill="#959ce2" opacity="0.62"/>
<rect x="359.39" y="124.72" width="0.75" height="0.75" fill="#959ce2" opacity="0.62"/>
<rect x="360.50" y="128.88" width="0.75" height="0.75" fill="#959ce2" opacity="0.62"/>
<rect x="356.67" y="123.80" width="0.75" height="0.75" fill="#959ce2" opacity="0.62"/>
<rect x="357.03" y="127.97" width="0.75" height="0.75" fill="#959ce2" opacity="0.62"/>
<rect x="361.79" y="124.66" width="0.75" height="0.75" fill="#959ce2" opacity="0.62"/>
<rect x="360.72" y="128.19" width="0.75" height="0.75" fill="#959ce2" opacity="0.62"/>
<rect x="358.66" y="130.61" width="0.75" height="0.75" fill="#959ce2" opacity="0.62"/>
<rect x="355.01" y="122.36" width="0.75" height="0.75" fill="#959ce2" opacity="0.62"/>
<rect x="367.51" y="121.44" width="0.75" height="0.75" fill="#959ce2" opacity="0.62"/>
<rect x="374.01" y="108.71" width="0.75" height="0.75" fill="#959ce2" opacity="0.62"/>
<rect x="351.72" y="123.28" width="0.75" height="0.75" fill="#959ce2" opacity="0.62"/>
<rect x="366.01" y="124.28" width="0.75" height="0.75" fill="#959ce2" opacity="0.62"/>
<rect x="351.79" y="114.65" width="0.75" height="0.75" fill="#959ce2" opacity="0.62"/>
<rect x="367.58" y="130.53" width="0.75" height="0.75" fill="#959ce2" opacity="0.62"/>
<rect x="365.17" y="126.49" width="0.75" height="0.75" fill="#959ce2" opacity="0.62"/>
<rect x="372.85" y="117.18" width="0.75" height="0.75" fill="#959ce2" opacity="0.62"/>
<rect x="371.39" y="121.09" width="0.75" height="0.75" fill="#959ce2" opacity="0.62"/>
<rect x="361.45" y="127.17" width="0.75" height="0.75" fill="#959ce2" opacity="0.62"/>
<rect x="363.62" y="123.20" width="0.75" height="0.75" fill="#959ce2" opacity="0.62"/>
<rect x="357.45" y="121.66" width="0.75" height="0.75" fill="#959ce2" opacity="0.62"/>
<rect x="351.81" y="119.69" width="0.75" height="0.75" fill="#959ce2" opacity="0.62"/>
<rect x="378.47" y="105.95" width="0.75" height="0.75" fill="#959ce2" opacity="0.62"/>
<rect x="372.01" y="118.87" width="0.75" height="0.75" fill="#959ce2" opacity="0.62"/>
<rect x="360.97" y="126.89" width="0.75" height="0.75" fill="#959ce2" opacity="0.62"/>
<rect x="357.25" y="122.59" width="0.75" height="0.75" fill="#959ce2" opacity="0.62"/>
<rect x="370.97" y="121.62" width="0.75" height="0.75" fill="#959ce2" opacity="0.62"/>
<rect x="370.17" y="120.18" width="0.75" height="0.75" fill="#959ce2" opacity="0.62"/>
<rect x="351.76" y="124.28" width="0.75" height="0.75" fill="#959ce2" opacity="0.62"/>
<rect x="370.03" y="121.78" width="0.75" height="0.75" fill="#959ce2" opacity="0.62"/>
<rect x="374.96" y="111.74" width="0.75" height="0.75" fill="#959ce2" opacity="0.62"/>
<rect x="352.88" y="117.98" width="0.75" height="0.75" fill="#959ce2" opacity="0.62"/>
<rect x="361.17" y="127.15" width="0.75" height="0.75" fill="#959ce2" opacity="0.62"/>
<rect x="357.56" y="128.75" width="0.75" height="0.75" fill="#959ce2" opacity="0.62"/>
<rect x="373.16" y="117.89" width="0.75" height="0.75" fill="#959ce2" opacity="0.62"/>
<rect x="373.05" y="115.67" width="0.75" height="0.75" fill="#959ce2" opacity="0.62"/>
<rect x="368.13" y="118.65" width="0.75" height="0.75" fill="#959ce2" opacity="0.62"/>
<rect x="370.40" y="121.22" width="0.75" height="0.75" fill="#959ce2" opacity="0.62"/>
<rect x="369.12" y="117.21" width="0.75" height="0.75" fill="#959ce2" opacity="0.62"/>
<rect x="355.17" y="129.31" width="0.75" height="0.75" fill="#959ce2" opacity="0.62"/>
<rect x="360.60" y="124.93" width="0.75" height="0.75" fill="#959ce2" opacity="0.62"/>
<rect x="369.87" y="124.25" width="0.75" height="0.75" fill="#959ce2" opacity="0.62"/>
<rect x="372.15" y="119.84" width="0.75" height="0.75" fill="#959ce2" opacity="0.62"/>
<rect x="369.47" y="129.78" width="0.75" height="0.75" fill="#959ce2" opacity="0.62"/>
<rect x="360.10" y="124.17" width="0.75" height="0.75" fill="#959ce2" opacity="0.62"/>
<rect x="353.84" y="124.03" width="0.75" height="0.75" fill="#959ce2" opacity="0.62"/>
<rect x="363.46" y="124.48" width="0.75" height="0.75" fill="#959ce2" opacity="0.62"/>
<rect x="376.44" y="116.80" width="0.75" height="0.75" fill="#959ce2" opacity="0.62"/>
<rect x="351.34" y="120.78" width="0.75" height="0.75" fill="#959ce2" opacity="0.62"/>
<rect x="352.81" y="120.12" width="0.75" height="0.75" fill="#959ce2" opacity="0.62"/>
<rect x="358.65" y="129.35" width="0.75" height="0.75" fill="#959ce2" opacity="0.62"/>
<rect x="366.47" y="127.96" width="0.75" height="0.75" fill="#959ce2" opacity="0.62"/>
<rect x="371.96" y="115.46" width="0.75" height="0.75" fill="#959ce2" opacity="0.62"/>
<rect x="373.46" y="118.20" width="0.75" height="0.75" fill="#959ce2" opacity="0.62"/>
<rect x="350.62" y="127.71" width="0.75" height="0.75" fill="#959ce2" opacity="0.62"/>
<rect x="356.80" y="131.17" width="0.75" height="0.75" fill="#959ce2" opacity="0.62"/>
<rect x="355.02" y="121.70" width="0.75" height="0.75" fill="#959ce2" opacity="0.62"/>
<rect x="361.29" y="126.40" width="0.75" height="0.75" fill="#959ce2" opacity="0.62"/>
<rect x="369.27" y="122.35" width="0.75" height="0.75" fill="#959ce2" opacity="0.62"/>
<rect x="372.89" y="123.55" width="0.75" height="0.75" fill="#959ce2" opacity="0.62"/>
<rect x="372.33" y="122.91" width="0.75" height="0.75" fill="#959ce2" opacity="0.62"/>
<rect x="355.09" y="124.30" width="0.75" height="0.75" fill="#959ce2" opacity="0.62"/>
<rect x="360.87" y="126.96" width="0.75" height="0.75" fill="#959ce2" opacity="0.62"/>
<rect x="371.65" y="111.32" width="0.75" height="0.75" fill="#959ce2" opacity="0.62"/>
<rect x="353.53" y="121.28" width="0.75" height="0.75" fill="#959ce2" opacity="0.62"/>
<rect x="366.26" y="133.88" width="0.75" height="0.75" fill="#959ce2" opacity="0.62"/>
<rect x="352.96" y="124.27" width="0.75" height="0.75" fill="#959ce2" opacity="0.62"/>
<rect x="363.36" y="129.48" width="0.75" height="0.75" fill="#959ce2" opacity="0.62"/>
<rect x="374.11" y="116.23" width="0.75" height="0.75" fill="#959ce2" opacity="0.62"/>
<rect x="360.33" y="131.12" width="0.75" height="0.75" fill="#959ce2" opacity="0.62"/>
<rect x="376.09" y="105.27" width="0.75" height="0.75" fill="#959ce2" opacity="0.62"/>
<rect x="352.10" y="121.65" width="0.75" height="0.75" fill="#959ce2" opacity="0.62"/>
<rect x="352.35" y="124.14" width="0.75" height="0.75" fill="#959ce2" opacity="0.62"/>
<rect x="352.14" y="123.06" width="0.75" height="0.75" fill="#959ce2" opacity="0.62"/>
<rect x="375.78" y="111.03" width="0.75" height="0.75" fill="#959ce2" opacity="0.62"/>
<rect x="357.53" y="124.39" width="0.75" height="0.75" fill="#959ce2" opacity="0.62"/>
<rect x="361.32" y="123.11" width="0.75" height="0.75" fill="#959ce2" opacity="0.62"/>
<rect x="374.43" y="103.17" width="0.75" height="0.75" fill="#959ce2" opacity="0.62"/>
<rect x="357.02" y="123.16" width="0.75" height="0.75" fill="#959ce2" opacity="0.62"/>
<rect x="369.03" y="125.36" width="0.75" height="0.75" fill="#959ce2" opacity="0.62"/>
<rect x="360.91" y="134.92" width="0.75" height="0.75" fill="#959ce2" opacity="0.62"/>
<rect x="354.74" y="129.02" width="0.75" height="0.75" fill="#959ce2" opacity="0.62"/>
<rect x="357.22" y="128.40" width="0.75" height="0.75" fill="#959ce2" opacity="0.62"/>
<rect x="359.77" y="126.56" width="0.75" height="0.75" fill="#959ce2" opacity="0.62"/>
<rect x="367.48" y="131.08" width="0.75" height="0.75" fill="#959ce2" opacity="0.62"/>
<rect x="366.60" y="135.29" width="0.75" height="0.75" fill="#959ce2" opacity="0.62"/>
<rect x="358.49" y="119.94" width="0.75" height="0.75" fill="#959ce2" opacity="0.62"/>
<rect x="351.75" y="116.80" width="0.75" height="0.75" fill="#959ce2" opacity="0.62"/>
<rect x="365.86" y="125.60" width="0.75" height="0.75" fill="#959ce2" opacity="0.62"/>
<rect x="360.38" y="128.58" width="0.75" height="0.75" fill="#959ce2" opacity="0.62"/>
<rect x="363.04" y="122.29" width="0.75" height="0.75" fill="#959ce2" opacity="0.62"/>
<rect x="378.53" y="106.56" width="0.75" height="0.75" fill="#959ce2" opacity="0.62"/>
<rect x="365.54" y="125.25" width="0.75" height="0.75" fill="#959ce2" opacity="0.62"/>
<rect x="354.62" y="123.38" width="0.75" height="0.75" fill="#959ce2" opacity="0.62"/>
<rect x="375.19" y="113.68" width="0.75" height="0.75" fill="#959ce2" opacity="0.62"/>
<rect x="358.63" y="130.85" width="0.75" height="0.75" fill="#959ce2" opacity="0.62"/>
<rect x="372.88" y="119.25" width="0.75" height="0.75" fill="#959ce2" opacity="0.62"/>
<rect x="359.38" y="125.35" width="0.75" height="0.75" fill="#959ce2" opacity="0.62"/>
<rect x="364.28" y="125.97" width="0.75" height="0.75" fill="#959ce2" opacity="0.62"/>
<rect x="360.98" y="128.94" width="0.75" height="0.75" fill="#959ce2" opacity="0.62"/>
<rect x="369.16" y="126.75" width="0.75" height="0.75" fill="#959ce2" opacity="0.62"/>
<rect x="366.52" y="120.04" width="0.75" height="0.75" fill="#959ce2" opacity="0.62"/>
<rect x="366.86" y="124.42" width="0.75" height="0.75" fill="#959ce2" opacity="0.62"/>
<rect x="374.67" y="108.42" width="0.75" height="0.75" fill="#959ce2" opacity="0.62"/>
<rect x="361.93" y="124.16" width="0.75" height="0.75" fill="#959ce2" opacity="0.62"/>
<rect x="369.67" y="123.27" width="0.75" height="0.75" fill="#959ce2" opacity="0.62"/>
<rect x="351.46" y="117.64" width="0.75" height="0.75" fill="#959ce2" opacity="0.62"/>
<rect x="364.07" y="120.28" width="0.75" height="0.75" fill="#959ce2" opacity="0.62"/>
<rect x="374.68" y="109.65" width="0.75" height="0.75" fill="#959ce2" opacity="0.62"/>
<rect x="375.93" y="114.02" width="0.75" height="0.75" fill="#959ce2" opacity="0.62"/>
<rect x="375.58" y="108.99" width="0.75" height="0.75" fill="#959ce2" opacity="0.62"/>
<rect x="373.51" y="116.81" width="0.75" height="0.75" fill="#959ce2" opacity="0.62"/>
<rect x="359.75" y="126.46" width="0.75" height="0.75" fill="#959ce2" opacity="0.62"/>
<rect x="359.37" y="126.99" width="0.75" height="0.75" fill="#959ce2" opacity="0.62"/>
<rect x="373.82" y="116.70" width="0.75" height="0.75" fill="#959ce2" opacity="0.62"/>
<rect x="377.19" y="109.00" width="0.75" height="0.75" fill="#959ce2" opacity="0.62"/>
<rect x="363.08" y="125.18" width="0.75" height="0.75" fill="#959ce2" opacity="0.62"/>
<rect x="366.84" y="121.24" width="0.75" height="0.75" fill="#959ce2" opacity="0.62"/>
<rect x="373.98" y="118.11" width="0.75" height="0.75" fill="#959ce2" opacity="0.62"/>
<rect x="351.85" y="120.07" width="0.75" height="0.75" fill="#959ce2" opacity="0.62"/>
<rect x="352.45" y="125.42" width="0.75" height="0.75" fill="#959ce2" opacity="0.62"/>
<rect x="351.09" y="119.13" width="0.75" height="0.75" fill="#959ce2" opacity="0.62"/>
<rect x="362.00" y="128.62" width="0.75" height="0.75" fill="#959ce2" opacity="0.62"/>
<rect x="372.62" y="114.49" width="0.75" height="0.75" fill="#959ce2" opacity="0.62"/>
<rect x="360.37" y="124.84" width="0.75" height="0.75" fill="#959ce2" opacity="0.62"/>
<rect x="373.55" y="114.30" width="0.75" height="0.75" fill="#959ce2" opacity="0.62"/>
<rect x="369.18" y="119.18" width="0.75" height="0.75" fill="#959ce2" opacity="0.62"/>
<rect x="370.43" y="119.68" width="0.75" height="0.75" fill="#959ce2" opacity="0.62"/>
<rect x="365.75" y="128.52" width="0.75" height="0.75" fill="#959ce2" opacity="0.62"/>
<rect x="361.32" y="132.97" width="0.75" height="0.75" fill="#959ce2" opacity="0.62"/>
<rect x="348.45" y="118.94" width="0.8" height="0.8" fill="#8094e0" opacity="0.7"/>
<rect x="347.50" y="118.12" width="0.8" height="0.8" fill="#8094e0" opacity="0.7"/>
<rect x="348.68" y="107.16" width="0.8" height="0.8" fill="#8094e0" opacity="0.7"/>
<rect x="346.95" y="122.23" width="0.8" height="0.8" fill="#8094e0" opacity="0.7"/>
<rect x="348.38" y="100.41" width="0.8" height="0.8" fill="#8094e0" opacity="0.7"/>
<rect x="346.24" y="129.35" width="0.8" height="0.8" fill="#8094e0" opacity="0.7"/>
<rect x="347.45" y="119.72" width="0.8" height="0.8" fill="#8094e0" opacity="0.7"/>
<rect x="348.70" y="108.13" width="0.8" height="0.8" fill="#8094e0" opacity="0.7"/>
<rect x="345.50" y="127.64" width="0.8" height="0.8" fill="#8094e0" opacity="0.7"/>
<rect x="347.93" y="119.53" width="0.8" height="0.8" fill="#8094e0" opacity="0.7"/>
<rect x="346.41" y="118.87" width="0.8" height="0.8" fill="#8094e0" opacity="0.7"/>
<rect x="344.77" y="133.37" width="0.8" height="0.8" fill="#8094e0" opacity="0.7"/>
<rect x="346.47" y="125.51" width="0.8" height="0.8" fill="#8094e0" opacity="0.7"/>
<rect x="345.86" y="126.83" width="0.8" height="0.8" fill="#8094e0" opacity="0.7"/>
<rect x="346.55" y="119.91" width="0.8" height="0.8" fill="#8094e0" opacity="0.7"/>
<rect x="347.45" y="125.09" width="0.8" height="0.8" fill="#8094e0" opacity="0.7"/>
<rect x="347.53" y="119.47" width="0.8" height="0.8" fill="#8094e0" opacity="0.7"/>
<rect x="347.56" y="101.15" width="0.8" height="0.8" fill="#8094e0" opacity="0.7"/>
<rect x="346.67" y="122.96" width="0.8" height="0.8" fill="#8094e0" opacity="0.7"/>
<rect x="348.11" y="111.81" width="0.8" height="0.8" fill="#8094e0" opacity="0.7"/>
<rect x="347.98" y="112.07" width="0.8" height="0.8" fill="#8094e0" opacity="0.7"/>
<rect x="346.74" y="110.13" width="0.8" height="0.8" fill="#8094e0" opacity="0.7"/>
<rect x="347.69" y="109.92" width="0.8" height="0.8" fill="#8094e0" opacity="0.7"/>
<rect x="347.29" y="122.45" width="0.8" height="0.8" fill="#8094e0" opacity="0.7"/>
<rect x="347.08" y="114.95" width="0.8" height="0.8" fill="#8094e0" opacity="0.7"/>
<rect x="347.42" y="105.06" width="0.8" height="0.8" fill="#8094e0" opacity="0.7"/>
<rect x="347.60" y="103.36" width="0.8" height="0.8" fill="#8094e0" opacity="0.7"/>
<rect x="346.34" y="124.40" width="0.8" height="0.8" fill="#8094e0" opacity="0.7"/>
<rect x="346.91" y="119.43" width="0.8" height="0.8" fill="#8094e0" opacity="0.7"/>
<rect x="347.78" y="118.32" width="0.8" height="0.8" fill="#8094e0" opacity="0.7"/>
<rect x="347.13" y="125.62" width="0.8" height="0.8" fill="#8094e0" opacity="0.7"/>
<rect x="348.25" y="108.29" width="0.8" height="0.8" fill="#8094e0" opacity="0.7"/>
<rect x="347.99" y="112.21" width="0.8" height="0.8" fill="#8094e0" opacity="0.7"/>
<rect x="347.32" y="114.93" width="0.8" height="0.8" fill="#8094e0" opacity="0.7"/>
<rect x="348.49" y="115.76" width="0.8" height="0.8" fill="#8094e0" opacity="0.7"/>
<rect x="346.13" y="122.42" width="0.8" height="0.8" fill="#8094e0" opacity="0.7"/>
<rect x="347.55" y="115.60" width="0.8" height="0.8" fill="#8094e0" opacity="0.7"/>
<rect x="347.43" y="116.07" width="0.8" height="0.8" fill="#8094e0" opacity="0.7"/>
<rect x="348.03" y="114.57" width="0.8" height="0.8" fill="#8094e0" opacity="0.7"/>
<rect x="348.45" y="121.14" width="0.8" height="0.8" fill="#8094e0" opacity="0.7"/>
<rect x="347.90" y="110.05" width="0.8" height="0.8" fill="#8094e0" opacity="0.7"/>
<rect x="347.13" y="121.28" width="0.8" height="0.8" fill="#8094e0" opacity="0.7"/>
<rect x="346.14" y="115.87" width="0.8" height="0.8" fill="#8094e0" opacity="0.7"/>
<rect x="348.15" y="119.02" width="0.8" height="0.8" fill="#8094e0" opacity="0.7"/>
<rect x="349.34" y="101.48" width="0.8" height="0.8" fill="#8094e0" opacity="0.7"/>
<rect x="346.39" y="115.37" width="0.8" height="0.8" fill="#8094e0" opacity="0.7"/>
<rect x="347.21" y="110.00" width="0.8" height="0.8" fill="#8094e0" opacity="0.7"/>
<rect x="345.91" y="121.69" width="0.8" height="0.8" fill="#8094e0" opacity="0.7"/>
<rect x="347.85" y="101.38" width="0.8" height="0.8" fill="#8094e0" opacity="0.7"/>
<rect x="348.06" y="104.01" width="0.8" height="0.8" fill="#8094e0" opacity="0.7"/>
<rect x="346.79" y="119.92" width="0.8" height="0.8" fill="#8094e0" opacity="0.7"/>
<rect x="347.96" y="110.37" width="0.8" height="0.8" fill="#8094e0" opacity="0.7"/>
<rect x="346.04" y="123.39" width="0.8" height="0.8" fill="#8094e0" opacity="0.7"/>
<rect x="347.58" y="104.33" width="0.8" height="0.8" fill="#8094e0" opacity="0.7"/>
<rect x="346.92" y="126.54" width="0.8" height="0.8" fill="#8094e0" opacity="0.7"/>
<rect x="347.73" y="112.17" width="0.8" height="0.8" fill="#8094e0" opacity="0.7"/>
<rect x="348.33" y="99.11" width="0.8" height="0.8" fill="#8094e0" opacity="0.7"/>
<rect x="346.46" y="122.35" width="0.8" height="0.8" fill="#8094e0" opacity="0.7"/>
<rect x="345.46" y="118.65" width="0.8" height="0.8" fill="#8094e0" opacity="0.7"/>
<rect x="348.52" y="100.47" width="0.8" height="0.8" fill="#8094e0" opacity="0.7"/>
<rect x="347.41" y="111.34" width="0.8" height="0.8" fill="#8094e0" opacity="0.7"/>
<rect x="346.50" y="120.81" width="0.8" height="0.8" fill="#8094e0" opacity="0.7"/>
<rect x="346.18" y="131.91" width="0.8" height="0.8" fill="#8094e0" opacity="0.7"/>
<rect x="348.22" y="99.38" width="0.8" height="0.8" fill="#8094e0" opacity="0.7"/>
<rect x="348.57" y="99.43" width="0.8" height="0.8" fill="#8094e0" opacity="0.7"/>
<rect x="346.21" y="123.68" width="0.8" height="0.8" fill="#8094e0" opacity="0.7"/>
<rect x="348.12" y="105.31" width="0.8" height="0.8" fill="#8094e0" opacity="0.7"/>
<rect x="348.24" y="117.72" width="0.8" height="0.8" fill="#8094e0" opacity="0.7"/>
<rect x="346.89" y="113.16" width="0.8" height="0.8" fill="#8094e0" opacity="0.7"/>
<rect x="347.91" y="117.11" width="0.8" height="0.8" fill="#8094e0" opacity="0.7"/>
<rect x="347.58" y="111.04" width="0.8" height="0.8" fill="#8094e0" opacity="0.7"/>
<rect x="346.13" y="121.90" width="0.8" height="0.8" fill="#8094e0" opacity="0.7"/>
<rect x="347.96" y="121.22" width="0.8" height="0.8" fill="#8094e0" opacity="0.7"/>
<rect x="347.23" y="113.38" width="0.8" height="0.8" fill="#8094e0" opacity="0.7"/>
<rect x="346.21" y="118.40" width="0.8" height="0.8" fill="#8094e0" opacity="0.7"/>
<rect x="348.58" y="100.30" width="0.8" height="0.8" fill="#8094e0" opacity="0.7"/>
<rect x="348.28" y="124.47" width="0.8" height="0.8" fill="#8094e0" opacity="0.7"/>
<rect x="347.99" y="126.67" width="0.8" height="0.8" fill="#8094e0" opacity="0.7"/>
<rect x="346.60" y="126.70" width="0.8" height="0.8" fill="#8094e0" opacity="0.7"/>
<rect x="349.12" y="101.84" width="0.8" height="0.8" fill="#8094e0" opacity="0.7"/>
<rect x="347.07" y="119.85" width="0.8" height="0.8" fill="#8094e0" opacity="0.7"/>
<rect x="348.45" y="105.43" width="0.8" height="0.8" fill="#8094e0" opacity="0.7"/>
<rect x="347.17" y="123.24" width="0.8" height="0.8" fill="#8094e0" opacity="0.7"/>
<rect x="348.28" y="115.57" width="0.8" height="0.8" fill="#8094e0" opacity="0.7"/>
<rect x="346.36" y="127.11" width="0.8" height="0.8" fill="#8094e0" opacity="0.7"/>
<rect x="345.90" y="127.03" width="0.8" height="0.8" fill="#8094e0" opacity="0.7"/>
<rect x="347.28" y="122.87" width="0.8" height="0.8" fill="#8094e0" opacity="0.7"/>
<rect x="348.03" y="122.58" width="0.8" height="0.8" fill="#8094e0" opacity="0.7"/>
<rect x="347.12" y="122.29" width="0.8" height="0.8" fill="#8094e0" opacity="0.7"/>
<rect x="347.47" y="103.61" width="0.8" height="0.8" fill="#8094e0" opacity="0.7"/>
<rect x="346.77" y="125.27" width="0.8" height="0.8" fill="#8094e0" opacity="0.7"/>
<rect x="348.49" y="101.00" width="0.8" height="0.8" fill="#8094e0" opacity="0.7"/>
<rect x="346.94" y="119.93" width="0.8" height="0.8" fill="#8094e0" opacity="0.7"/>
<rect x="347.47" y="104.94" width="0.8" height="0.8" fill="#8094e0" opacity="0.7"/>
<rect x="346.95" y="123.64" width="0.8" height="0.8" fill="#8094e0" opacity="0.7"/>
<rect x="346.39" y="128.54" width="0.8" height="0.8" fill="#8094e0" opacity="0.7"/>
<rect x="347.03" y="120.95" width="0.8" height="0.8" fill="#8094e0" opacity="0.7"/>
<rect x="347.14" y="121.22" width="0.8" height="0.8" fill="#8094e0" opacity="0.7"/>
<rect x="347.24" y="119.22" width="0.8" height="0.8" fill="#8094e0" opacity="0.7"/>
<rect x="347.03" y="109.89" width="0.8" height="0.8" fill="#8094e0" opacity="0.7"/>
<rect x="346.92" y="120.14" width="0.8" height="0.8" fill="#8094e0" opacity="0.7"/>
<rect x="348.18" y="102.40" width="0.8" height="0.8" fill="#8094e0" opacity="0.7"/>
<rect x="347.73" y="123.42" width="0.8" height="0.8" fill="#8094e0" opacity="0.7"/>
<rect x="347.24" y="109.09" width="0.8" height="0.8" fill="#8094e0" opacity="0.7"/>
<rect x="345.85" y="121.88" width="0.8" height="0.8" fill="#8094e0" opacity="0.7"/>
<rect x="348.12" y="118.32" width="0.8" height="0.8" fill="#8094e0" opacity="0.7"/>
<rect x="347.56" y="121.95" width="0.8" height="0.8" fill="#8094e0" opacity="0.7"/>
<rect x="347.46" y="124.20" width="0.8" height="0.8" fill="#8094e0" opacity="0.7"/>
<rect x="347.03" y="118.66" width="0.8" height="0.8" fill="#8094e0" opacity="0.7"/>
<rect x="346.98" y="115.69" width="0.8" height="0.8" fill="#8094e0" opacity="0.7"/>
<g filter="url(#bl)" transform="translate(347.20 123.00) scale(0.9 1) rotate(4) translate(-347.20 -123.00)"><ellipse cx="347.20" cy="120.00" rx="1.7" ry="8.5" fill="#7088dc" opacity="0.85"/><ellipse cx="347.20" cy="122.00" rx="1.5" ry="6.0" fill="#3a80c8"/><ellipse cx="347.20" cy="123.00" rx="1.45" ry="5.6" fill="#2fa58a"/><ellipse cx="347.20" cy="123.00" rx="1.25" ry="4.6" fill="#5db84a"/><ellipse cx="347.20" cy="123.00" rx="0.85" ry="3.0" fill="#d7cd34"/><ellipse cx="347.20" cy="123.00" rx="0.45" ry="1.3" fill="#e58a2c"/></g>
<line x1="346.00" y1="138.00" x2="348.20" y2="138.00" stroke="#222" stroke-width="1.0"/>
<rect x="349.90" y="93.70" width="30.50" height="42.70" fill="none" stroke="#999" stroke-width="0.85"/>
<text transform="translate(376.50 99.00) scale(1.050 1)" font-size="6.4" fill="#111" stroke="#111" stroke-width="0.057" text-anchor="end">9.5</text>
<rect x="254.60" y="155.60" width="46.20" height="46.80" fill="none" stroke="#c4c4c4" stroke-width="0.9"/>
<line x1="253.30" y1="201.70" x2="254.60" y2="201.70" stroke="#444" stroke-width="0.7"/>
<line x1="253.90" y1="199.97" x2="254.60" y2="199.97" stroke="#888" stroke-width="0.4"/>
<line x1="253.90" y1="198.24" x2="254.60" y2="198.24" stroke="#888" stroke-width="0.4"/>
<line x1="253.90" y1="196.52" x2="254.60" y2="196.52" stroke="#888" stroke-width="0.4"/>
<line x1="253.90" y1="194.79" x2="254.60" y2="194.79" stroke="#888" stroke-width="0.4"/>
<text transform="translate(251.30 203.15) scale(1.050 1)" font-size="4.1" fill="#111" stroke="#111" stroke-width="0.143" text-anchor="end">0</text>
<line x1="253.30" y1="193.06" x2="254.60" y2="193.06" stroke="#444" stroke-width="0.7"/>
<line x1="253.90" y1="191.33" x2="254.60" y2="191.33" stroke="#888" stroke-width="0.4"/>
<line x1="253.90" y1="189.60" x2="254.60" y2="189.60" stroke="#888" stroke-width="0.4"/>
<line x1="253.90" y1="187.88" x2="254.60" y2="187.88" stroke="#888" stroke-width="0.4"/>
<line x1="253.90" y1="186.15" x2="254.60" y2="186.15" stroke="#888" stroke-width="0.4"/>
<text transform="translate(251.30 194.51) scale(1.050 1)" font-size="4.1" fill="#111" stroke="#111" stroke-width="0.143" text-anchor="end">50K</text>
<line x1="253.30" y1="184.42" x2="254.60" y2="184.42" stroke="#444" stroke-width="0.7"/>
<line x1="253.90" y1="182.69" x2="254.60" y2="182.69" stroke="#888" stroke-width="0.4"/>
<line x1="253.90" y1="180.96" x2="254.60" y2="180.96" stroke="#888" stroke-width="0.4"/>
<line x1="253.90" y1="179.24" x2="254.60" y2="179.24" stroke="#888" stroke-width="0.4"/>
<line x1="253.90" y1="177.51" x2="254.60" y2="177.51" stroke="#888" stroke-width="0.4"/>
<text transform="translate(251.30 185.87) scale(1.050 1)" font-size="4.1" fill="#111" stroke="#111" stroke-width="0.143" text-anchor="end">100K</text>
<line x1="253.30" y1="175.78" x2="254.60" y2="175.78" stroke="#444" stroke-width="0.7"/>
<line x1="253.90" y1="174.05" x2="254.60" y2="174.05" stroke="#888" stroke-width="0.4"/>
<line x1="253.90" y1="172.32" x2="254.60" y2="172.32" stroke="#888" stroke-width="0.4"/>
<line x1="253.90" y1="170.60" x2="254.60" y2="170.60" stroke="#888" stroke-width="0.4"/>
<line x1="253.90" y1="168.87" x2="254.60" y2="168.87" stroke="#888" stroke-width="0.4"/>
<text transform="translate(251.30 177.23) scale(1.050 1)" font-size="4.1" fill="#111" stroke="#111" stroke-width="0.143" text-anchor="end">150K</text>
<line x1="253.30" y1="167.14" x2="254.60" y2="167.14" stroke="#444" stroke-width="0.7"/>
<line x1="253.90" y1="165.41" x2="254.60" y2="165.41" stroke="#888" stroke-width="0.4"/>
<line x1="253.90" y1="163.68" x2="254.60" y2="163.68" stroke="#888" stroke-width="0.4"/>
<line x1="253.90" y1="161.96" x2="254.60" y2="161.96" stroke="#888" stroke-width="0.4"/>
<line x1="253.90" y1="160.23" x2="254.60" y2="160.23" stroke="#888" stroke-width="0.4"/>
<text transform="translate(251.30 168.59) scale(1.050 1)" font-size="4.1" fill="#111" stroke="#111" stroke-width="0.143" text-anchor="end">200K</text>
<line x1="253.30" y1="158.50" x2="254.60" y2="158.50" stroke="#444" stroke-width="0.7"/>
<text transform="translate(251.30 159.95) scale(1.050 1)" font-size="4.1" fill="#111" stroke="#111" stroke-width="0.143" text-anchor="end">250K</text>
<line x1="257.87" y1="202.40" x2="257.87" y2="203.60" stroke="#444" stroke-width="0.7"/>
<line x1="265.99" y1="202.40" x2="265.99" y2="203.60" stroke="#444" stroke-width="0.7"/>
<line x1="272.52" y1="202.40" x2="272.52" y2="203.60" stroke="#444" stroke-width="0.7"/>
<line x1="286.05" y1="202.40" x2="286.05" y2="203.60" stroke="#444" stroke-width="0.7"/>
<line x1="297.35" y1="202.40" x2="297.35" y2="203.60" stroke="#444" stroke-width="0.7"/>
<text transform="translate(257.87 209.70)" font-size="4.4" fill="#1a1a1a" stroke="#1a1a1a" stroke-width="0.120" text-anchor="middle">-10<tspan font-size="2.64" dy="-2.42">3</tspan></text>
<text transform="translate(265.99 209.70)" font-size="4.4" fill="#1a1a1a" stroke="#1a1a1a" stroke-width="0.120" text-anchor="middle">0</text>
<text transform="translate(273.12 209.70)" font-size="4.4" fill="#1a1a1a" stroke="#1a1a1a" stroke-width="0.120" text-anchor="middle">10<tspan font-size="2.64" dy="-2.42">3</tspan></text>
<text transform="translate(286.65 209.70)" font-size="4.4" fill="#1a1a1a" stroke="#1a1a1a" stroke-width="0.120" text-anchor="middle">10<tspan font-size="2.64" dy="-2.42">4</tspan></text>
<text transform="translate(297.95 209.70)" font-size="4.4" fill="#1a1a1a" stroke="#1a1a1a" stroke-width="0.120" text-anchor="middle">10<tspan font-size="2.64" dy="-2.42">5</tspan></text>
<rect x="271.41" y="189.53" width="0.75" height="0.75" fill="#959ce2" opacity="0.62"/>
<rect x="270.31" y="172.31" width="0.75" height="0.75" fill="#959ce2" opacity="0.62"/>
<rect x="271.73" y="193.81" width="0.75" height="0.75" fill="#959ce2" opacity="0.62"/>
<rect x="270.15" y="187.90" width="0.75" height="0.75" fill="#959ce2" opacity="0.62"/>
<rect x="294.40" y="174.74" width="0.75" height="0.75" fill="#959ce2" opacity="0.62"/>
<rect x="271.99" y="175.45" width="0.75" height="0.75" fill="#959ce2" opacity="0.62"/>
<rect x="277.38" y="174.41" width="0.75" height="0.75" fill="#959ce2" opacity="0.62"/>
<rect x="282.03" y="191.37" width="0.75" height="0.75" fill="#959ce2" opacity="0.62"/>
<rect x="284.95" y="174.26" width="0.75" height="0.75" fill="#959ce2" opacity="0.62"/>
<rect x="280.04" y="174.50" width="0.75" height="0.75" fill="#959ce2" opacity="0.62"/>
<rect x="275.13" y="181.17" width="0.75" height="0.75" fill="#959ce2" opacity="0.62"/>
<rect x="273.35" y="184.43" width="0.75" height="0.75" fill="#959ce2" opacity="0.62"/>
<rect x="271.84" y="178.33" width="0.75" height="0.75" fill="#959ce2" opacity="0.62"/>
<rect x="289.69" y="186.84" width="0.75" height="0.75" fill="#959ce2" opacity="0.62"/>
<rect x="279.21" y="179.67" width="0.75" height="0.75" fill="#959ce2" opacity="0.62"/>
<rect x="290.14" y="182.21" width="0.75" height="0.75" fill="#959ce2" opacity="0.62"/>
<rect x="293.26" y="195.76" width="0.75" height="0.75" fill="#959ce2" opacity="0.62"/>
<rect x="275.14" y="172.73" width="0.75" height="0.75" fill="#959ce2" opacity="0.62"/>
<rect x="270.61" y="195.55" width="0.75" height="0.75" fill="#959ce2" opacity="0.62"/>
<rect x="275.48" y="176.14" width="0.75" height="0.75" fill="#959ce2" opacity="0.62"/>
<rect x="283.97" y="182.35" width="0.75" height="0.75" fill="#959ce2" opacity="0.62"/>
<rect x="265.31" y="189.21" width="0.8" height="0.8" fill="#8094e0" opacity="0.7"/>
<rect x="266.53" y="175.91" width="0.8" height="0.8" fill="#8094e0" opacity="0.7"/>
<rect x="265.16" y="176.65" width="0.8" height="0.8" fill="#8094e0" opacity="0.7"/>
<rect x="264.95" y="186.46" width="0.8" height="0.8" fill="#8094e0" opacity="0.7"/>
<rect x="265.91" y="183.75" width="0.8" height="0.8" fill="#8094e0" opacity="0.7"/>
<rect x="264.93" y="185.51" width="0.8" height="0.8" fill="#8094e0" opacity="0.7"/>
<rect x="266.04" y="185.56" width="0.8" height="0.8" fill="#8094e0" opacity="0.7"/>
<rect x="265.40" y="185.64" width="0.8" height="0.8" fill="#8094e0" opacity="0.7"/>
<rect x="266.59" y="182.15" width="0.8" height="0.8" fill="#8094e0" opacity="0.7"/>
<rect x="264.60" y="187.42" width="0.8" height="0.8" fill="#8094e0" opacity="0.7"/>
<rect x="265.78" y="185.27" width="0.8" height="0.8" fill="#8094e0" opacity="0.7"/>
<rect x="263.22" y="186.80" width="0.8" height="0.8" fill="#8094e0" opacity="0.7"/>
<rect x="266.89" y="166.96" width="0.8" height="0.8" fill="#8094e0" opacity="0.7"/>
<rect x="265.13" y="183.56" width="0.8" height="0.8" fill="#8094e0" opacity="0.7"/>
<rect x="264.92" y="182.48" width="0.8" height="0.8" fill="#8094e0" opacity="0.7"/>
<rect x="267.28" y="167.47" width="0.8" height="0.8" fill="#8094e0" opacity="0.7"/>
<rect x="264.68" y="187.80" width="0.8" height="0.8" fill="#8094e0" opacity="0.7"/>
<rect x="264.74" y="190.13" width="0.8" height="0.8" fill="#8094e0" opacity="0.7"/>
<rect x="264.51" y="183.68" width="0.8" height="0.8" fill="#8094e0" opacity="0.7"/>
<rect x="263.75" y="194.23" width="0.8" height="0.8" fill="#8094e0" opacity="0.7"/>
<rect x="265.28" y="180.32" width="0.8" height="0.8" fill="#8094e0" opacity="0.7"/>
<rect x="265.32" y="190.84" width="0.8" height="0.8" fill="#8094e0" opacity="0.7"/>
<rect x="264.23" y="189.98" width="0.8" height="0.8" fill="#8094e0" opacity="0.7"/>
<rect x="264.40" y="195.32" width="0.8" height="0.8" fill="#8094e0" opacity="0.7"/>
<rect x="264.77" y="190.82" width="0.8" height="0.8" fill="#8094e0" opacity="0.7"/>
<rect x="265.82" y="169.39" width="0.8" height="0.8" fill="#8094e0" opacity="0.7"/>
<rect x="264.86" y="187.35" width="0.8" height="0.8" fill="#8094e0" opacity="0.7"/>
<rect x="265.11" y="184.39" width="0.8" height="0.8" fill="#8094e0" opacity="0.7"/>
<rect x="265.36" y="188.86" width="0.8" height="0.8" fill="#8094e0" opacity="0.7"/>
<rect x="264.78" y="181.83" width="0.8" height="0.8" fill="#8094e0" opacity="0.7"/>
<rect x="264.26" y="186.24" width="0.8" height="0.8" fill="#8094e0" opacity="0.7"/>
<rect x="266.35" y="182.82" width="0.8" height="0.8" fill="#8094e0" opacity="0.7"/>
<rect x="266.31" y="180.03" width="0.8" height="0.8" fill="#8094e0" opacity="0.7"/>
<rect x="264.36" y="182.64" width="0.8" height="0.8" fill="#8094e0" opacity="0.7"/>
<rect x="265.99" y="170.74" width="0.8" height="0.8" fill="#8094e0" opacity="0.7"/>
<rect x="265.29" y="185.63" width="0.8" height="0.8" fill="#8094e0" opacity="0.7"/>
<rect x="265.45" y="185.32" width="0.8" height="0.8" fill="#8094e0" opacity="0.7"/>
<rect x="264.48" y="188.25" width="0.8" height="0.8" fill="#8094e0" opacity="0.7"/>
<rect x="264.70" y="193.47" width="0.8" height="0.8" fill="#8094e0" opacity="0.7"/>
<rect x="266.73" y="171.59" width="0.8" height="0.8" fill="#8094e0" opacity="0.7"/>
<rect x="266.59" y="189.93" width="0.8" height="0.8" fill="#8094e0" opacity="0.7"/>
<rect x="265.04" y="190.90" width="0.8" height="0.8" fill="#8094e0" opacity="0.7"/>
<rect x="265.64" y="185.81" width="0.8" height="0.8" fill="#8094e0" opacity="0.7"/>
<rect x="264.63" y="193.38" width="0.8" height="0.8" fill="#8094e0" opacity="0.7"/>
<rect x="265.60" y="182.73" width="0.8" height="0.8" fill="#8094e0" opacity="0.7"/>
<rect x="265.77" y="189.92" width="0.8" height="0.8" fill="#8094e0" opacity="0.7"/>
<rect x="265.66" y="184.90" width="0.8" height="0.8" fill="#8094e0" opacity="0.7"/>
<rect x="265.01" y="178.13" width="0.8" height="0.8" fill="#8094e0" opacity="0.7"/>
<rect x="264.21" y="187.56" width="0.8" height="0.8" fill="#8094e0" opacity="0.7"/>
<rect x="266.29" y="174.91" width="0.8" height="0.8" fill="#8094e0" opacity="0.7"/>
<rect x="264.91" y="190.58" width="0.8" height="0.8" fill="#8094e0" opacity="0.7"/>
<rect x="265.05" y="191.16" width="0.8" height="0.8" fill="#8094e0" opacity="0.7"/>
<rect x="265.97" y="190.50" width="0.8" height="0.8" fill="#8094e0" opacity="0.7"/>
<rect x="264.90" y="184.22" width="0.8" height="0.8" fill="#8094e0" opacity="0.7"/>
<rect x="264.76" y="175.52" width="0.8" height="0.8" fill="#8094e0" opacity="0.7"/>
<rect x="265.80" y="183.33" width="0.8" height="0.8" fill="#8094e0" opacity="0.7"/>
<rect x="265.79" y="179.58" width="0.8" height="0.8" fill="#8094e0" opacity="0.7"/>
<rect x="264.55" y="185.19" width="0.8" height="0.8" fill="#8094e0" opacity="0.7"/>
<rect x="264.28" y="189.01" width="0.8" height="0.8" fill="#8094e0" opacity="0.7"/>
<rect x="266.01" y="170.44" width="0.8" height="0.8" fill="#8094e0" opacity="0.7"/>
<rect x="265.57" y="181.74" width="0.8" height="0.8" fill="#8094e0" opacity="0.7"/>
<rect x="264.70" y="186.14" width="0.8" height="0.8" fill="#8094e0" opacity="0.7"/>
<rect x="265.51" y="185.23" width="0.8" height="0.8" fill="#8094e0" opacity="0.7"/>
<rect x="264.86" y="189.25" width="0.8" height="0.8" fill="#8094e0" opacity="0.7"/>
<rect x="264.73" y="186.40" width="0.8" height="0.8" fill="#8094e0" opacity="0.7"/>
<rect x="264.86" y="189.63" width="0.8" height="0.8" fill="#8094e0" opacity="0.7"/>
<rect x="265.62" y="187.74" width="0.8" height="0.8" fill="#8094e0" opacity="0.7"/>
<rect x="264.76" y="193.43" width="0.8" height="0.8" fill="#8094e0" opacity="0.7"/>
<rect x="265.92" y="184.26" width="0.8" height="0.8" fill="#8094e0" opacity="0.7"/>
<rect x="263.96" y="190.03" width="0.8" height="0.8" fill="#8094e0" opacity="0.7"/>
<g filter="url(#bl)" transform="translate(265.60 188.00) scale(1.0 1) rotate(4) translate(-265.60 -188.00)"><ellipse cx="265.60" cy="185.00" rx="1.7" ry="8.5" fill="#7088dc" opacity="0.85"/><ellipse cx="265.60" cy="187.00" rx="1.5" ry="6.0" fill="#3a80c8"/><ellipse cx="265.60" cy="188.00" rx="1.45" ry="5.6" fill="#2fa58a"/><ellipse cx="265.60" cy="188.00" rx="1.25" ry="4.6" fill="#5db84a"/><ellipse cx="265.60" cy="188.00" rx="0.85" ry="3.0" fill="#d7cd34"/><ellipse cx="265.60" cy="188.00" rx="0.45" ry="1.3" fill="#e58a2c"/></g>
<line x1="264.40" y1="202.40" x2="266.60" y2="202.40" stroke="#222" stroke-width="1.0"/>
<rect x="269.00" y="159.60" width="31.40" height="40.80" fill="none" stroke="#999" stroke-width="0.85"/>
<text transform="translate(297.40 165.90) scale(1.050 1)" font-size="6.4" fill="#111" stroke="#111" stroke-width="0.057" text-anchor="end">1.3</text>
<rect x="334.60" y="155.60" width="46.00" height="46.80" fill="none" stroke="#c4c4c4" stroke-width="0.9"/>
<line x1="333.30" y1="201.70" x2="334.60" y2="201.70" stroke="#444" stroke-width="0.7"/>
<line x1="333.90" y1="199.97" x2="334.60" y2="199.97" stroke="#888" stroke-width="0.4"/>
<line x1="333.90" y1="198.24" x2="334.60" y2="198.24" stroke="#888" stroke-width="0.4"/>
<line x1="333.90" y1="196.52" x2="334.60" y2="196.52" stroke="#888" stroke-width="0.4"/>
<line x1="333.90" y1="194.79" x2="334.60" y2="194.79" stroke="#888" stroke-width="0.4"/>
<text transform="translate(331.30 203.15) scale(1.050 1)" font-size="4.1" fill="#111" stroke="#111" stroke-width="0.143" text-anchor="end">0</text>
<line x1="333.30" y1="193.06" x2="334.60" y2="193.06" stroke="#444" stroke-width="0.7"/>
<line x1="333.90" y1="191.33" x2="334.60" y2="191.33" stroke="#888" stroke-width="0.4"/>
<line x1="333.90" y1="189.60" x2="334.60" y2="189.60" stroke="#888" stroke-width="0.4"/>
<line x1="333.90" y1="187.88" x2="334.60" y2="187.88" stroke="#888" stroke-width="0.4"/>
<line x1="333.90" y1="186.15" x2="334.60" y2="186.15" stroke="#888" stroke-width="0.4"/>
<text transform="translate(331.30 194.51) scale(1.050 1)" font-size="4.1" fill="#111" stroke="#111" stroke-width="0.143" text-anchor="end">50K</text>
<line x1="333.30" y1="184.42" x2="334.60" y2="184.42" stroke="#444" stroke-width="0.7"/>
<line x1="333.90" y1="182.69" x2="334.60" y2="182.69" stroke="#888" stroke-width="0.4"/>
<line x1="333.90" y1="180.96" x2="334.60" y2="180.96" stroke="#888" stroke-width="0.4"/>
<line x1="333.90" y1="179.24" x2="334.60" y2="179.24" stroke="#888" stroke-width="0.4"/>
<line x1="333.90" y1="177.51" x2="334.60" y2="177.51" stroke="#888" stroke-width="0.4"/>
<text transform="translate(331.30 185.87) scale(1.050 1)" font-size="4.1" fill="#111" stroke="#111" stroke-width="0.143" text-anchor="end">100K</text>
<line x1="333.30" y1="175.78" x2="334.60" y2="175.78" stroke="#444" stroke-width="0.7"/>
<line x1="333.90" y1="174.05" x2="334.60" y2="174.05" stroke="#888" stroke-width="0.4"/>
<line x1="333.90" y1="172.32" x2="334.60" y2="172.32" stroke="#888" stroke-width="0.4"/>
<line x1="333.90" y1="170.60" x2="334.60" y2="170.60" stroke="#888" stroke-width="0.4"/>
<line x1="333.90" y1="168.87" x2="334.60" y2="168.87" stroke="#888" stroke-width="0.4"/>
<text transform="translate(331.30 177.23) scale(1.050 1)" font-size="4.1" fill="#111" stroke="#111" stroke-width="0.143" text-anchor="end">150K</text>
<line x1="333.30" y1="167.14" x2="334.60" y2="167.14" stroke="#444" stroke-width="0.7"/>
<line x1="333.90" y1="165.41" x2="334.60" y2="165.41" stroke="#888" stroke-width="0.4"/>
<line x1="333.90" y1="163.68" x2="334.60" y2="163.68" stroke="#888" stroke-width="0.4"/>
<line x1="333.90" y1="161.96" x2="334.60" y2="161.96" stroke="#888" stroke-width="0.4"/>
<line x1="333.90" y1="160.23" x2="334.60" y2="160.23" stroke="#888" stroke-width="0.4"/>
<text transform="translate(331.30 168.59) scale(1.050 1)" font-size="4.1" fill="#111" stroke="#111" stroke-width="0.143" text-anchor="end">200K</text>
<line x1="333.30" y1="158.50" x2="334.60" y2="158.50" stroke="#444" stroke-width="0.7"/>
<text transform="translate(331.30 159.95) scale(1.050 1)" font-size="4.1" fill="#111" stroke="#111" stroke-width="0.143" text-anchor="end">250K</text>
<line x1="337.85" y1="202.40" x2="337.85" y2="203.60" stroke="#444" stroke-width="0.7"/>
<line x1="345.94" y1="202.40" x2="345.94" y2="203.60" stroke="#444" stroke-width="0.7"/>
<line x1="352.44" y1="202.40" x2="352.44" y2="203.60" stroke="#444" stroke-width="0.7"/>
<line x1="365.92" y1="202.40" x2="365.92" y2="203.60" stroke="#444" stroke-width="0.7"/>
<line x1="377.16" y1="202.40" x2="377.16" y2="203.60" stroke="#444" stroke-width="0.7"/>
<text transform="translate(337.85 209.70)" font-size="4.4" fill="#1a1a1a" stroke="#1a1a1a" stroke-width="0.120" text-anchor="middle">-10<tspan font-size="2.64" dy="-2.42">3</tspan></text>
<text transform="translate(345.94 209.70)" font-size="4.4" fill="#1a1a1a" stroke="#1a1a1a" stroke-width="0.120" text-anchor="middle">0</text>
<text transform="translate(353.04 209.70)" font-size="4.4" fill="#1a1a1a" stroke="#1a1a1a" stroke-width="0.120" text-anchor="middle">10<tspan font-size="2.64" dy="-2.42">3</tspan></text>
<text transform="translate(366.52 209.70)" font-size="4.4" fill="#1a1a1a" stroke="#1a1a1a" stroke-width="0.120" text-anchor="middle">10<tspan font-size="2.64" dy="-2.42">4</tspan></text>
<text transform="translate(377.76 209.70)" font-size="4.4" fill="#1a1a1a" stroke="#1a1a1a" stroke-width="0.120" text-anchor="middle">10<tspan font-size="2.64" dy="-2.42">5</tspan></text>
<rect x="357.29" y="178.92" width="0.75" height="0.75" fill="#959ce2" opacity="0.62"/>
<rect x="358.53" y="179.86" width="0.75" height="0.75" fill="#959ce2" opacity="0.62"/>
<rect x="361.78" y="173.91" width="0.75" height="0.75" fill="#959ce2" opacity="0.62"/>
<rect x="357.74" y="185.83" width="0.75" height="0.75" fill="#959ce2" opacity="0.62"/>
<rect x="358.27" y="176.32" width="0.75" height="0.75" fill="#959ce2" opacity="0.62"/>
<rect x="351.09" y="170.20" width="0.75" height="0.75" fill="#959ce2" opacity="0.62"/>
<rect x="350.92" y="190.72" width="0.75" height="0.75" fill="#959ce2" opacity="0.62"/>
<rect x="358.40" y="196.01" width="0.75" height="0.75" fill="#959ce2" opacity="0.62"/>
<rect x="351.02" y="191.30" width="0.75" height="0.75" fill="#959ce2" opacity="0.62"/>
<rect x="369.77" y="186.86" width="0.75" height="0.75" fill="#959ce2" opacity="0.62"/>
<rect x="360.46" y="185.57" width="0.75" height="0.75" fill="#959ce2" opacity="0.62"/>
<rect x="352.31" y="175.09" width="0.75" height="0.75" fill="#959ce2" opacity="0.62"/>
<rect x="351.85" y="173.89" width="0.75" height="0.75" fill="#959ce2" opacity="0.62"/>
<rect x="358.30" y="190.67" width="0.75" height="0.75" fill="#959ce2" opacity="0.62"/>
<rect x="356.08" y="186.08" width="0.75" height="0.75" fill="#959ce2" opacity="0.62"/>
<rect x="358.37" y="195.76" width="0.75" height="0.75" fill="#959ce2" opacity="0.62"/>
<rect x="351.33" y="196.57" width="0.75" height="0.75" fill="#959ce2" opacity="0.62"/>
<rect x="353.22" y="192.09" width="0.75" height="0.75" fill="#959ce2" opacity="0.62"/>
<rect x="353.37" y="173.14" width="0.75" height="0.75" fill="#959ce2" opacity="0.62"/>
<rect x="361.28" y="170.60" width="0.75" height="0.75" fill="#959ce2" opacity="0.62"/>
<rect x="353.97" y="167.78" width="0.75" height="0.75" fill="#959ce2" opacity="0.62"/>
<rect x="360.09" y="187.87" width="0.75" height="0.75" fill="#959ce2" opacity="0.62"/>
<rect x="344.75" y="193.26" width="0.8" height="0.8" fill="#8094e0" opacity="0.7"/>
<rect x="344.61" y="189.56" width="0.8" height="0.8" fill="#8094e0" opacity="0.7"/>
<rect x="345.79" y="180.31" width="0.8" height="0.8" fill="#8094e0" opacity="0.7"/>
<rect x="345.09" y="187.81" width="0.8" height="0.8" fill="#8094e0" opacity="0.7"/>
<rect x="345.68" y="171.94" width="0.8" height="0.8" fill="#8094e0" opacity="0.7"/>
<rect x="344.55" y="189.25" width="0.8" height="0.8" fill="#8094e0" opacity="0.7"/>
<rect x="346.00" y="187.66" width="0.8" height="0.8" fill="#8094e0" opacity="0.7"/>
<rect x="345.51" y="183.56" width="0.8" height="0.8" fill="#8094e0" opacity="0.7"/>
<rect x="346.29" y="164.74" width="0.8" height="0.8" fill="#8094e0" opacity="0.7"/>
<rect x="345.91" y="162.81" width="0.8" height="0.8" fill="#8094e0" opacity="0.7"/>
<rect x="344.81" y="178.40" width="0.8" height="0.8" fill="#8094e0" opacity="0.7"/>
<rect x="344.86" y="185.82" width="0.8" height="0.8" fill="#8094e0" opacity="0.7"/>
<rect x="345.56" y="185.51" width="0.8" height="0.8" fill="#8094e0" opacity="0.7"/>
<rect x="346.19" y="174.68" width="0.8" height="0.8" fill="#8094e0" opacity="0.7"/>
<rect x="346.06" y="171.53" width="0.8" height="0.8" fill="#8094e0" opacity="0.7"/>
<rect x="345.98" y="173.28" width="0.8" height="0.8" fill="#8094e0" opacity="0.7"/>
<rect x="346.14" y="163.30" width="0.8" height="0.8" fill="#8094e0" opacity="0.7"/>
<rect x="346.33" y="177.94" width="0.8" height="0.8" fill="#8094e0" opacity="0.7"/>
<rect x="346.16" y="167.57" width="0.8" height="0.8" fill="#8094e0" opacity="0.7"/>
<rect x="347.08" y="165.09" width="0.8" height="0.8" fill="#8094e0" opacity="0.7"/>
<rect x="345.09" y="188.44" width="0.8" height="0.8" fill="#8094e0" opacity="0.7"/>
<rect x="344.26" y="193.86" width="0.8" height="0.8" fill="#8094e0" opacity="0.7"/>
<rect x="345.90" y="177.95" width="0.8" height="0.8" fill="#8094e0" opacity="0.7"/>
<rect x="344.78" y="187.35" width="0.8" height="0.8" fill="#8094e0" opacity="0.7"/>
<rect x="346.62" y="163.11" width="0.8" height="0.8" fill="#8094e0" opacity="0.7"/>
<rect x="347.13" y="164.35" width="0.8" height="0.8" fill="#8094e0" opacity="0.7"/>
<rect x="345.93" y="184.01" width="0.8" height="0.8" fill="#8094e0" opacity="0.7"/>
<rect x="345.70" y="180.34" width="0.8" height="0.8" fill="#8094e0" opacity="0.7"/>
<rect x="345.33" y="183.97" width="0.8" height="0.8" fill="#8094e0" opacity="0.7"/>
<rect x="344.63" y="182.46" width="0.8" height="0.8" fill="#8094e0" opacity="0.7"/>
<rect x="346.38" y="173.23" width="0.8" height="0.8" fill="#8094e0" opacity="0.7"/>
<rect x="345.42" y="170.30" width="0.8" height="0.8" fill="#8094e0" opacity="0.7"/>
<rect x="345.21" y="178.95" width="0.8" height="0.8" fill="#8094e0" opacity="0.7"/>
<rect x="346.40" y="173.04" width="0.8" height="0.8" fill="#8094e0" opacity="0.7"/>
<rect x="345.04" y="183.68" width="0.8" height="0.8" fill="#8094e0" opacity="0.7"/>
<rect x="346.95" y="176.93" width="0.8" height="0.8" fill="#8094e0" opacity="0.7"/>
<rect x="346.22" y="176.98" width="0.8" height="0.8" fill="#8094e0" opacity="0.7"/>
<rect x="345.13" y="184.60" width="0.8" height="0.8" fill="#8094e0" opacity="0.7"/>
<rect x="346.01" y="182.95" width="0.8" height="0.8" fill="#8094e0" opacity="0.7"/>
<rect x="345.06" y="179.12" width="0.8" height="0.8" fill="#8094e0" opacity="0.7"/>
<rect x="344.78" y="180.56" width="0.8" height="0.8" fill="#8094e0" opacity="0.7"/>
<rect x="344.84" y="185.12" width="0.8" height="0.8" fill="#8094e0" opacity="0.7"/>
<rect x="344.69" y="185.41" width="0.8" height="0.8" fill="#8094e0" opacity="0.7"/>
<rect x="345.07" y="190.74" width="0.8" height="0.8" fill="#8094e0" opacity="0.7"/>
<rect x="345.16" y="184.02" width="0.8" height="0.8" fill="#8094e0" opacity="0.7"/>
<rect x="344.67" y="192.93" width="0.8" height="0.8" fill="#8094e0" opacity="0.7"/>
<rect x="345.40" y="187.04" width="0.8" height="0.8" fill="#8094e0" opacity="0.7"/>
<rect x="344.91" y="185.70" width="0.8" height="0.8" fill="#8094e0" opacity="0.7"/>
<rect x="345.55" y="185.94" width="0.8" height="0.8" fill="#8094e0" opacity="0.7"/>
<rect x="346.71" y="166.79" width="0.8" height="0.8" fill="#8094e0" opacity="0.7"/>
<rect x="346.69" y="166.06" width="0.8" height="0.8" fill="#8094e0" opacity="0.7"/>
<rect x="344.16" y="186.89" width="0.8" height="0.8" fill="#8094e0" opacity="0.7"/>
<rect x="346.44" y="179.92" width="0.8" height="0.8" fill="#8094e0" opacity="0.7"/>
<rect x="347.36" y="165.42" width="0.8" height="0.8" fill="#8094e0" opacity="0.7"/>
<rect x="346.47" y="167.05" width="0.8" height="0.8" fill="#8094e0" opacity="0.7"/>
<rect x="345.96" y="167.03" width="0.8" height="0.8" fill="#8094e0" opacity="0.7"/>
<rect x="344.44" y="184.49" width="0.8" height="0.8" fill="#8094e0" opacity="0.7"/>
<rect x="344.16" y="189.31" width="0.8" height="0.8" fill="#8094e0" opacity="0.7"/>
<rect x="346.70" y="189.00" width="0.8" height="0.8" fill="#8094e0" opacity="0.7"/>
<rect x="346.25" y="177.59" width="0.8" height="0.8" fill="#8094e0" opacity="0.7"/>
<rect x="345.36" y="184.73" width="0.8" height="0.8" fill="#8094e0" opacity="0.7"/>
<rect x="346.33" y="171.80" width="0.8" height="0.8" fill="#8094e0" opacity="0.7"/>
<rect x="346.24" y="176.84" width="0.8" height="0.8" fill="#8094e0" opacity="0.7"/>
<rect x="345.83" y="184.82" width="0.8" height="0.8" fill="#8094e0" opacity="0.7"/>
<rect x="346.89" y="175.99" width="0.8" height="0.8" fill="#8094e0" opacity="0.7"/>
<rect x="344.81" y="189.66" width="0.8" height="0.8" fill="#8094e0" opacity="0.7"/>
<rect x="345.01" y="193.73" width="0.8" height="0.8" fill="#8094e0" opacity="0.7"/>
<rect x="345.57" y="175.34" width="0.8" height="0.8" fill="#8094e0" opacity="0.7"/>
<rect x="345.41" y="176.73" width="0.8" height="0.8" fill="#8094e0" opacity="0.7"/>
<rect x="345.87" y="172.47" width="0.8" height="0.8" fill="#8094e0" opacity="0.7"/>
<g filter="url(#bl)" transform="translate(345.60 186.00) scale(0.75 1) rotate(4) translate(-345.60 -186.00)"><ellipse cx="345.60" cy="183.00" rx="1.7" ry="8.5" fill="#7088dc" opacity="0.85"/><ellipse cx="345.60" cy="185.00" rx="1.5" ry="6.0" fill="#3a80c8"/><ellipse cx="345.60" cy="186.00" rx="1.45" ry="5.6" fill="#2fa58a"/><ellipse cx="345.60" cy="186.00" rx="1.25" ry="4.6" fill="#5db84a"/><ellipse cx="345.60" cy="186.00" rx="0.85" ry="3.0" fill="#d7cd34"/><ellipse cx="345.60" cy="186.00" rx="0.45" ry="1.3" fill="#e58a2c"/></g>
<line x1="344.40" y1="202.40" x2="346.60" y2="202.40" stroke="#222" stroke-width="1.0"/>
<rect x="349.60" y="157.70" width="30.20" height="42.70" fill="none" stroke="#999" stroke-width="0.85"/>
<text transform="translate(377.40 164.30) scale(1.050 1)" font-size="6.4" fill="#111" stroke="#111" stroke-width="0.057" text-anchor="end">1.2</text>
<line x1="237.20" y1="215.10" x2="237.20" y2="26.00" stroke="#111" stroke-width="1.25"/>
<path d="M234.90 27.8 L237.20 22.8 L239.50 27.8 Z" fill="#111"/>
<line x1="317.20" y1="215.10" x2="317.20" y2="26.00" stroke="#111" stroke-width="1.25"/>
<path d="M314.90 27.8 L317.20 22.8 L319.50 27.8 Z" fill="#111"/>
<line x1="236.60" y1="215.10" x2="297.70" y2="215.10" stroke="#111" stroke-width="1.25"/>
<path d="M296.80 212.8 L301.70 215.1 L296.80 217.4 Z" fill="#111"/>
<line x1="316.60" y1="215.10" x2="378.00" y2="215.10" stroke="#111" stroke-width="1.25"/>
<path d="M377.10 212.8 L382.00 215.1 L377.10 217.4 Z" fill="#111"/>
<text transform="translate(214.10 46.00) scale(1.100 1)" font-size="6.2" fill="#1a1a1a" stroke="#1a1a1a" stroke-width="0.045">WT</text>
<text transform="translate(210.80 112.90) scale(1.060 1)" font-size="6.3" fill="#1a1a1a" stroke="#1a1a1a" stroke-width="0.047">56<tspan font-size="4.54" dy="-3.15">KO</tspan></text>
<text transform="translate(210.80 160.00) scale(1.060 1)" font-size="6.3" fill="#1a1a1a" stroke="#1a1a1a" stroke-width="0.047">56<tspan font-size="4.54" dy="-3.15">KO</tspan></text>
<text transform="translate(210.80 166.60) scale(1.060 1)" font-size="6.3" fill="#1a1a1a" stroke="#1a1a1a" stroke-width="0.047">97<tspan font-size="4.54" dy="-3.15">KO</tspan></text>
<text transform="translate(232.80 119.00) scale(1.550 1) rotate(-90)" font-size="4.2" fill="#1a1a1a" stroke="#1a1a1a" stroke-width="0.065" text-anchor="middle" textLength="7.60" lengthAdjust="spacingAndGlyphs">FSC</text>
<text transform="translate(312.90 118.80) scale(1.600 1) rotate(-90)" font-size="4.2" fill="#1a1a1a" stroke="#1a1a1a" stroke-width="0.062" text-anchor="middle" textLength="7.60" lengthAdjust="spacingAndGlyphs">cKit</text>
<text transform="translate(269.70 223.70)" font-size="6.0" fill="#1a1a1a" stroke="#1a1a1a" stroke-width="0.220" text-anchor="middle" textLength="10.20" lengthAdjust="spacingAndGlyphs">CD45</text>
<text transform="translate(349.60 223.70)" font-size="6.0" fill="#1a1a1a" stroke="#1a1a1a" stroke-width="0.220" text-anchor="middle" textLength="16.60" lengthAdjust="spacingAndGlyphs">CD16/32</text>
<line x1="420.40" y1="90.10" x2="420.40" y2="27.20" stroke="#111" stroke-width="1.0"/>
<line x1="417.50" y1="77.70" x2="420.40" y2="77.70" stroke="#111" stroke-width="1.0"/>
<text transform="translate(414.30 79.54) scale(1.200 1)" font-size="5.1" fill="#1a1a1a" stroke="#1a1a1a" stroke-width="0.083" text-anchor="end">20</text>
<line x1="417.50" y1="65.80" x2="420.40" y2="65.80" stroke="#111" stroke-width="1.0"/>
<text transform="translate(414.30 67.64) scale(1.200 1)" font-size="5.1" fill="#1a1a1a" stroke="#1a1a1a" stroke-width="0.083" text-anchor="end">40</text>
<line x1="417.50" y1="53.90" x2="420.40" y2="53.90" stroke="#111" stroke-width="1.0"/>
<text transform="translate(414.30 55.74) scale(1.200 1)" font-size="5.1" fill="#1a1a1a" stroke="#1a1a1a" stroke-width="0.083" text-anchor="end">60</text>
<line x1="417.50" y1="42.00" x2="420.40" y2="42.00" stroke="#111" stroke-width="1.0"/>
<text transform="translate(414.30 43.84) scale(1.200 1)" font-size="5.1" fill="#1a1a1a" stroke="#1a1a1a" stroke-width="0.083" text-anchor="end">80</text>
<line x1="417.50" y1="30.10" x2="420.40" y2="30.10" stroke="#111" stroke-width="1.0"/>
<text transform="translate(414.30 31.94) scale(1.200 1)" font-size="5.1" fill="#1a1a1a" stroke="#1a1a1a" stroke-width="0.083" text-anchor="end">100</text>
<line x1="417.40" y1="89.60" x2="451.20" y2="89.60" stroke="#111" stroke-width="1.1"/>
<line x1="425.30" y1="39.68" x2="425.30" y2="35.57" stroke="#2a2a2a" stroke-width="0.9"/>
<line x1="423.50" y1="35.57" x2="427.10" y2="35.57" stroke="#2a2a2a" stroke-width="0.9"/>
<rect x="422.00" y="39.68" width="6.60" height="49.92" fill="#552466" stroke="#3e1450" stroke-width="0.5"/>
<line x1="435.40" y1="41.11" x2="435.40" y2="36.29" stroke="#2a2a2a" stroke-width="0.9"/>
<line x1="433.60" y1="36.29" x2="437.20" y2="36.29" stroke="#2a2a2a" stroke-width="0.9"/>
<rect x="432.00" y="41.11" width="6.80" height="48.49" fill="#325f46" stroke="#234d36" stroke-width="0.5"/>
<line x1="446.00" y1="43.49" x2="446.00" y2="36.82" stroke="#2a2a2a" stroke-width="0.9"/>
<line x1="444.20" y1="36.82" x2="447.80" y2="36.82" stroke="#2a2a2a" stroke-width="0.9"/>
<rect x="442.80" y="43.49" width="6.40" height="46.11" fill="#8c80c0" stroke="#7a6cb4" stroke-width="0.5"/>
<line x1="425.40" y1="89.60" x2="425.40" y2="92.50" stroke="#111" stroke-width="0.9"/>
<line x1="435.40" y1="89.60" x2="435.40" y2="92.50" stroke="#111" stroke-width="0.9"/>
<line x1="445.70" y1="89.60" x2="445.70" y2="92.50" stroke="#111" stroke-width="0.9"/>
<text transform="translate(428.70 98.10) rotate(-45)" font-size="6.2" fill="#1a1a1a" stroke="#1a1a1a" stroke-width="0.100" text-anchor="end">WT</text>
<text transform="translate(438.70 98.10) rotate(-45)" font-size="6.2" fill="#1a1a1a" stroke="#1a1a1a" stroke-width="0.100" text-anchor="end">56<tspan font-size="4.59" dy="-2.98">KO</tspan></text>
<text transform="translate(449.00 98.10) rotate(-45)" font-size="6.2" fill="#1a1a1a" stroke="#1a1a1a" stroke-width="0.100" text-anchor="end">56<tspan font-size="4.59" dy="-2.98">KO</tspan><tspan dy="2.98">97</tspan><tspan font-size="4.59" dy="-2.98">KO</tspan></text>
<text transform="translate(398.70 58.50) scale(1.280 1) rotate(-90)" font-size="6.5" fill="#1a1a1a" stroke="#1a1a1a" stroke-width="0.281" text-anchor="middle" textLength="35.80" lengthAdjust="spacingAndGlyphs">% viable cells</text>
<line x1="482.20" y1="90.00" x2="482.20" y2="27.30" stroke="#111" stroke-width="1.0"/>
<line x1="479.30" y1="74.67" x2="482.20" y2="74.67" stroke="#111" stroke-width="1.0"/>
<text transform="translate(476.10 76.51) scale(1.200 1)" font-size="5.1" fill="#1a1a1a" stroke="#1a1a1a" stroke-width="0.083" text-anchor="end">1</text>
<line x1="479.30" y1="59.85" x2="482.20" y2="59.85" stroke="#111" stroke-width="1.0"/>
<text transform="translate(476.10 61.69) scale(1.200 1)" font-size="5.1" fill="#1a1a1a" stroke="#1a1a1a" stroke-width="0.083" text-anchor="end">2</text>
<line x1="479.30" y1="45.03" x2="482.20" y2="45.03" stroke="#111" stroke-width="1.0"/>
<text transform="translate(476.10 46.86) scale(1.200 1)" font-size="5.1" fill="#1a1a1a" stroke="#1a1a1a" stroke-width="0.083" text-anchor="end">3</text>
<line x1="479.30" y1="30.20" x2="482.20" y2="30.20" stroke="#111" stroke-width="1.0"/>
<text transform="translate(476.10 32.04) scale(1.200 1)" font-size="5.1" fill="#1a1a1a" stroke="#1a1a1a" stroke-width="0.083" text-anchor="end">4</text>
<line x1="479.20" y1="89.50" x2="513.30" y2="89.50" stroke="#111" stroke-width="1.1"/>
<rect x="484.00" y="74.67" width="6.80" height="14.82" fill="#552466" stroke="#3e1450" stroke-width="0.5"/>
<line x1="497.55" y1="52.44" x2="497.55" y2="44.28" stroke="#2a2a2a" stroke-width="0.9"/>
<line x1="495.75" y1="44.28" x2="499.35" y2="44.28" stroke="#2a2a2a" stroke-width="0.9"/>
<rect x="494.20" y="52.44" width="6.70" height="37.06" fill="#325f46" stroke="#234d36" stroke-width="0.5"/>
<line x1="507.70" y1="72.45" x2="507.70" y2="69.78" stroke="#2a2a2a" stroke-width="0.9"/>
<line x1="505.90" y1="69.78" x2="509.50" y2="69.78" stroke="#2a2a2a" stroke-width="0.9"/>
<rect x="504.20" y="72.45" width="7.00" height="17.05" fill="#8c80c0" stroke="#7a6cb4" stroke-width="0.5"/>
<line x1="487.50" y1="89.50" x2="487.50" y2="92.40" stroke="#111" stroke-width="0.9"/>
<line x1="497.50" y1="89.50" x2="497.50" y2="92.40" stroke="#111" stroke-width="0.9"/>
<line x1="507.50" y1="89.50" x2="507.50" y2="92.40" stroke="#111" stroke-width="0.9"/>
<text transform="translate(490.80 98.00) rotate(-45)" font-size="6.2" fill="#1a1a1a" stroke="#1a1a1a" stroke-width="0.100" text-anchor="end">WT</text>
<text transform="translate(500.80 98.00) rotate(-45)" font-size="6.2" fill="#1a1a1a" stroke="#1a1a1a" stroke-width="0.100" text-anchor="end">56<tspan font-size="4.59" dy="-2.98">KO</tspan></text>
<text transform="translate(510.80 98.00) rotate(-45)" font-size="6.2" fill="#1a1a1a" stroke="#1a1a1a" stroke-width="0.100" text-anchor="end">56<tspan font-size="4.59" dy="-2.98">KO</tspan><tspan dy="2.98">97</tspan><tspan font-size="4.59" dy="-2.98">KO</tspan></text>
<text transform="translate(467.30 58.40) scale(1.220 1) rotate(-90)" font-size="6.2" fill="#1a1a1a" stroke="#1a1a1a" stroke-width="0.295" text-anchor="middle" textLength="38.80" lengthAdjust="spacingAndGlyphs">Fold change V<tspan font-size="3.84" dy="-2.60">+</tspan></text>
<text transform="translate(497.50 43.60) scale(1.100 1)" font-size="7.2" fill="#111" stroke="#111" stroke-width="0.182" text-anchor="middle">*</text>
<line x1="420.40" y1="196.70" x2="420.40" y2="132.80" stroke="#111" stroke-width="1.0"/>
<line x1="417.50" y1="176.03" x2="420.40" y2="176.03" stroke="#111" stroke-width="1.0"/>
<text transform="translate(414.30 177.87) scale(1.200 1)" font-size="5.1" fill="#1a1a1a" stroke="#1a1a1a" stroke-width="0.083" text-anchor="end">1</text>
<line x1="417.50" y1="155.87" x2="420.40" y2="155.87" stroke="#111" stroke-width="1.0"/>
<text transform="translate(414.30 157.70) scale(1.200 1)" font-size="5.1" fill="#1a1a1a" stroke="#1a1a1a" stroke-width="0.083" text-anchor="end">2</text>
<line x1="417.50" y1="135.70" x2="420.40" y2="135.70" stroke="#111" stroke-width="1.0"/>
<text transform="translate(414.30 137.54) scale(1.200 1)" font-size="5.1" fill="#1a1a1a" stroke="#1a1a1a" stroke-width="0.083" text-anchor="end">3</text>
<line x1="417.40" y1="196.20" x2="451.20" y2="196.20" stroke="#111" stroke-width="1.1"/>
<rect x="422.00" y="176.03" width="6.60" height="20.17" fill="#552466" stroke="#3e1450" stroke-width="0.5"/>
<line x1="435.40" y1="166.55" x2="435.40" y2="159.09" stroke="#2a2a2a" stroke-width="0.9"/>
<line x1="433.60" y1="159.09" x2="437.20" y2="159.09" stroke="#2a2a2a" stroke-width="0.9"/>
<rect x="432.00" y="166.55" width="6.80" height="29.64" fill="#325f46" stroke="#234d36" stroke-width="0.5"/>
<line x1="446.00" y1="187.53" x2="446.00" y2="185.51" stroke="#2a2a2a" stroke-width="0.9"/>
<line x1="444.20" y1="185.51" x2="447.80" y2="185.51" stroke="#2a2a2a" stroke-width="0.9"/>
<rect x="442.80" y="187.53" width="6.40" height="8.67" fill="#8c80c0" stroke="#7a6cb4" stroke-width="0.5"/>
<line x1="425.40" y1="196.20" x2="425.40" y2="199.10" stroke="#111" stroke-width="0.9"/>
<line x1="435.40" y1="196.20" x2="435.40" y2="199.10" stroke="#111" stroke-width="0.9"/>
<line x1="445.70" y1="196.20" x2="445.70" y2="199.10" stroke="#111" stroke-width="0.9"/>
<text transform="translate(428.70 204.70) rotate(-45)" font-size="6.2" fill="#1a1a1a" stroke="#1a1a1a" stroke-width="0.100" text-anchor="end">WT</text>
<text transform="translate(438.70 204.70) rotate(-45)" font-size="6.2" fill="#1a1a1a" stroke="#1a1a1a" stroke-width="0.100" text-anchor="end">56<tspan font-size="4.59" dy="-2.98">KO</tspan></text>
<text transform="translate(449.00 204.70) rotate(-45)" font-size="6.2" fill="#1a1a1a" stroke="#1a1a1a" stroke-width="0.100" text-anchor="end">56<tspan font-size="4.59" dy="-2.98">KO</tspan><tspan dy="2.98">97</tspan><tspan font-size="4.59" dy="-2.98">KO</tspan></text>
<text transform="translate(405.30 164.60) scale(1.250 1) rotate(-90)" font-size="6.2" fill="#1a1a1a" stroke="#1a1a1a" stroke-width="0.288" text-anchor="middle" textLength="49.20" lengthAdjust="spacingAndGlyphs">Fold change CD45<tspan font-size="3.84" dy="-2.60">+</tspan></text>
<text transform="translate(445.90 186.00) scale(1.100 1)" font-size="7.2" fill="#111" stroke="#111" stroke-width="0.182" text-anchor="middle">***</text>
<line x1="482.30" y1="196.70" x2="482.30" y2="132.80" stroke="#111" stroke-width="1.0"/>
<line x1="479.40" y1="176.03" x2="482.30" y2="176.03" stroke="#111" stroke-width="1.0"/>
<text transform="translate(476.20 177.87) scale(1.200 1)" font-size="5.1" fill="#1a1a1a" stroke="#1a1a1a" stroke-width="0.083" text-anchor="end">1</text>
<line x1="479.40" y1="155.87" x2="482.30" y2="155.87" stroke="#111" stroke-width="1.0"/>
<text transform="translate(476.20 157.70) scale(1.200 1)" font-size="5.1" fill="#1a1a1a" stroke="#1a1a1a" stroke-width="0.083" text-anchor="end">2</text>
<line x1="479.40" y1="135.70" x2="482.30" y2="135.70" stroke="#111" stroke-width="1.0"/>
<text transform="translate(476.20 137.54) scale(1.200 1)" font-size="5.1" fill="#1a1a1a" stroke="#1a1a1a" stroke-width="0.083" text-anchor="end">3</text>
<line x1="479.30" y1="196.20" x2="513.30" y2="196.20" stroke="#111" stroke-width="1.1"/>
<rect x="484.00" y="176.03" width="6.60" height="20.17" fill="#552466" stroke="#3e1450" stroke-width="0.5"/>
<line x1="497.55" y1="167.36" x2="497.55" y2="157.68" stroke="#2a2a2a" stroke-width="0.9"/>
<line x1="495.75" y1="157.68" x2="499.35" y2="157.68" stroke="#2a2a2a" stroke-width="0.9"/>
<rect x="494.20" y="167.36" width="6.70" height="28.84" fill="#325f46" stroke="#234d36" stroke-width="0.5"/>
<line x1="507.85" y1="190.75" x2="507.85" y2="188.94" stroke="#2a2a2a" stroke-width="0.9"/>
<line x1="506.05" y1="188.94" x2="509.65" y2="188.94" stroke="#2a2a2a" stroke-width="0.9"/>
<rect x="504.50" y="190.75" width="6.70" height="5.45" fill="#8c80c0" stroke="#7a6cb4" stroke-width="0.5"/>
<line x1="487.50" y1="196.20" x2="487.50" y2="199.10" stroke="#111" stroke-width="0.9"/>
<line x1="497.50" y1="196.20" x2="497.50" y2="199.10" stroke="#111" stroke-width="0.9"/>
<line x1="507.50" y1="196.20" x2="507.50" y2="199.10" stroke="#111" stroke-width="0.9"/>
<text transform="translate(490.80 204.70) rotate(-45)" font-size="6.2" fill="#1a1a1a" stroke="#1a1a1a" stroke-width="0.100" text-anchor="end">WT</text>
<text transform="translate(500.80 204.70) rotate(-45)" font-size="6.2" fill="#1a1a1a" stroke="#1a1a1a" stroke-width="0.100" text-anchor="end">56<tspan font-size="4.59" dy="-2.98">KO</tspan></text>
<text transform="translate(510.80 204.70) rotate(-45)" font-size="6.2" fill="#1a1a1a" stroke="#1a1a1a" stroke-width="0.100" text-anchor="end">56<tspan font-size="4.59" dy="-2.98">KO</tspan><tspan dy="2.98">97</tspan><tspan font-size="4.59" dy="-2.98">KO</tspan></text>
<text transform="translate(467.40 164.70) scale(1.300 1) rotate(-90)" font-size="6.2" fill="#1a1a1a" stroke="#1a1a1a" stroke-width="0.277" text-anchor="middle" textLength="47.80" lengthAdjust="spacingAndGlyphs">Fold change EMPs</text>
<text transform="translate(507.90 188.00) scale(1.100 1)" font-size="7.2" fill="#111" stroke="#111" stroke-width="0.182" text-anchor="middle">***</text>
<line x1="42.90" y1="190.80" x2="42.90" y2="113.20" stroke="#111" stroke-width="1.0"/>
<line x1="39.90" y1="153.10" x2="42.90" y2="153.10" stroke="#111" stroke-width="1.0"/>
<text transform="translate(36.70 155.58) scale(1.100 1)" font-size="6.9" fill="#1a1a1a" stroke="#1a1a1a" stroke-width="0.091" text-anchor="end">50</text>
<line x1="39.90" y1="115.90" x2="42.90" y2="115.90" stroke="#111" stroke-width="1.0"/>
<text transform="translate(36.70 118.38) scale(1.100 1)" font-size="6.9" fill="#1a1a1a" stroke="#1a1a1a" stroke-width="0.091" text-anchor="end">100</text>
<line x1="40.00" y1="190.30" x2="96.00" y2="190.30" stroke="#111" stroke-width="1.2"/>
<rect x="48.10" y="183.00" width="10.80" height="7.30" fill="#2f4f82"/>
<rect x="48.10" y="174.80" width="10.80" height="8.20" fill="#e8bc23"/>
<rect x="48.10" y="171.00" width="10.80" height="3.80" fill="#5f4120"/>
<rect x="48.10" y="169.00" width="10.80" height="2.00" fill="#dc8c1e"/>
<rect x="48.10" y="154.50" width="10.80" height="14.50" fill="#6ea546"/>
<rect x="48.10" y="152.10" width="10.80" height="2.40" fill="#a5052d"/>
<rect x="64.40" y="188.00" width="10.60" height="2.30" fill="#2f4f82"/>
<rect x="64.40" y="183.90" width="10.60" height="4.10" fill="#e8bc23"/>
<rect x="64.40" y="177.50" width="10.60" height="6.40" fill="#5f4120"/>
<rect x="64.40" y="173.80" width="10.60" height="3.70" fill="#dc8c1e"/>
<rect x="64.40" y="146.60" width="10.60" height="27.20" fill="#6ea546"/>
<rect x="64.40" y="144.80" width="10.60" height="1.80" fill="#a5052d"/>
<rect x="80.00" y="190.00" width="10.90" height="0.30" fill="#2f4f82"/>
<rect x="80.00" y="187.20" width="10.90" height="2.80" fill="#e8bc23"/>
<rect x="80.00" y="187.10" width="10.90" height="0.10" fill="#5f4120"/>
<rect x="80.00" y="187.00" width="10.90" height="0.10" fill="#dc8c1e"/>
<rect x="80.00" y="186.80" width="10.90" height="0.20" fill="#6ea546"/>
<rect x="80.00" y="186.70" width="10.90" height="0.10" fill="#a5052d"/>
<line x1="53.50" y1="153.60" x2="53.50" y2="149.70" stroke="#111" stroke-width="0.9"/>
<line x1="51.40" y1="149.70" x2="55.60" y2="149.70" stroke="#111" stroke-width="0.9"/>
<line x1="51.40" y1="153.60" x2="55.60" y2="153.60" stroke="#111" stroke-width="0.9"/>
<line x1="53.50" y1="174.60" x2="53.50" y2="166.80" stroke="#111" stroke-width="0.9"/>
<line x1="51.40" y1="166.80" x2="55.60" y2="166.80" stroke="#111" stroke-width="0.9"/>
<line x1="51.40" y1="174.60" x2="55.60" y2="174.60" stroke="#111" stroke-width="0.9"/>
<line x1="53.50" y1="184.20" x2="53.50" y2="181.50" stroke="#111" stroke-width="0.9"/>
<line x1="51.40" y1="181.50" x2="55.60" y2="181.50" stroke="#111" stroke-width="0.9"/>
<line x1="51.40" y1="184.20" x2="55.60" y2="184.20" stroke="#111" stroke-width="0.9"/>
<line x1="69.70" y1="146.00" x2="69.70" y2="142.80" stroke="#111" stroke-width="0.9"/>
<line x1="67.60" y1="142.80" x2="71.80" y2="142.80" stroke="#111" stroke-width="0.9"/>
<line x1="67.60" y1="146.00" x2="71.80" y2="146.00" stroke="#111" stroke-width="0.9"/>
<line x1="69.70" y1="174.60" x2="69.70" y2="172.70" stroke="#111" stroke-width="0.9"/>
<line x1="67.60" y1="172.70" x2="71.80" y2="172.70" stroke="#111" stroke-width="0.9"/>
<line x1="67.60" y1="174.60" x2="71.80" y2="174.60" stroke="#111" stroke-width="0.9"/>
<line x1="69.70" y1="178.90" x2="69.70" y2="175.90" stroke="#111" stroke-width="0.9"/>
<line x1="67.60" y1="175.90" x2="71.80" y2="175.90" stroke="#111" stroke-width="0.9"/>
<line x1="67.60" y1="178.90" x2="71.80" y2="178.90" stroke="#111" stroke-width="0.9"/>
<line x1="69.70" y1="185.50" x2="69.70" y2="182.00" stroke="#111" stroke-width="0.9"/>
<line x1="67.60" y1="182.00" x2="71.80" y2="182.00" stroke="#111" stroke-width="0.9"/>
<line x1="67.60" y1="185.50" x2="71.80" y2="185.50" stroke="#111" stroke-width="0.9"/>
<line x1="69.70" y1="188.00" x2="69.70" y2="186.20" stroke="#111" stroke-width="0.9"/>
<line x1="67.60" y1="186.20" x2="71.80" y2="186.20" stroke="#111" stroke-width="0.9"/>
<rect x="83.0" y="185.6" width="5.1" height="1.7" fill="#111"/>
<line x1="53.50" y1="190.30" x2="53.50" y2="193.00" stroke="#111" stroke-width="0.9"/>
<line x1="69.30" y1="190.30" x2="69.30" y2="193.00" stroke="#111" stroke-width="0.9"/>
<line x1="85.20" y1="190.30" x2="85.20" y2="193.00" stroke="#111" stroke-width="0.9"/>
<text transform="translate(85.60 183.80) scale(1.050 1)" font-size="7.8" fill="#111" stroke="#111" stroke-width="0.238" text-anchor="middle">**</text>
<text transform="translate(55.50 199.50) rotate(-45)" font-size="7.4" fill="#1a1a1a" stroke="#1a1a1a" stroke-width="0.100" text-anchor="end">WT</text>
<text transform="translate(71.30 199.50) rotate(-45)" font-size="7.4" fill="#1a1a1a" stroke="#1a1a1a" stroke-width="0.100" text-anchor="end">56<tspan font-size="5.48" dy="-3.55">KO</tspan></text>
<text transform="translate(87.20 199.50) rotate(-45)" font-size="7.4" fill="#1a1a1a" stroke="#1a1a1a" stroke-width="0.100" text-anchor="end">56<tspan font-size="5.48" dy="-3.55">KO</tspan><tspan dy="3.55">97</tspan><tspan font-size="5.48" dy="-3.55">KO</tspan></text>
<text transform="translate(18.80 151.30) scale(1.300 1) rotate(-90)" font-size="7.0" fill="#1a1a1a" stroke="#1a1a1a" stroke-width="0.169" text-anchor="middle" textLength="55.00" lengthAdjust="spacingAndGlyphs">CFU-C/10<tspan font-size="4.20" dy="-2.94">4</tspan><tspan dy="2.94"> V</tspan><tspan font-size="4.20" dy="-2.94">+</tspan><tspan dy="2.94"> cells</tspan></text>
<rect x="98.50" y="127.20" width="7.80" height="5.20" fill="#a5052d"/>
<text transform="translate(109.10 131.90) scale(0.980 1)" font-size="5.5" fill="#2a2a2a" stroke="#2a2a2a" stroke-width="0.050">CFU-GEMM</text>
<rect x="98.50" y="135.92" width="7.80" height="5.20" fill="#6ea546"/>
<text transform="translate(109.10 140.62) scale(0.980 1)" font-size="5.5" fill="#2a2a2a" stroke="#2a2a2a" stroke-width="0.050">CFU-GM</text>
<rect x="98.50" y="144.64" width="7.80" height="5.20" fill="#dc8c1e"/>
<text transform="translate(109.10 149.34) scale(0.980 1)" font-size="5.5" fill="#2a2a2a" stroke="#2a2a2a" stroke-width="0.050">CFU-M</text>
<rect x="98.50" y="153.36" width="7.80" height="5.20" fill="#5f4120"/>
<text transform="translate(109.10 158.06) scale(0.980 1)" font-size="5.5" fill="#2a2a2a" stroke="#2a2a2a" stroke-width="0.050">CFU-G</text>
<rect x="98.50" y="162.08" width="7.80" height="5.20" fill="#e8bc23"/>
<text transform="translate(109.10 166.78) scale(0.980 1)" font-size="5.5" fill="#2a2a2a" stroke="#2a2a2a" stroke-width="0.050">CFU-E</text>
<rect x="98.50" y="170.80" width="7.80" height="5.20" fill="#2f4f82"/>
<text transform="translate(109.10 175.50) scale(0.980 1)" font-size="5.5" fill="#2a2a2a" stroke="#2a2a2a" stroke-width="0.050">BFU-E</text>
<line x1="42.90" y1="341.35" x2="42.90" y2="264.60" stroke="#111" stroke-width="1.0"/>
<line x1="40.10" y1="304.33" x2="42.90" y2="304.33" stroke="#111" stroke-width="1.0"/>
<text transform="translate(37.10 306.68) scale(1.070 1)" font-size="7.6" fill="#1a1a1a" stroke="#1a1a1a" stroke-width="0.093" text-anchor="end">10</text>
<line x1="40.10" y1="267.80" x2="42.90" y2="267.80" stroke="#111" stroke-width="1.0"/>
<text transform="translate(37.10 270.15) scale(1.070 1)" font-size="7.6" fill="#1a1a1a" stroke="#1a1a1a" stroke-width="0.093" text-anchor="end">20</text>
<line x1="39.90" y1="340.85" x2="89.60" y2="340.85" stroke="#111" stroke-width="1.1"/>
<line x1="52.45" y1="304.33" x2="52.45" y2="297.39" stroke="#333" stroke-width="0.9"/>
<line x1="50.25" y1="297.39" x2="54.65" y2="297.39" stroke="#333" stroke-width="0.9"/>
<rect x="47.90" y="304.33" width="9.10" height="36.53" fill="#2f4f82" stroke="#1e3a72" stroke-width="0.5"/>
<line x1="67.15" y1="329.16" x2="67.15" y2="321.86" stroke="#333" stroke-width="0.9"/>
<line x1="64.95" y1="321.86" x2="69.35" y2="321.86" stroke="#333" stroke-width="0.9"/>
<rect x="62.30" y="329.16" width="9.70" height="11.69" fill="#2f4f82" stroke="#1e3a72" stroke-width="0.5"/>
<line x1="82.00" y1="339.75" x2="82.00" y2="337.56" stroke="#333" stroke-width="0.9"/>
<line x1="79.80" y1="337.56" x2="84.20" y2="337.56" stroke="#333" stroke-width="0.9"/>
<rect x="77.20" y="339.75" width="9.60" height="1.10" fill="#2f4f82" stroke="#1e3a72" stroke-width="0.5"/>
<line x1="52.30" y1="340.85" x2="52.30" y2="344.05" stroke="#111" stroke-width="0.9"/>
<line x1="67.10" y1="340.85" x2="67.10" y2="344.05" stroke="#111" stroke-width="0.9"/>
<line x1="81.70" y1="340.85" x2="81.70" y2="344.05" stroke="#111" stroke-width="0.9"/>
<text transform="translate(67.50 259.90) scale(1.050 1)" font-size="8.0" fill="#1a1a1a" stroke="#1a1a1a" stroke-width="0.114" text-anchor="middle">BFU-E</text>
<text transform="translate(82.10 336.40) scale(1.100 1)" font-size="7.2" fill="#111" stroke="#111" stroke-width="0.182" text-anchor="middle">**</text>
<text transform="translate(22.60 302.80) scale(1.250 1) rotate(-90)" font-size="6.6" fill="#1a1a1a" stroke="#1a1a1a" stroke-width="0.288" text-anchor="middle" textLength="48.80" lengthAdjust="spacingAndGlyphs">CFU-C/10<tspan font-size="3.96" dy="-2.77">4</tspan><tspan dy="2.77"> V</tspan><tspan font-size="3.96" dy="-2.77">+</tspan><tspan dy="2.77"> cells</tspan></text>
<text transform="translate(56.10 350.65) rotate(-45)" font-size="6.1" fill="#1a1a1a" stroke="#1a1a1a" stroke-width="0.100" text-anchor="end">WT</text>
<text transform="translate(70.90 350.65) rotate(-45)" font-size="6.1" fill="#1a1a1a" stroke="#1a1a1a" stroke-width="0.100" text-anchor="end">56<tspan font-size="4.51" dy="-2.93">KO</tspan></text>
<text transform="translate(85.50 350.65) rotate(-45)" font-size="6.1" fill="#1a1a1a" stroke="#1a1a1a" stroke-width="0.100" text-anchor="end">56<tspan font-size="4.51" dy="-2.93">KO</tspan><tspan dy="2.93">97</tspan><tspan font-size="4.51" dy="-2.93">KO</tspan></text>
<line x1="128.40" y1="341.35" x2="128.40" y2="264.60" stroke="#111" stroke-width="1.0"/>
<line x1="125.60" y1="304.33" x2="128.40" y2="304.33" stroke="#111" stroke-width="1.0"/>
<text transform="translate(122.60 306.68) scale(1.070 1)" font-size="7.6" fill="#1a1a1a" stroke="#1a1a1a" stroke-width="0.093" text-anchor="end">10</text>
<line x1="125.60" y1="267.80" x2="128.40" y2="267.80" stroke="#111" stroke-width="1.0"/>
<text transform="translate(122.60 270.15) scale(1.070 1)" font-size="7.6" fill="#1a1a1a" stroke="#1a1a1a" stroke-width="0.093" text-anchor="end">20</text>
<line x1="125.40" y1="340.85" x2="175.30" y2="340.85" stroke="#111" stroke-width="1.1"/>
<line x1="138.05" y1="302.13" x2="138.05" y2="280.58" stroke="#333" stroke-width="0.9"/>
<line x1="135.85" y1="280.58" x2="140.25" y2="280.58" stroke="#333" stroke-width="0.9"/>
<rect x="133.00" y="302.13" width="10.10" height="38.72" fill="#e8bc23" stroke="#e0b010" stroke-width="0.5"/>
<line x1="152.75" y1="323.32" x2="152.75" y2="316.38" stroke="#333" stroke-width="0.9"/>
<line x1="150.55" y1="316.38" x2="154.95" y2="316.38" stroke="#333" stroke-width="0.9"/>
<rect x="148.00" y="323.32" width="9.50" height="17.53" fill="#e8bc23" stroke="#e0b010" stroke-width="0.5"/>
<line x1="167.15" y1="330.26" x2="167.15" y2="322.95" stroke="#333" stroke-width="0.9"/>
<line x1="164.95" y1="322.95" x2="169.35" y2="322.95" stroke="#333" stroke-width="0.9"/>
<rect x="162.50" y="330.26" width="9.30" height="10.59" fill="#e8bc23" stroke="#e0b010" stroke-width="0.5"/>
<line x1="137.90" y1="340.85" x2="137.90" y2="344.05" stroke="#111" stroke-width="0.9"/>
<line x1="152.70" y1="340.85" x2="152.70" y2="344.05" stroke="#111" stroke-width="0.9"/>
<line x1="167.20" y1="340.85" x2="167.20" y2="344.05" stroke="#111" stroke-width="0.9"/>
<text transform="translate(152.50 259.90) scale(1.050 1)" font-size="8.0" fill="#1a1a1a" stroke="#1a1a1a" stroke-width="0.114" text-anchor="middle">CFU-E</text>
<text transform="translate(108.10 302.80) scale(1.250 1) rotate(-90)" font-size="6.6" fill="#1a1a1a" stroke="#1a1a1a" stroke-width="0.288" text-anchor="middle" textLength="48.80" lengthAdjust="spacingAndGlyphs">CFU-C/10<tspan font-size="3.96" dy="-2.77">4</tspan><tspan dy="2.77"> V</tspan><tspan font-size="3.96" dy="-2.77">+</tspan><tspan dy="2.77"> cells</tspan></text>
<text transform="translate(141.70 350.65) rotate(-45)" font-size="6.1" fill="#1a1a1a" stroke="#1a1a1a" stroke-width="0.100" text-anchor="end">WT</text>
<text transform="translate(156.50 350.65) rotate(-45)" font-size="6.1" fill="#1a1a1a" stroke="#1a1a1a" stroke-width="0.100" text-anchor="end">56<tspan font-size="4.51" dy="-2.93">KO</tspan></text>
<text transform="translate(171.00 350.65) rotate(-45)" font-size="6.1" fill="#1a1a1a" stroke="#1a1a1a" stroke-width="0.100" text-anchor="end">56<tspan font-size="4.51" dy="-2.93">KO</tspan><tspan dy="2.93">97</tspan><tspan font-size="4.51" dy="-2.93">KO</tspan></text>
<line x1="213.50" y1="341.35" x2="213.50" y2="264.60" stroke="#111" stroke-width="1.0"/>
<line x1="210.70" y1="304.33" x2="213.50" y2="304.33" stroke="#111" stroke-width="1.0"/>
<text transform="translate(207.70 306.68) scale(1.070 1)" font-size="7.6" fill="#1a1a1a" stroke="#1a1a1a" stroke-width="0.093" text-anchor="end">10</text>
<line x1="210.70" y1="267.80" x2="213.50" y2="267.80" stroke="#111" stroke-width="1.0"/>
<text transform="translate(207.70 270.15) scale(1.070 1)" font-size="7.6" fill="#1a1a1a" stroke="#1a1a1a" stroke-width="0.093" text-anchor="end">20</text>
<line x1="210.50" y1="340.85" x2="261.30" y2="340.85" stroke="#111" stroke-width="1.1"/>
<line x1="223.45" y1="321.13" x2="223.45" y2="309.80" stroke="#333" stroke-width="0.9"/>
<line x1="221.25" y1="309.80" x2="225.65" y2="309.80" stroke="#333" stroke-width="0.9"/>
<rect x="219.00" y="321.13" width="8.90" height="19.72" fill="#5f4120" stroke="#52350f" stroke-width="0.5"/>
<line x1="238.05" y1="307.25" x2="238.05" y2="297.75" stroke="#333" stroke-width="0.9"/>
<line x1="235.85" y1="297.75" x2="240.25" y2="297.75" stroke="#333" stroke-width="0.9"/>
<rect x="233.40" y="307.25" width="9.30" height="33.60" fill="#5f4120" stroke="#52350f" stroke-width="0.5"/>
<line x1="223.20" y1="340.85" x2="223.20" y2="344.05" stroke="#111" stroke-width="0.9"/>
<line x1="238.00" y1="340.85" x2="238.00" y2="344.05" stroke="#111" stroke-width="0.9"/>
<line x1="253.00" y1="340.85" x2="253.00" y2="344.05" stroke="#111" stroke-width="0.9"/>
<text transform="translate(238.00 259.90) scale(1.050 1)" font-size="8.0" fill="#1a1a1a" stroke="#1a1a1a" stroke-width="0.114" text-anchor="middle">CFU-G</text>
<text transform="translate(238.00 296.40) scale(1.100 1)" font-size="7.2" fill="#111" stroke="#111" stroke-width="0.182" text-anchor="middle">*</text>
<text transform="translate(193.60 302.80) scale(1.250 1) rotate(-90)" font-size="6.6" fill="#1a1a1a" stroke="#1a1a1a" stroke-width="0.288" text-anchor="middle" textLength="48.80" lengthAdjust="spacingAndGlyphs">CFU-C/10<tspan font-size="3.96" dy="-2.77">4</tspan><tspan dy="2.77"> V</tspan><tspan font-size="3.96" dy="-2.77">+</tspan><tspan dy="2.77"> cells</tspan></text>
<text transform="translate(227.00 350.65) rotate(-45)" font-size="6.1" fill="#1a1a1a" stroke="#1a1a1a" stroke-width="0.100" text-anchor="end">WT</text>
<text transform="translate(241.80 350.65) rotate(-45)" font-size="6.1" fill="#1a1a1a" stroke="#1a1a1a" stroke-width="0.100" text-anchor="end">56<tspan font-size="4.51" dy="-2.93">KO</tspan></text>
<text transform="translate(256.80 350.65) rotate(-45)" font-size="6.1" fill="#1a1a1a" stroke="#1a1a1a" stroke-width="0.100" text-anchor="end">56<tspan font-size="4.51" dy="-2.93">KO</tspan><tspan dy="2.93">97</tspan><tspan font-size="4.51" dy="-2.93">KO</tspan></text>
<line x1="294.10" y1="341.35" x2="294.10" y2="264.60" stroke="#111" stroke-width="1.0"/>
<line x1="291.30" y1="304.33" x2="294.10" y2="304.33" stroke="#111" stroke-width="1.0"/>
<text transform="translate(288.30 306.68) scale(1.070 1)" font-size="7.6" fill="#1a1a1a" stroke="#1a1a1a" stroke-width="0.093" text-anchor="end">4</text>
<line x1="291.30" y1="267.80" x2="294.10" y2="267.80" stroke="#111" stroke-width="1.0"/>
<text transform="translate(288.30 270.15) scale(1.070 1)" font-size="7.6" fill="#1a1a1a" stroke="#1a1a1a" stroke-width="0.093" text-anchor="end">8</text>
<line x1="291.10" y1="340.85" x2="341.50" y2="340.85" stroke="#111" stroke-width="1.1"/>
<line x1="304.20" y1="313.91" x2="304.20" y2="294.28" stroke="#333" stroke-width="0.9"/>
<line x1="302.00" y1="294.28" x2="306.40" y2="294.28" stroke="#333" stroke-width="0.9"/>
<rect x="299.30" y="313.91" width="9.80" height="26.94" fill="#dc8c1e" stroke="#d48010" stroke-width="0.5"/>
<line x1="318.65" y1="295.19" x2="318.65" y2="279.67" stroke="#333" stroke-width="0.9"/>
<line x1="316.45" y1="279.67" x2="320.85" y2="279.67" stroke="#333" stroke-width="0.9"/>
<rect x="313.90" y="295.19" width="9.50" height="45.66" fill="#dc8c1e" stroke="#d48010" stroke-width="0.5"/>
<line x1="333.65" y1="337.20" x2="333.65" y2="332.18" stroke="#333" stroke-width="0.9"/>
<line x1="331.45" y1="332.18" x2="335.85" y2="332.18" stroke="#333" stroke-width="0.9"/>
<rect x="329.00" y="337.20" width="9.30" height="3.65" fill="#dc8c1e" stroke="#d48010" stroke-width="0.5"/>
<line x1="304.20" y1="340.85" x2="304.20" y2="344.05" stroke="#111" stroke-width="0.9"/>
<line x1="318.60" y1="340.85" x2="318.60" y2="344.05" stroke="#111" stroke-width="0.9"/>
<line x1="333.60" y1="340.85" x2="333.60" y2="344.05" stroke="#111" stroke-width="0.9"/>
<text transform="translate(319.00 259.90) scale(1.050 1)" font-size="8.0" fill="#1a1a1a" stroke="#1a1a1a" stroke-width="0.114" text-anchor="middle">CFU-M</text>
<text transform="translate(278.70 302.80) scale(1.250 1) rotate(-90)" font-size="6.6" fill="#1a1a1a" stroke="#1a1a1a" stroke-width="0.288" text-anchor="middle" textLength="48.80" lengthAdjust="spacingAndGlyphs">CFU-C/10<tspan font-size="3.96" dy="-2.77">4</tspan><tspan dy="2.77"> V</tspan><tspan font-size="3.96" dy="-2.77">+</tspan><tspan dy="2.77"> cells</tspan></text>
<text transform="translate(308.00 350.65) rotate(-45)" font-size="6.1" fill="#1a1a1a" stroke="#1a1a1a" stroke-width="0.100" text-anchor="end">WT</text>
<text transform="translate(322.40 350.65) rotate(-45)" font-size="6.1" fill="#1a1a1a" stroke="#1a1a1a" stroke-width="0.100" text-anchor="end">56<tspan font-size="4.51" dy="-2.93">KO</tspan></text>
<text transform="translate(337.40 350.65) rotate(-45)" font-size="6.1" fill="#1a1a1a" stroke="#1a1a1a" stroke-width="0.100" text-anchor="end">56<tspan font-size="4.51" dy="-2.93">KO</tspan><tspan dy="2.93">97</tspan><tspan font-size="4.51" dy="-2.93">KO</tspan></text>
<line x1="379.30" y1="341.35" x2="379.30" y2="264.60" stroke="#111" stroke-width="1.0"/>
<line x1="376.50" y1="304.33" x2="379.30" y2="304.33" stroke="#111" stroke-width="1.0"/>
<text transform="translate(373.50 306.68) scale(1.070 1)" font-size="7.6" fill="#1a1a1a" stroke="#1a1a1a" stroke-width="0.093" text-anchor="end">25</text>
<line x1="376.50" y1="267.80" x2="379.30" y2="267.80" stroke="#111" stroke-width="1.0"/>
<text transform="translate(373.50 270.15) scale(1.070 1)" font-size="7.6" fill="#1a1a1a" stroke="#1a1a1a" stroke-width="0.093" text-anchor="end">50</text>
<line x1="376.30" y1="340.85" x2="427.00" y2="340.85" stroke="#111" stroke-width="1.1"/>
<line x1="389.40" y1="314.11" x2="389.40" y2="304.33" stroke="#333" stroke-width="0.9"/>
<line x1="387.20" y1="304.33" x2="391.60" y2="304.33" stroke="#333" stroke-width="0.9"/>
<rect x="384.60" y="314.11" width="9.60" height="26.74" fill="#6ea546" stroke="#5e9a38" stroke-width="0.5"/>
<line x1="404.00" y1="287.52" x2="404.00" y2="279.49" stroke="#333" stroke-width="0.9"/>
<line x1="401.80" y1="279.49" x2="406.20" y2="279.49" stroke="#333" stroke-width="0.9"/>
<rect x="399.00" y="287.52" width="10.00" height="53.33" fill="#6ea546" stroke="#5e9a38" stroke-width="0.5"/>
<line x1="419.65" y1="340.27" x2="419.65" y2="338.80" stroke="#333" stroke-width="0.9"/>
<line x1="417.45" y1="338.80" x2="421.85" y2="338.80" stroke="#333" stroke-width="0.9"/>
<rect x="414.90" y="340.27" width="9.50" height="0.58" fill="#6ea546" stroke="#5e9a38" stroke-width="0.5"/>
<line x1="389.40" y1="340.85" x2="389.40" y2="344.05" stroke="#111" stroke-width="0.9"/>
<line x1="404.00" y1="340.85" x2="404.00" y2="344.05" stroke="#111" stroke-width="0.9"/>
<line x1="419.60" y1="340.85" x2="419.60" y2="344.05" stroke="#111" stroke-width="0.9"/>
<text transform="translate(404.00 259.90) scale(1.050 1)" font-size="8.0" fill="#1a1a1a" stroke="#1a1a1a" stroke-width="0.114" text-anchor="middle">CFU-GM</text>
<text transform="translate(403.90 279.00) scale(1.100 1)" font-size="7.2" fill="#111" stroke="#111" stroke-width="0.182" text-anchor="middle">*</text>
<text transform="translate(419.60 337.00) scale(1.100 1)" font-size="7.2" fill="#111" stroke="#111" stroke-width="0.182" text-anchor="middle">*</text>
<text transform="translate(359.50 302.80) scale(1.250 1) rotate(-90)" font-size="6.6" fill="#1a1a1a" stroke="#1a1a1a" stroke-width="0.288" text-anchor="middle" textLength="48.80" lengthAdjust="spacingAndGlyphs">CFU-C/10<tspan font-size="3.96" dy="-2.77">4</tspan><tspan dy="2.77"> V</tspan><tspan font-size="3.96" dy="-2.77">+</tspan><tspan dy="2.77"> cells</tspan></text>
<text transform="translate(393.20 350.65) rotate(-45)" font-size="6.1" fill="#1a1a1a" stroke="#1a1a1a" stroke-width="0.100" text-anchor="end">WT</text>
<text transform="translate(407.80 350.65) rotate(-45)" font-size="6.1" fill="#1a1a1a" stroke="#1a1a1a" stroke-width="0.100" text-anchor="end">56<tspan font-size="4.51" dy="-2.93">KO</tspan></text>
<text transform="translate(423.40 350.65) rotate(-45)" font-size="6.1" fill="#1a1a1a" stroke="#1a1a1a" stroke-width="0.100" text-anchor="end">56<tspan font-size="4.51" dy="-2.93">KO</tspan><tspan dy="2.93">97</tspan><tspan font-size="4.51" dy="-2.93">KO</tspan></text>
<line x1="459.50" y1="341.35" x2="459.50" y2="264.60" stroke="#111" stroke-width="1.0"/>
<line x1="456.70" y1="304.33" x2="459.50" y2="304.33" stroke="#111" stroke-width="1.0"/>
<text transform="translate(453.70 306.68) scale(1.070 1)" font-size="7.6" fill="#1a1a1a" stroke="#1a1a1a" stroke-width="0.093" text-anchor="end">2</text>
<line x1="456.70" y1="267.80" x2="459.50" y2="267.80" stroke="#111" stroke-width="1.0"/>
<text transform="translate(453.70 270.15) scale(1.070 1)" font-size="7.6" fill="#1a1a1a" stroke="#1a1a1a" stroke-width="0.093" text-anchor="end">4</text>
<line x1="456.50" y1="340.85" x2="507.00" y2="340.85" stroke="#111" stroke-width="1.1"/>
<line x1="470.10" y1="288.80" x2="470.10" y2="280.58" stroke="#333" stroke-width="0.9"/>
<line x1="467.90" y1="280.58" x2="472.30" y2="280.58" stroke="#333" stroke-width="0.9"/>
<rect x="465.40" y="288.80" width="9.40" height="52.05" fill="#a5052d" stroke="#960025" stroke-width="0.5"/>
<line x1="485.00" y1="292.45" x2="485.00" y2="280.58" stroke="#333" stroke-width="0.9"/>
<line x1="482.80" y1="280.58" x2="487.20" y2="280.58" stroke="#333" stroke-width="0.9"/>
<rect x="480.20" y="292.45" width="9.60" height="48.40" fill="#a5052d" stroke="#960025" stroke-width="0.5"/>
<line x1="470.10" y1="340.85" x2="470.10" y2="344.05" stroke="#111" stroke-width="0.9"/>
<line x1="485.00" y1="340.85" x2="485.00" y2="344.05" stroke="#111" stroke-width="0.9"/>
<line x1="499.80" y1="340.85" x2="499.80" y2="344.05" stroke="#111" stroke-width="0.9"/>
<text transform="translate(484.90 259.90) scale(1.050 1)" font-size="8.0" fill="#1a1a1a" stroke="#1a1a1a" stroke-width="0.114" text-anchor="middle">CFU-GEMM</text>
<text transform="translate(500.20 340.50) scale(1.100 1)" font-size="7.2" fill="#111" stroke="#111" stroke-width="0.182" text-anchor="middle">**</text>
<text transform="translate(444.20 302.80) scale(1.250 1) rotate(-90)" font-size="6.6" fill="#1a1a1a" stroke="#1a1a1a" stroke-width="0.288" text-anchor="middle" textLength="48.80" lengthAdjust="spacingAndGlyphs">CFU-C/10<tspan font-size="3.96" dy="-2.77">4</tspan><tspan dy="2.77"> V</tspan><tspan font-size="3.96" dy="-2.77">+</tspan><tspan dy="2.77"> cells</tspan></text>
<text transform="translate(473.90 350.65) rotate(-45)" font-size="6.1" fill="#1a1a1a" stroke="#1a1a1a" stroke-width="0.100" text-anchor="end">WT</text>
<text transform="translate(488.80 350.65) rotate(-45)" font-size="6.1" fill="#1a1a1a" stroke="#1a1a1a" stroke-width="0.100" text-anchor="end">56<tspan font-size="4.51" dy="-2.93">KO</tspan></text>
<text transform="translate(503.60 350.65) rotate(-45)" font-size="6.1" fill="#1a1a1a" stroke="#1a1a1a" stroke-width="0.100" text-anchor="end">56<tspan font-size="4.51" dy="-2.93">KO</tspan><tspan dy="2.93">97</tspan><tspan font-size="4.51" dy="-2.93">KO</tspan></text>
<rect x="0.5" y="0.5" width="519" height="376" fill="none" stroke="#000" stroke-width="1"/>
</svg>
</body></html>
